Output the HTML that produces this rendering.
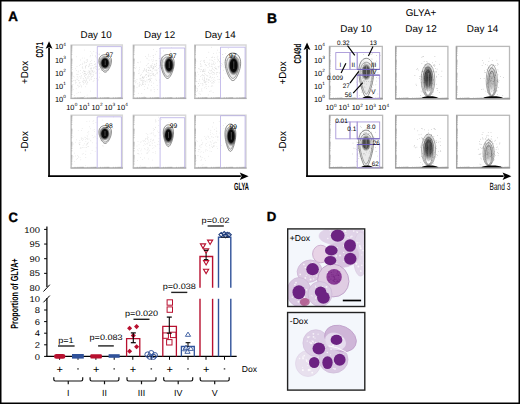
<!DOCTYPE html>
<html><head><meta charset="utf-8"><style>
html,body{margin:0;padding:0;background:#fff;width:520px;height:404px;overflow:hidden}
svg{display:block}
text{font-family:"Liberation Sans", sans-serif;stroke:none}
</style></head><body>
<svg width="520" height="404" viewBox="0 0 520 404" text-rendering="geometricPrecision" font-family='"Liberation Sans", sans-serif'><rect x="0" y="0" width="520" height="404" fill="#fff"/><text x="8.2" y="20.95" font-size="13.4" text-anchor="start" font-weight="bold" fill="#000" style="stroke:#000;stroke-width:0.35px">A</text><text x="96.1" y="37.9" font-size="9.8" text-anchor="middle" fill="#000">Day 10</text><text x="159.6" y="37.9" font-size="9.8" text-anchor="middle" fill="#000">Day 12</text><text x="220.2" y="37.9" font-size="9.8" text-anchor="middle" fill="#000">Day 14</text><line x1="49.05" y1="47.8" x2="49.05" y2="177" stroke="#000" stroke-width="1.7"/><polygon points="49.05,41.3 52.449999999999996,48.8 49.05,47.199999999999996 45.65,48.8" fill="#000"/><line x1="48.2" y1="176.2" x2="240.79999999999998" y2="176.2" stroke="#000" stroke-width="1.7"/><polygon points="248.6,176.2 239.79999999999998,172.5 241.6,176.2 239.79999999999998,179.89999999999998" fill="#000"/><text x="0" y="0" font-size="10.0" text-anchor="middle" font-weight="bold" fill="#000" transform="translate(43.0,49.9) rotate(-90) scale(0.6,1)">CD71</text><text x="0" y="0" font-size="10.2" text-anchor="middle" fill="#000" transform="translate(27.6,72.4) rotate(-90) scale(0.96,1)">+Dox</text><text x="0" y="0" font-size="10.2" text-anchor="middle" fill="#000" transform="translate(27.6,141.4) rotate(-90) scale(0.96,1)">-Dox</text><text x="0" y="0" font-size="10.4" text-anchor="middle" font-weight="bold" fill="#000" transform="translate(241.4,189.5) scale(0.55,1)">GLYA</text><text x="54.9" y="49.4" font-size="7.4" text-anchor="start">10<tspan font-size="4.70" dy="-3.5" dx="0.2">4</tspan></text><text x="54.9" y="62.519999999999996" font-size="7.4" text-anchor="start">10<tspan font-size="4.70" dy="-3.5" dx="0.2">3</tspan></text><text x="54.9" y="75.64" font-size="7.4" text-anchor="start">10<tspan font-size="4.70" dy="-3.5" dx="0.2">2</tspan></text><text x="54.9" y="88.75999999999999" font-size="7.4" text-anchor="start">10<tspan font-size="4.70" dy="-3.5" dx="0.2">1</tspan></text><text x="54.9" y="101.88" font-size="7.4" text-anchor="start">10<tspan font-size="4.70" dy="-3.5" dx="0.2">0</tspan></text><text x="66.2" y="109.5" font-size="7.4" text-anchor="start">10<tspan font-size="4.70" dy="-3.5" dx="0.2">0</tspan></text><text x="78.85000000000001" y="109.5" font-size="7.4" text-anchor="start">10<tspan font-size="4.70" dy="-3.5" dx="0.2">1</tspan></text><text x="91.5" y="109.5" font-size="7.4" text-anchor="start">10<tspan font-size="4.70" dy="-3.5" dx="0.2">2</tspan></text><text x="104.15" y="109.5" font-size="7.4" text-anchor="start">10<tspan font-size="4.70" dy="-3.5" dx="0.2">3</tspan></text><text x="116.80000000000001" y="109.5" font-size="7.4" text-anchor="start">10<tspan font-size="4.70" dy="-3.5" dx="0.2">4</tspan></text><rect x="71.2" y="45.0" width="51.099999999999994" height="53.400000000000006" stroke="#d8d8d8" fill="none" stroke-width="1.5"/><line x1="71.2" y1="45.0" x2="71.2" y2="98.4" stroke="#c2c2c2" stroke-width="1.2"/><line x1="70.60000000000001" y1="98.4" x2="122.89999999999999" y2="98.4" stroke="#b2b2b2" stroke-width="1.4"/><line x1="71.2" y1="94.38124955788585" x2="72.4" y2="94.38124955788585" stroke="#999" stroke-width="0.5"/><line x1="71.2" y1="92.03043124949251" x2="72.4" y2="92.03043124949251" stroke="#999" stroke-width="0.5"/><line x1="71.2" y1="90.36249911577171" x2="72.4" y2="90.36249911577171" stroke="#999" stroke-width="0.5"/><line x1="71.2" y1="89.06875044211415" x2="72.4" y2="89.06875044211415" stroke="#999" stroke-width="0.5"/><line x1="71.2" y1="88.01168080737835" x2="72.4" y2="88.01168080737835" stroke="#999" stroke-width="0.5"/><line x1="71.2" y1="87.11794116580967" x2="72.4" y2="87.11794116580967" stroke="#999" stroke-width="0.5"/><line x1="71.2" y1="86.34374867365756" x2="72.4" y2="86.34374867365756" stroke="#999" stroke-width="0.5"/><line x1="71.2" y1="85.66086249898501" x2="72.4" y2="85.66086249898501" stroke="#999" stroke-width="0.5"/><line x1="71.2" y1="81.03124955788586" x2="72.4" y2="81.03124955788586" stroke="#999" stroke-width="0.5"/><line x1="71.2" y1="78.68043124949251" x2="72.4" y2="78.68043124949251" stroke="#999" stroke-width="0.5"/><line x1="71.2" y1="77.01249911577172" x2="72.4" y2="77.01249911577172" stroke="#999" stroke-width="0.5"/><line x1="71.2" y1="75.71875044211416" x2="72.4" y2="75.71875044211416" stroke="#999" stroke-width="0.5"/><line x1="71.2" y1="74.66168080737836" x2="72.4" y2="74.66168080737836" stroke="#999" stroke-width="0.5"/><line x1="71.2" y1="73.76794116580967" x2="72.4" y2="73.76794116580967" stroke="#999" stroke-width="0.5"/><line x1="71.2" y1="72.99374867365756" x2="72.4" y2="72.99374867365756" stroke="#999" stroke-width="0.5"/><line x1="71.2" y1="72.31086249898502" x2="72.4" y2="72.31086249898502" stroke="#999" stroke-width="0.5"/><line x1="71.2" y1="67.68124955788585" x2="72.4" y2="67.68124955788585" stroke="#999" stroke-width="0.5"/><line x1="71.2" y1="65.3304312494925" x2="72.4" y2="65.3304312494925" stroke="#999" stroke-width="0.5"/><line x1="71.2" y1="63.6624991157717" x2="72.4" y2="63.6624991157717" stroke="#999" stroke-width="0.5"/><line x1="71.2" y1="62.36875044211415" x2="72.4" y2="62.36875044211415" stroke="#999" stroke-width="0.5"/><line x1="71.2" y1="61.31168080737836" x2="72.4" y2="61.31168080737836" stroke="#999" stroke-width="0.5"/><line x1="71.2" y1="60.41794116580967" x2="72.4" y2="60.41794116580967" stroke="#999" stroke-width="0.5"/><line x1="71.2" y1="59.643748673657555" x2="72.4" y2="59.643748673657555" stroke="#999" stroke-width="0.5"/><line x1="71.2" y1="58.960862498985016" x2="72.4" y2="58.960862498985016" stroke="#999" stroke-width="0.5"/><line x1="71.2" y1="54.331249557885855" x2="72.4" y2="54.331249557885855" stroke="#999" stroke-width="0.5"/><line x1="71.2" y1="51.980431249492504" x2="72.4" y2="51.980431249492504" stroke="#999" stroke-width="0.5"/><line x1="71.2" y1="50.3124991157717" x2="72.4" y2="50.3124991157717" stroke="#999" stroke-width="0.5"/><line x1="71.2" y1="49.01875044211415" x2="72.4" y2="49.01875044211415" stroke="#999" stroke-width="0.5"/><line x1="71.2" y1="47.96168080737836" x2="72.4" y2="47.96168080737836" stroke="#999" stroke-width="0.5"/><line x1="71.2" y1="47.06794116580967" x2="72.4" y2="47.06794116580967" stroke="#999" stroke-width="0.5"/><line x1="71.2" y1="46.293748673657554" x2="72.4" y2="46.293748673657554" stroke="#999" stroke-width="0.5"/><line x1="71.2" y1="45.610862498985014" x2="72.4" y2="45.610862498985014" stroke="#999" stroke-width="0.5"/><line x1="75.04565819460736" y1="98.4" x2="75.04565819460736" y2="97.2" stroke="#999" stroke-width="0.5"/><line x1="77.2952240290437" y1="98.4" x2="77.2952240290437" y2="97.2" stroke="#999" stroke-width="0.5"/><line x1="78.89131638921472" y1="98.4" x2="78.89131638921472" y2="97.2" stroke="#999" stroke-width="0.5"/><line x1="80.12934180539264" y1="98.4" x2="80.12934180539264" y2="97.2" stroke="#999" stroke-width="0.5"/><line x1="81.14088222365105" y1="98.4" x2="81.14088222365105" y2="97.2" stroke="#999" stroke-width="0.5"/><line x1="81.99612746118213" y1="98.4" x2="81.99612746118213" y2="97.2" stroke="#999" stroke-width="0.5"/><line x1="82.73697458382208" y1="98.4" x2="82.73697458382208" y2="97.2" stroke="#999" stroke-width="0.5"/><line x1="83.39044805808737" y1="98.4" x2="83.39044805808737" y2="97.2" stroke="#999" stroke-width="0.5"/><line x1="87.82065819460735" y1="98.4" x2="87.82065819460735" y2="97.2" stroke="#999" stroke-width="0.5"/><line x1="90.07022402904369" y1="98.4" x2="90.07022402904369" y2="97.2" stroke="#999" stroke-width="0.5"/><line x1="91.66631638921471" y1="98.4" x2="91.66631638921471" y2="97.2" stroke="#999" stroke-width="0.5"/><line x1="92.90434180539263" y1="98.4" x2="92.90434180539263" y2="97.2" stroke="#999" stroke-width="0.5"/><line x1="93.91588222365104" y1="98.4" x2="93.91588222365104" y2="97.2" stroke="#999" stroke-width="0.5"/><line x1="94.77112746118212" y1="98.4" x2="94.77112746118212" y2="97.2" stroke="#999" stroke-width="0.5"/><line x1="95.51197458382207" y1="98.4" x2="95.51197458382207" y2="97.2" stroke="#999" stroke-width="0.5"/><line x1="96.16544805808736" y1="98.4" x2="96.16544805808736" y2="97.2" stroke="#999" stroke-width="0.5"/><line x1="100.59565819460735" y1="98.4" x2="100.59565819460735" y2="97.2" stroke="#999" stroke-width="0.5"/><line x1="102.84522402904369" y1="98.4" x2="102.84522402904369" y2="97.2" stroke="#999" stroke-width="0.5"/><line x1="104.44131638921472" y1="98.4" x2="104.44131638921472" y2="97.2" stroke="#999" stroke-width="0.5"/><line x1="105.67934180539264" y1="98.4" x2="105.67934180539264" y2="97.2" stroke="#999" stroke-width="0.5"/><line x1="106.69088222365104" y1="98.4" x2="106.69088222365104" y2="97.2" stroke="#999" stroke-width="0.5"/><line x1="107.54612746118212" y1="98.4" x2="107.54612746118212" y2="97.2" stroke="#999" stroke-width="0.5"/><line x1="108.28697458382207" y1="98.4" x2="108.28697458382207" y2="97.2" stroke="#999" stroke-width="0.5"/><line x1="108.94044805808737" y1="98.4" x2="108.94044805808737" y2="97.2" stroke="#999" stroke-width="0.5"/><line x1="113.37065819460736" y1="98.4" x2="113.37065819460736" y2="97.2" stroke="#999" stroke-width="0.5"/><line x1="115.6202240290437" y1="98.4" x2="115.6202240290437" y2="97.2" stroke="#999" stroke-width="0.5"/><line x1="117.21631638921473" y1="98.4" x2="117.21631638921473" y2="97.2" stroke="#999" stroke-width="0.5"/><line x1="118.45434180539264" y1="98.4" x2="118.45434180539264" y2="97.2" stroke="#999" stroke-width="0.5"/><line x1="119.46588222365105" y1="98.4" x2="119.46588222365105" y2="97.2" stroke="#999" stroke-width="0.5"/><line x1="120.32112746118213" y1="98.4" x2="120.32112746118213" y2="97.2" stroke="#999" stroke-width="0.5"/><line x1="121.06197458382208" y1="98.4" x2="121.06197458382208" y2="97.2" stroke="#999" stroke-width="0.5"/><line x1="121.71544805808738" y1="98.4" x2="121.71544805808738" y2="97.2" stroke="#999" stroke-width="0.5"/><g fill="#999" opacity="0.55"><circle cx="83.9" cy="79.0" r="0.36"/><circle cx="84.2" cy="71.5" r="0.36"/><circle cx="77.9" cy="77.0" r="0.36"/><circle cx="96.3" cy="69.2" r="0.36"/><circle cx="95.6" cy="68.1" r="0.36"/><circle cx="89.8" cy="71.8" r="0.36"/><circle cx="90.8" cy="73.8" r="0.36"/><circle cx="78.2" cy="74.5" r="0.36"/><circle cx="89.0" cy="70.3" r="0.36"/><circle cx="90.9" cy="63.7" r="0.36"/><circle cx="89.0" cy="74.2" r="0.36"/><circle cx="80.3" cy="92.2" r="0.36"/><circle cx="91.3" cy="79.6" r="0.36"/><circle cx="80.7" cy="70.4" r="0.36"/><circle cx="83.2" cy="74.1" r="0.36"/><circle cx="91.9" cy="70.8" r="0.36"/><circle cx="82.2" cy="67.3" r="0.36"/><circle cx="81.6" cy="86.9" r="0.36"/><circle cx="79.0" cy="80.3" r="0.36"/><circle cx="90.1" cy="56.8" r="0.36"/><circle cx="86.7" cy="83.9" r="0.36"/><circle cx="85.3" cy="66.3" r="0.36"/><circle cx="90.7" cy="68.9" r="0.36"/><circle cx="73.1" cy="89.7" r="0.36"/><circle cx="92.3" cy="76.7" r="0.36"/><circle cx="99.2" cy="66.4" r="0.36"/><circle cx="87.3" cy="60.5" r="0.36"/><circle cx="91.8" cy="63.3" r="0.36"/><circle cx="82.2" cy="64.6" r="0.36"/><circle cx="77.5" cy="74.5" r="0.36"/><circle cx="97.8" cy="46.4" r="0.36"/><circle cx="73.1" cy="84.5" r="0.36"/><circle cx="99.2" cy="68.3" r="0.36"/><circle cx="89.5" cy="63.9" r="0.36"/><circle cx="76.2" cy="88.8" r="0.36"/><circle cx="96.2" cy="66.9" r="0.36"/><circle cx="88.5" cy="75.0" r="0.36"/><circle cx="100.6" cy="67.7" r="0.36"/><circle cx="90.9" cy="74.2" r="0.36"/><circle cx="94.8" cy="71.1" r="0.36"/><circle cx="93.8" cy="51.3" r="0.36"/><circle cx="84.6" cy="83.0" r="0.36"/><circle cx="74.4" cy="95.6" r="0.36"/><circle cx="91.2" cy="67.8" r="0.36"/><circle cx="89.2" cy="76.3" r="0.36"/><circle cx="87.3" cy="82.1" r="0.36"/><circle cx="80.3" cy="73.5" r="0.36"/><circle cx="95.6" cy="66.1" r="0.36"/><circle cx="78.3" cy="86.9" r="0.36"/><circle cx="99.4" cy="59.2" r="0.36"/><circle cx="73.8" cy="80.7" r="0.36"/><circle cx="84.9" cy="71.1" r="0.36"/><circle cx="98.9" cy="54.5" r="0.36"/><circle cx="97.6" cy="53.3" r="0.36"/><circle cx="79.2" cy="83.5" r="0.36"/><circle cx="96.4" cy="72.9" r="0.36"/><circle cx="89.4" cy="71.7" r="0.36"/><circle cx="87.6" cy="76.8" r="0.36"/><circle cx="84.7" cy="76.4" r="0.36"/><circle cx="91.4" cy="69.0" r="0.36"/><circle cx="93.1" cy="72.7" r="0.36"/><circle cx="104.3" cy="62.4" r="0.36"/><circle cx="82.4" cy="72.3" r="0.36"/><circle cx="86.1" cy="81.0" r="0.36"/><circle cx="83.2" cy="78.4" r="0.36"/><circle cx="76.1" cy="82.3" r="0.36"/><circle cx="89.8" cy="72.2" r="0.36"/><circle cx="82.4" cy="81.4" r="0.36"/><circle cx="88.8" cy="66.3" r="0.36"/><circle cx="108.1" cy="59.9" r="0.36"/><circle cx="81.3" cy="75.6" r="0.36"/><circle cx="84.2" cy="73.7" r="0.36"/><circle cx="95.3" cy="55.8" r="0.36"/><circle cx="85.6" cy="81.6" r="0.36"/><circle cx="94.0" cy="80.2" r="0.36"/><circle cx="83.2" cy="80.5" r="0.36"/><circle cx="96.0" cy="52.8" r="0.36"/><circle cx="92.4" cy="55.1" r="0.36"/><circle cx="87.8" cy="82.1" r="0.36"/><circle cx="84.9" cy="75.4" r="0.36"/><circle cx="93.4" cy="68.8" r="0.36"/><circle cx="85.5" cy="86.8" r="0.36"/><circle cx="95.7" cy="63.3" r="0.36"/><circle cx="94.5" cy="64.4" r="0.36"/><circle cx="87.4" cy="78.1" r="0.36"/><circle cx="88.2" cy="76.9" r="0.36"/><circle cx="72.5" cy="69.6" r="0.36"/><circle cx="91.8" cy="60.2" r="0.36"/><circle cx="77.0" cy="66.6" r="0.36"/><circle cx="97.6" cy="71.0" r="0.36"/><circle cx="99.5" cy="54.8" r="0.36"/><circle cx="86.3" cy="62.7" r="0.36"/><circle cx="93.1" cy="81.7" r="0.36"/><circle cx="78.2" cy="92.4" r="0.36"/><circle cx="95.1" cy="64.7" r="0.36"/><circle cx="85.4" cy="68.1" r="0.36"/><circle cx="89.8" cy="73.7" r="0.36"/><circle cx="99.7" cy="53.9" r="0.36"/><circle cx="96.5" cy="78.4" r="0.36"/><circle cx="99.3" cy="61.6" r="0.36"/><circle cx="79.6" cy="86.6" r="0.36"/><circle cx="87.3" cy="73.1" r="0.36"/><circle cx="99.1" cy="61.0" r="0.36"/><circle cx="89.1" cy="65.3" r="0.36"/><circle cx="86.2" cy="80.2" r="0.36"/><circle cx="87.0" cy="83.9" r="0.36"/><circle cx="85.7" cy="82.3" r="0.36"/><circle cx="99.7" cy="77.1" r="0.36"/><circle cx="80.2" cy="84.9" r="0.36"/><circle cx="75.2" cy="80.8" r="0.36"/><circle cx="84.5" cy="73.8" r="0.36"/><circle cx="80.9" cy="78.7" r="0.36"/><circle cx="102.4" cy="61.3" r="0.36"/><circle cx="91.0" cy="78.1" r="0.36"/><circle cx="84.5" cy="63.0" r="0.36"/><circle cx="81.3" cy="85.9" r="0.36"/><circle cx="95.3" cy="73.1" r="0.36"/><circle cx="86.3" cy="79.8" r="0.36"/><circle cx="87.7" cy="61.3" r="0.36"/><circle cx="94.6" cy="61.7" r="0.36"/><circle cx="78.1" cy="71.9" r="0.36"/><circle cx="72.5" cy="81.8" r="0.36"/><circle cx="75.6" cy="83.8" r="0.36"/><circle cx="80.5" cy="59.9" r="0.36"/><circle cx="92.8" cy="65.6" r="0.36"/><circle cx="88.9" cy="66.8" r="0.36"/><circle cx="93.3" cy="74.2" r="0.36"/><circle cx="92.2" cy="71.2" r="0.36"/><circle cx="98.3" cy="69.8" r="0.36"/><circle cx="90.3" cy="51.5" r="0.36"/><circle cx="94.3" cy="78.4" r="0.36"/><circle cx="83.6" cy="70.6" r="0.36"/><circle cx="90.5" cy="91.0" r="0.36"/><circle cx="77.9" cy="85.0" r="0.36"/><circle cx="103.2" cy="59.3" r="0.36"/><circle cx="91.3" cy="77.0" r="0.36"/><circle cx="78.1" cy="78.0" r="0.36"/><circle cx="88.9" cy="78.1" r="0.36"/><circle cx="85.9" cy="71.3" r="0.36"/><circle cx="77.1" cy="76.3" r="0.36"/><circle cx="94.3" cy="67.8" r="0.36"/><circle cx="78.6" cy="71.0" r="0.36"/><circle cx="110.3" cy="65.2" r="0.36"/><circle cx="91.8" cy="72.9" r="0.36"/><circle cx="101.4" cy="65.4" r="0.36"/><circle cx="85.6" cy="77.8" r="0.36"/><circle cx="89.2" cy="64.4" r="0.36"/><circle cx="98.2" cy="79.9" r="0.36"/><circle cx="73.6" cy="76.2" r="0.36"/><circle cx="88.9" cy="72.5" r="0.36"/><circle cx="82.7" cy="66.8" r="0.36"/><circle cx="105.3" cy="67.9" r="0.36"/><circle cx="75.5" cy="68.8" r="0.36"/><circle cx="101.6" cy="70.2" r="0.36"/><circle cx="102.6" cy="67.9" r="0.36"/><circle cx="78.4" cy="80.8" r="0.36"/><circle cx="85.7" cy="77.8" r="0.36"/><circle cx="79.7" cy="76.5" r="0.36"/><circle cx="90.4" cy="73.1" r="0.36"/><circle cx="92.0" cy="70.4" r="0.36"/><circle cx="83.3" cy="81.9" r="0.36"/><circle cx="86.7" cy="65.2" r="0.36"/><circle cx="80.6" cy="76.9" r="0.36"/><circle cx="85.3" cy="74.9" r="0.36"/><circle cx="86.2" cy="74.3" r="0.36"/><circle cx="85.0" cy="62.6" r="0.36"/><circle cx="90.0" cy="79.3" r="0.36"/><circle cx="90.2" cy="68.2" r="0.36"/><circle cx="90.3" cy="61.3" r="0.36"/><circle cx="77.9" cy="85.4" r="0.36"/><circle cx="76.5" cy="56.8" r="0.36"/><circle cx="76.9" cy="93.5" r="0.36"/><circle cx="82.8" cy="63.2" r="0.36"/><circle cx="79.4" cy="82.4" r="0.36"/><circle cx="90.7" cy="71.0" r="0.36"/><circle cx="99.6" cy="69.2" r="0.36"/><circle cx="86.1" cy="78.2" r="0.36"/><circle cx="101.1" cy="70.4" r="0.36"/><circle cx="95.5" cy="56.5" r="0.36"/><circle cx="84.9" cy="80.2" r="0.36"/><circle cx="83.6" cy="84.1" r="0.36"/><circle cx="91.6" cy="76.8" r="0.36"/><circle cx="84.3" cy="96.6" r="0.36"/><circle cx="97.4" cy="62.7" r="0.36"/><circle cx="87.1" cy="95.0" r="0.36"/><circle cx="83.2" cy="82.7" r="0.36"/><circle cx="95.1" cy="66.4" r="0.36"/><circle cx="75.7" cy="82.1" r="0.36"/><circle cx="89.5" cy="80.3" r="0.36"/><circle cx="93.3" cy="67.8" r="0.36"/><circle cx="93.9" cy="71.9" r="0.36"/><circle cx="88.1" cy="71.9" r="0.36"/><circle cx="84.1" cy="80.4" r="0.36"/><circle cx="76.8" cy="74.2" r="0.36"/><circle cx="86.3" cy="59.9" r="0.36"/><circle cx="82.3" cy="58.0" r="0.36"/><circle cx="80.1" cy="82.3" r="0.36"/><circle cx="91.3" cy="68.6" r="0.36"/><circle cx="84.2" cy="61.8" r="0.36"/><circle cx="102.7" cy="65.2" r="0.36"/><circle cx="96.1" cy="57.8" r="0.36"/><circle cx="84.6" cy="58.0" r="0.36"/><circle cx="93.3" cy="75.8" r="0.36"/><circle cx="91.9" cy="53.1" r="0.36"/><circle cx="80.6" cy="64.6" r="0.36"/><circle cx="86.5" cy="74.8" r="0.36"/><circle cx="92.0" cy="74.8" r="0.36"/><circle cx="99.8" cy="73.1" r="0.36"/><circle cx="74.4" cy="77.0" r="0.36"/><circle cx="76.7" cy="70.3" r="0.36"/><circle cx="85.5" cy="73.4" r="0.36"/><circle cx="90.7" cy="55.6" r="0.36"/><circle cx="75.1" cy="80.7" r="0.36"/><circle cx="84.5" cy="71.3" r="0.36"/><circle cx="85.7" cy="66.5" r="0.36"/><circle cx="92.6" cy="71.3" r="0.36"/><circle cx="85.5" cy="67.4" r="0.36"/><circle cx="84.7" cy="50.0" r="0.36"/><circle cx="77.4" cy="79.6" r="0.36"/><circle cx="72.7" cy="84.5" r="0.36"/><circle cx="87.6" cy="59.7" r="0.36"/><circle cx="84.0" cy="71.7" r="0.36"/><circle cx="90.4" cy="75.1" r="0.36"/><circle cx="85.9" cy="65.5" r="0.36"/><circle cx="85.0" cy="73.1" r="0.36"/><circle cx="92.9" cy="70.5" r="0.36"/><circle cx="79.7" cy="65.6" r="0.36"/><circle cx="82.9" cy="68.7" r="0.36"/><circle cx="76.2" cy="79.1" r="0.36"/><circle cx="81.8" cy="76.9" r="0.36"/><circle cx="91.0" cy="65.7" r="0.36"/><circle cx="107.2" cy="54.6" r="0.36"/><circle cx="96.2" cy="66.6" r="0.36"/></g><polyline points="97.3,98.4 97.3,46.6 121.39999999999999,46.6 121.39999999999999,98.4" fill="none" stroke="#b3a8e4" stroke-width="0.75"/><defs><radialGradient id="g1"><stop offset="0" stop-color="#000" stop-opacity="1.0"/><stop offset="0.6" stop-color="#000" stop-opacity="0.95"/><stop offset="0.8" stop-color="#000" stop-opacity="0.45"/><stop offset="1" stop-color="#000" stop-opacity="0"/></radialGradient></defs><path d="M105.20,54.60 L106.23,54.68 L107.23,54.90 L108.17,55.27 L109.03,55.78 L109.78,56.42 L110.40,57.18 L110.89,58.04 L111.23,59.00 L111.42,60.03 L111.48,61.12 L111.40,62.25 L111.20,63.40 L110.90,64.55 L110.52,65.68 L110.06,66.77 L109.56,67.80 L109.03,68.76 L108.48,69.62 L107.93,70.38 L107.37,71.02 L106.82,71.53 L106.27,71.90 L105.73,72.12 L105.20,72.20 L104.67,72.12 L104.13,71.90 L103.58,71.53 L103.03,71.02 L102.47,70.38 L101.92,69.62 L101.37,68.76 L100.84,67.80 L100.34,66.77 L99.88,65.68 L99.50,64.55 L99.20,63.40 L99.00,62.25 L98.92,61.12 L98.98,60.03 L99.17,59.00 L99.51,58.04 L100.00,57.18 L100.62,56.42 L101.37,55.78 L102.23,55.27 L103.17,54.90 L104.17,54.68Z" fill="#000" fill-opacity="0.03" stroke="#333" stroke-width="0.55"/><path d="M105.20,56.36 L106.05,56.42 L106.87,56.61 L107.64,56.91 L108.34,57.33 L108.96,57.85 L109.47,58.47 L109.86,59.18 L110.14,59.97 L110.30,60.81 L110.35,61.71 L110.28,62.63 L110.12,63.58 L109.87,64.52 L109.56,65.44 L109.19,66.34 L108.78,67.18 L108.34,67.97 L107.89,68.68 L107.43,69.30 L106.98,69.83 L106.53,70.24 L106.08,70.55 L105.64,70.73 L105.20,70.79 L104.76,70.73 L104.32,70.55 L103.87,70.24 L103.42,69.83 L102.97,69.30 L102.51,68.68 L102.06,67.97 L101.62,67.18 L101.21,66.34 L100.84,65.44 L100.53,64.52 L100.28,63.58 L100.12,62.63 L100.05,61.71 L100.10,60.81 L100.26,59.97 L100.54,59.18 L100.93,58.47 L101.44,57.85 L102.06,57.33 L102.76,56.91 L103.53,56.61 L104.35,56.42Z" fill="#000" fill-opacity="0.05" stroke="#444" stroke-width="0.45"/><ellipse cx="105.0" cy="63.00" rx="5.22" ry="6.67" fill="url(#g1)"/><line x1="105.20" y1="60.36" x2="105.20" y2="65.20" stroke="#fff" stroke-width="0.7" opacity="0.4"/><text x="109.4" y="57.4" font-size="6.7" text-anchor="middle" fill="#000">97</text><rect x="133.4" y="45.0" width="52.19999999999999" height="53.400000000000006" stroke="#d8d8d8" fill="none" stroke-width="1.5"/><line x1="133.4" y1="45.0" x2="133.4" y2="98.4" stroke="#c2c2c2" stroke-width="1.2"/><line x1="132.8" y1="98.4" x2="186.2" y2="98.4" stroke="#b2b2b2" stroke-width="1.4"/><line x1="133.4" y1="94.38124955788585" x2="134.6" y2="94.38124955788585" stroke="#999" stroke-width="0.5"/><line x1="133.4" y1="92.03043124949251" x2="134.6" y2="92.03043124949251" stroke="#999" stroke-width="0.5"/><line x1="133.4" y1="90.36249911577171" x2="134.6" y2="90.36249911577171" stroke="#999" stroke-width="0.5"/><line x1="133.4" y1="89.06875044211415" x2="134.6" y2="89.06875044211415" stroke="#999" stroke-width="0.5"/><line x1="133.4" y1="88.01168080737835" x2="134.6" y2="88.01168080737835" stroke="#999" stroke-width="0.5"/><line x1="133.4" y1="87.11794116580967" x2="134.6" y2="87.11794116580967" stroke="#999" stroke-width="0.5"/><line x1="133.4" y1="86.34374867365756" x2="134.6" y2="86.34374867365756" stroke="#999" stroke-width="0.5"/><line x1="133.4" y1="85.66086249898501" x2="134.6" y2="85.66086249898501" stroke="#999" stroke-width="0.5"/><line x1="133.4" y1="81.03124955788586" x2="134.6" y2="81.03124955788586" stroke="#999" stroke-width="0.5"/><line x1="133.4" y1="78.68043124949251" x2="134.6" y2="78.68043124949251" stroke="#999" stroke-width="0.5"/><line x1="133.4" y1="77.01249911577172" x2="134.6" y2="77.01249911577172" stroke="#999" stroke-width="0.5"/><line x1="133.4" y1="75.71875044211416" x2="134.6" y2="75.71875044211416" stroke="#999" stroke-width="0.5"/><line x1="133.4" y1="74.66168080737836" x2="134.6" y2="74.66168080737836" stroke="#999" stroke-width="0.5"/><line x1="133.4" y1="73.76794116580967" x2="134.6" y2="73.76794116580967" stroke="#999" stroke-width="0.5"/><line x1="133.4" y1="72.99374867365756" x2="134.6" y2="72.99374867365756" stroke="#999" stroke-width="0.5"/><line x1="133.4" y1="72.31086249898502" x2="134.6" y2="72.31086249898502" stroke="#999" stroke-width="0.5"/><line x1="133.4" y1="67.68124955788585" x2="134.6" y2="67.68124955788585" stroke="#999" stroke-width="0.5"/><line x1="133.4" y1="65.3304312494925" x2="134.6" y2="65.3304312494925" stroke="#999" stroke-width="0.5"/><line x1="133.4" y1="63.6624991157717" x2="134.6" y2="63.6624991157717" stroke="#999" stroke-width="0.5"/><line x1="133.4" y1="62.36875044211415" x2="134.6" y2="62.36875044211415" stroke="#999" stroke-width="0.5"/><line x1="133.4" y1="61.31168080737836" x2="134.6" y2="61.31168080737836" stroke="#999" stroke-width="0.5"/><line x1="133.4" y1="60.41794116580967" x2="134.6" y2="60.41794116580967" stroke="#999" stroke-width="0.5"/><line x1="133.4" y1="59.643748673657555" x2="134.6" y2="59.643748673657555" stroke="#999" stroke-width="0.5"/><line x1="133.4" y1="58.960862498985016" x2="134.6" y2="58.960862498985016" stroke="#999" stroke-width="0.5"/><line x1="133.4" y1="54.331249557885855" x2="134.6" y2="54.331249557885855" stroke="#999" stroke-width="0.5"/><line x1="133.4" y1="51.980431249492504" x2="134.6" y2="51.980431249492504" stroke="#999" stroke-width="0.5"/><line x1="133.4" y1="50.3124991157717" x2="134.6" y2="50.3124991157717" stroke="#999" stroke-width="0.5"/><line x1="133.4" y1="49.01875044211415" x2="134.6" y2="49.01875044211415" stroke="#999" stroke-width="0.5"/><line x1="133.4" y1="47.96168080737836" x2="134.6" y2="47.96168080737836" stroke="#999" stroke-width="0.5"/><line x1="133.4" y1="47.06794116580967" x2="134.6" y2="47.06794116580967" stroke="#999" stroke-width="0.5"/><line x1="133.4" y1="46.293748673657554" x2="134.6" y2="46.293748673657554" stroke="#999" stroke-width="0.5"/><line x1="133.4" y1="45.610862498985014" x2="134.6" y2="45.610862498985014" stroke="#999" stroke-width="0.5"/><line x1="137.32844144341496" y1="98.4" x2="137.32844144341496" y2="97.2" stroke="#999" stroke-width="0.5"/><line x1="139.6264323740916" y1="98.4" x2="139.6264323740916" y2="97.2" stroke="#999" stroke-width="0.5"/><line x1="141.2568828868299" y1="98.4" x2="141.2568828868299" y2="97.2" stroke="#999" stroke-width="0.5"/><line x1="142.52155855658503" y1="98.4" x2="142.52155855658503" y2="97.2" stroke="#999" stroke-width="0.5"/><line x1="143.55487381750655" y1="98.4" x2="143.55487381750655" y2="97.2" stroke="#999" stroke-width="0.5"/><line x1="144.42852942218605" y1="98.4" x2="144.42852942218605" y2="97.2" stroke="#999" stroke-width="0.5"/><line x1="145.18532433024487" y1="98.4" x2="145.18532433024487" y2="97.2" stroke="#999" stroke-width="0.5"/><line x1="145.85286474818318" y1="98.4" x2="145.85286474818318" y2="97.2" stroke="#999" stroke-width="0.5"/><line x1="150.37844144341494" y1="98.4" x2="150.37844144341494" y2="97.2" stroke="#999" stroke-width="0.5"/><line x1="152.67643237409158" y1="98.4" x2="152.67643237409158" y2="97.2" stroke="#999" stroke-width="0.5"/><line x1="154.3068828868299" y1="98.4" x2="154.3068828868299" y2="97.2" stroke="#999" stroke-width="0.5"/><line x1="155.57155855658505" y1="98.4" x2="155.57155855658505" y2="97.2" stroke="#999" stroke-width="0.5"/><line x1="156.60487381750653" y1="98.4" x2="156.60487381750653" y2="97.2" stroke="#999" stroke-width="0.5"/><line x1="157.47852942218603" y1="98.4" x2="157.47852942218603" y2="97.2" stroke="#999" stroke-width="0.5"/><line x1="158.23532433024485" y1="98.4" x2="158.23532433024485" y2="97.2" stroke="#999" stroke-width="0.5"/><line x1="158.90286474818316" y1="98.4" x2="158.90286474818316" y2="97.2" stroke="#999" stroke-width="0.5"/><line x1="163.42844144341495" y1="98.4" x2="163.42844144341495" y2="97.2" stroke="#999" stroke-width="0.5"/><line x1="165.7264323740916" y1="98.4" x2="165.7264323740916" y2="97.2" stroke="#999" stroke-width="0.5"/><line x1="167.3568828868299" y1="98.4" x2="167.3568828868299" y2="97.2" stroke="#999" stroke-width="0.5"/><line x1="168.62155855658506" y1="98.4" x2="168.62155855658506" y2="97.2" stroke="#999" stroke-width="0.5"/><line x1="169.65487381750654" y1="98.4" x2="169.65487381750654" y2="97.2" stroke="#999" stroke-width="0.5"/><line x1="170.52852942218604" y1="98.4" x2="170.52852942218604" y2="97.2" stroke="#999" stroke-width="0.5"/><line x1="171.28532433024486" y1="98.4" x2="171.28532433024486" y2="97.2" stroke="#999" stroke-width="0.5"/><line x1="171.95286474818317" y1="98.4" x2="171.95286474818317" y2="97.2" stroke="#999" stroke-width="0.5"/><line x1="176.47844144341497" y1="98.4" x2="176.47844144341497" y2="97.2" stroke="#999" stroke-width="0.5"/><line x1="178.7764323740916" y1="98.4" x2="178.7764323740916" y2="97.2" stroke="#999" stroke-width="0.5"/><line x1="180.40688288682992" y1="98.4" x2="180.40688288682992" y2="97.2" stroke="#999" stroke-width="0.5"/><line x1="181.67155855658507" y1="98.4" x2="181.67155855658507" y2="97.2" stroke="#999" stroke-width="0.5"/><line x1="182.70487381750655" y1="98.4" x2="182.70487381750655" y2="97.2" stroke="#999" stroke-width="0.5"/><line x1="183.57852942218605" y1="98.4" x2="183.57852942218605" y2="97.2" stroke="#999" stroke-width="0.5"/><line x1="184.33532433024487" y1="98.4" x2="184.33532433024487" y2="97.2" stroke="#999" stroke-width="0.5"/><line x1="185.00286474818319" y1="98.4" x2="185.00286474818319" y2="97.2" stroke="#999" stroke-width="0.5"/><g fill="#999" opacity="0.55"><circle cx="142.0" cy="79.9" r="0.36"/><circle cx="154.2" cy="89.4" r="0.36"/><circle cx="151.7" cy="81.9" r="0.36"/><circle cx="155.6" cy="76.0" r="0.36"/><circle cx="153.3" cy="68.0" r="0.36"/><circle cx="153.3" cy="59.9" r="0.36"/><circle cx="159.4" cy="56.0" r="0.36"/><circle cx="151.0" cy="89.8" r="0.36"/><circle cx="146.7" cy="74.4" r="0.36"/><circle cx="159.2" cy="65.3" r="0.36"/><circle cx="141.5" cy="80.4" r="0.36"/><circle cx="154.0" cy="75.2" r="0.36"/><circle cx="141.8" cy="93.3" r="0.36"/><circle cx="163.8" cy="61.9" r="0.36"/><circle cx="151.2" cy="67.2" r="0.36"/><circle cx="161.5" cy="57.2" r="0.36"/><circle cx="154.8" cy="64.1" r="0.36"/><circle cx="142.5" cy="83.7" r="0.36"/><circle cx="160.8" cy="63.9" r="0.36"/><circle cx="142.7" cy="84.4" r="0.36"/><circle cx="148.3" cy="75.8" r="0.36"/><circle cx="162.5" cy="72.7" r="0.36"/><circle cx="144.1" cy="96.3" r="0.36"/><circle cx="148.8" cy="79.7" r="0.36"/><circle cx="142.9" cy="76.6" r="0.36"/><circle cx="161.0" cy="53.1" r="0.36"/><circle cx="135.2" cy="68.4" r="0.36"/><circle cx="159.3" cy="61.0" r="0.36"/><circle cx="148.2" cy="70.4" r="0.36"/><circle cx="147.7" cy="64.0" r="0.36"/><circle cx="149.0" cy="60.0" r="0.36"/><circle cx="148.1" cy="76.0" r="0.36"/><circle cx="153.0" cy="67.6" r="0.36"/><circle cx="140.6" cy="80.1" r="0.36"/><circle cx="144.4" cy="89.7" r="0.36"/><circle cx="155.7" cy="66.7" r="0.36"/><circle cx="144.5" cy="69.7" r="0.36"/><circle cx="140.3" cy="75.8" r="0.36"/><circle cx="151.4" cy="75.4" r="0.36"/><circle cx="153.9" cy="87.5" r="0.36"/><circle cx="142.4" cy="77.5" r="0.36"/><circle cx="144.1" cy="77.7" r="0.36"/><circle cx="150.1" cy="75.3" r="0.36"/><circle cx="146.6" cy="77.6" r="0.36"/><circle cx="149.2" cy="79.2" r="0.36"/><circle cx="148.7" cy="63.7" r="0.36"/><circle cx="139.3" cy="85.2" r="0.36"/><circle cx="142.9" cy="82.6" r="0.36"/><circle cx="155.5" cy="70.5" r="0.36"/><circle cx="153.3" cy="68.5" r="0.36"/><circle cx="136.1" cy="81.8" r="0.36"/><circle cx="152.8" cy="65.1" r="0.36"/><circle cx="147.9" cy="80.0" r="0.36"/><circle cx="140.8" cy="84.2" r="0.36"/><circle cx="165.5" cy="55.6" r="0.36"/><circle cx="150.1" cy="70.5" r="0.36"/><circle cx="162.6" cy="65.4" r="0.36"/><circle cx="156.8" cy="60.8" r="0.36"/><circle cx="148.6" cy="72.8" r="0.36"/><circle cx="156.8" cy="51.4" r="0.36"/><circle cx="155.4" cy="66.7" r="0.36"/><circle cx="152.8" cy="73.0" r="0.36"/><circle cx="135.3" cy="80.8" r="0.36"/><circle cx="162.2" cy="57.9" r="0.36"/><circle cx="139.5" cy="67.6" r="0.36"/><circle cx="137.8" cy="83.8" r="0.36"/><circle cx="164.0" cy="65.4" r="0.36"/><circle cx="151.0" cy="90.8" r="0.36"/><circle cx="144.1" cy="70.3" r="0.36"/><circle cx="153.5" cy="74.1" r="0.36"/><circle cx="139.6" cy="69.2" r="0.36"/><circle cx="151.4" cy="73.0" r="0.36"/><circle cx="137.0" cy="79.6" r="0.36"/><circle cx="143.9" cy="80.4" r="0.36"/><circle cx="147.7" cy="72.8" r="0.36"/><circle cx="145.6" cy="84.4" r="0.36"/><circle cx="161.3" cy="60.4" r="0.36"/><circle cx="156.4" cy="60.5" r="0.36"/><circle cx="149.4" cy="78.9" r="0.36"/><circle cx="162.4" cy="59.4" r="0.36"/><circle cx="148.1" cy="75.0" r="0.36"/><circle cx="135.3" cy="82.8" r="0.36"/><circle cx="142.7" cy="80.5" r="0.36"/><circle cx="138.6" cy="62.8" r="0.36"/><circle cx="149.1" cy="74.8" r="0.36"/><circle cx="143.8" cy="84.2" r="0.36"/><circle cx="146.3" cy="69.2" r="0.36"/><circle cx="153.0" cy="55.8" r="0.36"/><circle cx="142.7" cy="77.1" r="0.36"/><circle cx="156.4" cy="65.7" r="0.36"/><circle cx="151.5" cy="65.0" r="0.36"/><circle cx="151.5" cy="85.4" r="0.36"/><circle cx="143.0" cy="77.2" r="0.36"/><circle cx="150.3" cy="80.6" r="0.36"/><circle cx="137.6" cy="62.4" r="0.36"/><circle cx="154.2" cy="75.8" r="0.36"/><circle cx="154.4" cy="91.8" r="0.36"/><circle cx="150.6" cy="73.6" r="0.36"/><circle cx="157.1" cy="69.9" r="0.36"/><circle cx="163.7" cy="50.9" r="0.36"/><circle cx="156.1" cy="64.1" r="0.36"/><circle cx="157.1" cy="85.6" r="0.36"/><circle cx="148.7" cy="70.6" r="0.36"/><circle cx="144.3" cy="68.7" r="0.36"/><circle cx="143.1" cy="82.6" r="0.36"/><circle cx="149.1" cy="73.1" r="0.36"/><circle cx="147.2" cy="82.0" r="0.36"/><circle cx="153.2" cy="68.3" r="0.36"/><circle cx="154.7" cy="67.0" r="0.36"/><circle cx="138.4" cy="93.2" r="0.36"/><circle cx="152.9" cy="61.3" r="0.36"/><circle cx="158.5" cy="68.7" r="0.36"/><circle cx="134.7" cy="97.3" r="0.36"/><circle cx="151.8" cy="78.4" r="0.36"/><circle cx="150.5" cy="70.1" r="0.36"/><circle cx="134.8" cy="91.5" r="0.36"/><circle cx="149.0" cy="70.0" r="0.36"/><circle cx="151.9" cy="71.1" r="0.36"/><circle cx="154.8" cy="65.0" r="0.36"/><circle cx="148.4" cy="54.2" r="0.36"/><circle cx="144.9" cy="81.5" r="0.36"/><circle cx="160.8" cy="60.7" r="0.36"/><circle cx="147.7" cy="87.5" r="0.36"/><circle cx="145.8" cy="81.4" r="0.36"/><circle cx="163.9" cy="62.0" r="0.36"/><circle cx="159.8" cy="58.4" r="0.36"/><circle cx="150.6" cy="70.7" r="0.36"/><circle cx="149.8" cy="82.0" r="0.36"/><circle cx="170.3" cy="51.1" r="0.36"/><circle cx="143.6" cy="80.9" r="0.36"/><circle cx="139.3" cy="84.1" r="0.36"/><circle cx="153.9" cy="66.6" r="0.36"/><circle cx="153.5" cy="55.6" r="0.36"/><circle cx="155.6" cy="54.2" r="0.36"/><circle cx="142.5" cy="72.5" r="0.36"/><circle cx="145.1" cy="83.0" r="0.36"/><circle cx="149.5" cy="68.7" r="0.36"/><circle cx="153.6" cy="83.1" r="0.36"/><circle cx="148.8" cy="75.9" r="0.36"/><circle cx="159.9" cy="66.9" r="0.36"/><circle cx="148.4" cy="76.7" r="0.36"/><circle cx="157.4" cy="72.3" r="0.36"/><circle cx="146.3" cy="65.3" r="0.36"/><circle cx="149.7" cy="81.2" r="0.36"/><circle cx="138.9" cy="70.9" r="0.36"/><circle cx="148.5" cy="55.9" r="0.36"/><circle cx="146.4" cy="70.6" r="0.36"/><circle cx="152.8" cy="63.6" r="0.36"/><circle cx="140.8" cy="75.1" r="0.36"/><circle cx="148.3" cy="67.2" r="0.36"/><circle cx="148.9" cy="79.3" r="0.36"/><circle cx="159.4" cy="79.9" r="0.36"/><circle cx="141.7" cy="74.2" r="0.36"/><circle cx="142.2" cy="77.3" r="0.36"/><circle cx="153.5" cy="57.4" r="0.36"/><circle cx="152.9" cy="69.5" r="0.36"/><circle cx="159.5" cy="48.4" r="0.36"/><circle cx="156.0" cy="69.3" r="0.36"/><circle cx="153.0" cy="73.5" r="0.36"/><circle cx="160.5" cy="62.2" r="0.36"/><circle cx="156.6" cy="63.4" r="0.36"/><circle cx="155.3" cy="60.8" r="0.36"/><circle cx="147.8" cy="88.7" r="0.36"/><circle cx="152.8" cy="68.4" r="0.36"/><circle cx="138.4" cy="73.4" r="0.36"/><circle cx="150.5" cy="79.8" r="0.36"/><circle cx="152.6" cy="74.6" r="0.36"/><circle cx="148.4" cy="84.9" r="0.36"/><circle cx="145.2" cy="70.5" r="0.36"/><circle cx="156.7" cy="67.5" r="0.36"/><circle cx="146.2" cy="69.5" r="0.36"/><circle cx="146.4" cy="80.0" r="0.36"/><circle cx="151.9" cy="59.8" r="0.36"/><circle cx="152.6" cy="71.5" r="0.36"/><circle cx="139.7" cy="86.2" r="0.36"/><circle cx="146.2" cy="71.7" r="0.36"/><circle cx="155.9" cy="79.1" r="0.36"/><circle cx="142.6" cy="81.2" r="0.36"/><circle cx="144.3" cy="86.5" r="0.36"/><circle cx="142.9" cy="84.2" r="0.36"/><circle cx="144.8" cy="80.0" r="0.36"/><circle cx="147.9" cy="67.5" r="0.36"/><circle cx="168.1" cy="59.3" r="0.36"/><circle cx="143.6" cy="77.9" r="0.36"/><circle cx="160.1" cy="65.5" r="0.36"/><circle cx="136.2" cy="67.0" r="0.36"/><circle cx="159.4" cy="71.5" r="0.36"/><circle cx="141.4" cy="85.7" r="0.36"/><circle cx="153.2" cy="75.2" r="0.36"/><circle cx="156.9" cy="73.3" r="0.36"/><circle cx="150.3" cy="76.0" r="0.36"/><circle cx="171.7" cy="47.5" r="0.36"/><circle cx="145.8" cy="75.3" r="0.36"/><circle cx="156.7" cy="63.0" r="0.36"/><circle cx="159.1" cy="58.3" r="0.36"/><circle cx="151.2" cy="66.4" r="0.36"/><circle cx="150.2" cy="65.6" r="0.36"/><circle cx="151.5" cy="65.8" r="0.36"/><circle cx="150.6" cy="80.2" r="0.36"/><circle cx="140.0" cy="78.2" r="0.36"/><circle cx="153.6" cy="73.8" r="0.36"/><circle cx="145.7" cy="56.4" r="0.36"/><circle cx="159.9" cy="67.5" r="0.36"/><circle cx="148.9" cy="70.2" r="0.36"/><circle cx="151.1" cy="67.3" r="0.36"/><circle cx="139.5" cy="73.0" r="0.36"/><circle cx="143.4" cy="71.3" r="0.36"/><circle cx="138.3" cy="86.0" r="0.36"/><circle cx="137.0" cy="87.2" r="0.36"/><circle cx="139.6" cy="82.6" r="0.36"/><circle cx="161.1" cy="65.5" r="0.36"/><circle cx="142.2" cy="78.0" r="0.36"/><circle cx="150.1" cy="56.5" r="0.36"/><circle cx="143.3" cy="78.2" r="0.36"/><circle cx="144.5" cy="76.6" r="0.36"/><circle cx="155.4" cy="74.7" r="0.36"/><circle cx="156.9" cy="72.0" r="0.36"/><circle cx="146.2" cy="74.5" r="0.36"/><circle cx="146.3" cy="71.8" r="0.36"/><circle cx="147.1" cy="58.8" r="0.36"/><circle cx="145.8" cy="74.8" r="0.36"/><circle cx="140.0" cy="79.0" r="0.36"/><circle cx="153.4" cy="67.9" r="0.36"/><circle cx="146.9" cy="58.1" r="0.36"/><circle cx="157.6" cy="89.7" r="0.36"/><circle cx="153.4" cy="66.7" r="0.36"/><circle cx="153.7" cy="49.4" r="0.36"/><circle cx="156.4" cy="70.4" r="0.36"/><circle cx="149.0" cy="67.4" r="0.36"/><circle cx="154.5" cy="64.3" r="0.36"/><circle cx="150.8" cy="66.8" r="0.36"/><circle cx="150.6" cy="78.1" r="0.36"/><circle cx="140.9" cy="78.3" r="0.36"/><circle cx="154.3" cy="70.0" r="0.36"/><circle cx="159.9" cy="82.1" r="0.36"/><circle cx="140.6" cy="61.9" r="0.36"/><circle cx="156.5" cy="80.6" r="0.36"/><circle cx="157.1" cy="73.8" r="0.36"/><circle cx="143.2" cy="70.6" r="0.36"/></g><polyline points="160.1,98.4 160.1,48.0 184.7,48.0 184.7,98.4" fill="none" stroke="#b3a8e4" stroke-width="0.75"/><defs><radialGradient id="g2"><stop offset="0" stop-color="#000" stop-opacity="1.0"/><stop offset="0.6" stop-color="#000" stop-opacity="0.95"/><stop offset="0.8" stop-color="#000" stop-opacity="0.45"/><stop offset="1" stop-color="#000" stop-opacity="0"/></radialGradient></defs><path d="M167.50,54.50 L168.60,54.60 L169.67,54.91 L170.67,55.41 L171.59,56.11 L172.39,56.98 L173.05,58.01 L173.57,59.19 L173.93,60.50 L174.14,61.91 L174.19,63.39 L174.11,64.93 L173.90,66.50 L173.58,68.07 L173.17,69.61 L172.69,71.09 L172.16,72.50 L171.59,73.81 L171.00,74.99 L170.41,76.02 L169.81,76.89 L169.23,77.59 L168.64,78.09 L168.07,78.40 L167.50,78.50 L166.93,78.40 L166.36,78.09 L165.77,77.59 L165.19,76.89 L164.59,76.02 L164.00,74.99 L163.41,73.81 L162.84,72.50 L162.31,71.09 L161.83,69.61 L161.42,68.07 L161.10,66.50 L160.89,64.93 L160.81,63.39 L160.86,61.91 L161.07,60.50 L161.43,59.19 L161.95,58.01 L162.61,56.98 L163.41,56.11 L164.33,55.41 L165.33,54.91 L166.40,54.60Z" fill="#000" fill-opacity="0.03" stroke="#333" stroke-width="0.55"/><path d="M167.50,56.90 L168.40,56.98 L169.28,57.24 L170.10,57.65 L170.85,58.22 L171.51,58.93 L172.05,59.78 L172.47,60.75 L172.77,61.82 L172.94,62.97 L172.99,64.19 L172.92,65.46 L172.75,66.74 L172.49,68.02 L172.15,69.29 L171.75,70.51 L171.32,71.66 L170.85,72.73 L170.37,73.70 L169.88,74.55 L169.40,75.26 L168.91,75.83 L168.44,76.24 L167.97,76.50 L167.50,76.58 L167.03,76.50 L166.56,76.24 L166.09,75.83 L165.60,75.26 L165.12,74.55 L164.63,73.70 L164.15,72.73 L163.68,71.66 L163.25,70.51 L162.85,69.29 L162.51,68.02 L162.25,66.74 L162.08,65.46 L162.01,64.19 L162.06,62.97 L162.23,61.82 L162.53,60.75 L162.95,59.78 L163.49,58.93 L164.15,58.22 L164.90,57.65 L165.72,57.24 L166.60,56.98Z" fill="#000" fill-opacity="0.05" stroke="#444" stroke-width="0.45"/><ellipse cx="169.0" cy="65.00" rx="5.22" ry="8.99" fill="url(#g2)"/><line x1="169.20" y1="61.40" x2="169.20" y2="68.00" stroke="#fff" stroke-width="0.7" opacity="0.4"/><text x="172.7" y="58.0" font-size="6.7" text-anchor="middle" fill="#000">97</text><rect x="194.8" y="45.0" width="51.19999999999999" height="53.400000000000006" stroke="#d8d8d8" fill="none" stroke-width="1.5"/><line x1="194.8" y1="45.0" x2="194.8" y2="98.4" stroke="#c2c2c2" stroke-width="1.2"/><line x1="194.20000000000002" y1="98.4" x2="246.6" y2="98.4" stroke="#b2b2b2" stroke-width="1.4"/><line x1="194.8" y1="94.38124955788585" x2="196.0" y2="94.38124955788585" stroke="#999" stroke-width="0.5"/><line x1="194.8" y1="92.03043124949251" x2="196.0" y2="92.03043124949251" stroke="#999" stroke-width="0.5"/><line x1="194.8" y1="90.36249911577171" x2="196.0" y2="90.36249911577171" stroke="#999" stroke-width="0.5"/><line x1="194.8" y1="89.06875044211415" x2="196.0" y2="89.06875044211415" stroke="#999" stroke-width="0.5"/><line x1="194.8" y1="88.01168080737835" x2="196.0" y2="88.01168080737835" stroke="#999" stroke-width="0.5"/><line x1="194.8" y1="87.11794116580967" x2="196.0" y2="87.11794116580967" stroke="#999" stroke-width="0.5"/><line x1="194.8" y1="86.34374867365756" x2="196.0" y2="86.34374867365756" stroke="#999" stroke-width="0.5"/><line x1="194.8" y1="85.66086249898501" x2="196.0" y2="85.66086249898501" stroke="#999" stroke-width="0.5"/><line x1="194.8" y1="81.03124955788586" x2="196.0" y2="81.03124955788586" stroke="#999" stroke-width="0.5"/><line x1="194.8" y1="78.68043124949251" x2="196.0" y2="78.68043124949251" stroke="#999" stroke-width="0.5"/><line x1="194.8" y1="77.01249911577172" x2="196.0" y2="77.01249911577172" stroke="#999" stroke-width="0.5"/><line x1="194.8" y1="75.71875044211416" x2="196.0" y2="75.71875044211416" stroke="#999" stroke-width="0.5"/><line x1="194.8" y1="74.66168080737836" x2="196.0" y2="74.66168080737836" stroke="#999" stroke-width="0.5"/><line x1="194.8" y1="73.76794116580967" x2="196.0" y2="73.76794116580967" stroke="#999" stroke-width="0.5"/><line x1="194.8" y1="72.99374867365756" x2="196.0" y2="72.99374867365756" stroke="#999" stroke-width="0.5"/><line x1="194.8" y1="72.31086249898502" x2="196.0" y2="72.31086249898502" stroke="#999" stroke-width="0.5"/><line x1="194.8" y1="67.68124955788585" x2="196.0" y2="67.68124955788585" stroke="#999" stroke-width="0.5"/><line x1="194.8" y1="65.3304312494925" x2="196.0" y2="65.3304312494925" stroke="#999" stroke-width="0.5"/><line x1="194.8" y1="63.6624991157717" x2="196.0" y2="63.6624991157717" stroke="#999" stroke-width="0.5"/><line x1="194.8" y1="62.36875044211415" x2="196.0" y2="62.36875044211415" stroke="#999" stroke-width="0.5"/><line x1="194.8" y1="61.31168080737836" x2="196.0" y2="61.31168080737836" stroke="#999" stroke-width="0.5"/><line x1="194.8" y1="60.41794116580967" x2="196.0" y2="60.41794116580967" stroke="#999" stroke-width="0.5"/><line x1="194.8" y1="59.643748673657555" x2="196.0" y2="59.643748673657555" stroke="#999" stroke-width="0.5"/><line x1="194.8" y1="58.960862498985016" x2="196.0" y2="58.960862498985016" stroke="#999" stroke-width="0.5"/><line x1="194.8" y1="54.331249557885855" x2="196.0" y2="54.331249557885855" stroke="#999" stroke-width="0.5"/><line x1="194.8" y1="51.980431249492504" x2="196.0" y2="51.980431249492504" stroke="#999" stroke-width="0.5"/><line x1="194.8" y1="50.3124991157717" x2="196.0" y2="50.3124991157717" stroke="#999" stroke-width="0.5"/><line x1="194.8" y1="49.01875044211415" x2="196.0" y2="49.01875044211415" stroke="#999" stroke-width="0.5"/><line x1="194.8" y1="47.96168080737836" x2="196.0" y2="47.96168080737836" stroke="#999" stroke-width="0.5"/><line x1="194.8" y1="47.06794116580967" x2="196.0" y2="47.06794116580967" stroke="#999" stroke-width="0.5"/><line x1="194.8" y1="46.293748673657554" x2="196.0" y2="46.293748673657554" stroke="#999" stroke-width="0.5"/><line x1="194.8" y1="45.610862498985014" x2="196.0" y2="45.610862498985014" stroke="#999" stroke-width="0.5"/><line x1="198.65318394449898" y1="98.4" x2="198.65318394449898" y2="97.2" stroke="#999" stroke-width="0.5"/><line x1="200.90715206041168" y1="98.4" x2="200.90715206041168" y2="97.2" stroke="#999" stroke-width="0.5"/><line x1="202.50636788899794" y1="98.4" x2="202.50636788899794" y2="97.2" stroke="#999" stroke-width="0.5"/><line x1="203.74681605550106" y1="98.4" x2="203.74681605550106" y2="97.2" stroke="#999" stroke-width="0.5"/><line x1="204.76033600491064" y1="98.4" x2="204.76033600491064" y2="97.2" stroke="#999" stroke-width="0.5"/><line x1="205.6172549121825" y1="98.4" x2="205.6172549121825" y2="97.2" stroke="#999" stroke-width="0.5"/><line x1="206.35955183349688" y1="98.4" x2="206.35955183349688" y2="97.2" stroke="#999" stroke-width="0.5"/><line x1="207.01430412082337" y1="98.4" x2="207.01430412082337" y2="97.2" stroke="#999" stroke-width="0.5"/><line x1="211.453183944499" y1="98.4" x2="211.453183944499" y2="97.2" stroke="#999" stroke-width="0.5"/><line x1="213.7071520604117" y1="98.4" x2="213.7071520604117" y2="97.2" stroke="#999" stroke-width="0.5"/><line x1="215.30636788899795" y1="98.4" x2="215.30636788899795" y2="97.2" stroke="#999" stroke-width="0.5"/><line x1="216.54681605550107" y1="98.4" x2="216.54681605550107" y2="97.2" stroke="#999" stroke-width="0.5"/><line x1="217.56033600491065" y1="98.4" x2="217.56033600491065" y2="97.2" stroke="#999" stroke-width="0.5"/><line x1="218.4172549121825" y1="98.4" x2="218.4172549121825" y2="97.2" stroke="#999" stroke-width="0.5"/><line x1="219.1595518334969" y1="98.4" x2="219.1595518334969" y2="97.2" stroke="#999" stroke-width="0.5"/><line x1="219.81430412082338" y1="98.4" x2="219.81430412082338" y2="97.2" stroke="#999" stroke-width="0.5"/><line x1="224.25318394449897" y1="98.4" x2="224.25318394449897" y2="97.2" stroke="#999" stroke-width="0.5"/><line x1="226.50715206041167" y1="98.4" x2="226.50715206041167" y2="97.2" stroke="#999" stroke-width="0.5"/><line x1="228.1063678889979" y1="98.4" x2="228.1063678889979" y2="97.2" stroke="#999" stroke-width="0.5"/><line x1="229.34681605550105" y1="98.4" x2="229.34681605550105" y2="97.2" stroke="#999" stroke-width="0.5"/><line x1="230.36033600491064" y1="98.4" x2="230.36033600491064" y2="97.2" stroke="#999" stroke-width="0.5"/><line x1="231.21725491218248" y1="98.4" x2="231.21725491218248" y2="97.2" stroke="#999" stroke-width="0.5"/><line x1="231.95955183349687" y1="98.4" x2="231.95955183349687" y2="97.2" stroke="#999" stroke-width="0.5"/><line x1="232.61430412082336" y1="98.4" x2="232.61430412082336" y2="97.2" stroke="#999" stroke-width="0.5"/><line x1="237.05318394449895" y1="98.4" x2="237.05318394449895" y2="97.2" stroke="#999" stroke-width="0.5"/><line x1="239.30715206041165" y1="98.4" x2="239.30715206041165" y2="97.2" stroke="#999" stroke-width="0.5"/><line x1="240.90636788899792" y1="98.4" x2="240.90636788899792" y2="97.2" stroke="#999" stroke-width="0.5"/><line x1="242.14681605550103" y1="98.4" x2="242.14681605550103" y2="97.2" stroke="#999" stroke-width="0.5"/><line x1="243.16033600491062" y1="98.4" x2="243.16033600491062" y2="97.2" stroke="#999" stroke-width="0.5"/><line x1="244.01725491218247" y1="98.4" x2="244.01725491218247" y2="97.2" stroke="#999" stroke-width="0.5"/><line x1="244.75955183349686" y1="98.4" x2="244.75955183349686" y2="97.2" stroke="#999" stroke-width="0.5"/><line x1="245.41430412082335" y1="98.4" x2="245.41430412082335" y2="97.2" stroke="#999" stroke-width="0.5"/><g fill="#999" opacity="0.55"><circle cx="217.6" cy="58.9" r="0.36"/><circle cx="232.1" cy="73.2" r="0.36"/><circle cx="203.5" cy="70.9" r="0.36"/><circle cx="211.7" cy="64.6" r="0.36"/><circle cx="221.4" cy="63.4" r="0.36"/><circle cx="199.9" cy="91.5" r="0.36"/><circle cx="204.4" cy="78.6" r="0.36"/><circle cx="209.5" cy="70.1" r="0.36"/><circle cx="212.6" cy="64.5" r="0.36"/><circle cx="198.3" cy="74.5" r="0.36"/><circle cx="209.4" cy="73.4" r="0.36"/><circle cx="214.7" cy="70.2" r="0.36"/><circle cx="202.5" cy="71.8" r="0.36"/><circle cx="214.0" cy="74.2" r="0.36"/><circle cx="208.6" cy="72.0" r="0.36"/><circle cx="218.1" cy="66.7" r="0.36"/><circle cx="216.3" cy="73.0" r="0.36"/><circle cx="211.6" cy="82.9" r="0.36"/><circle cx="204.5" cy="73.4" r="0.36"/><circle cx="202.4" cy="71.1" r="0.36"/><circle cx="223.7" cy="78.0" r="0.36"/><circle cx="209.9" cy="77.6" r="0.36"/><circle cx="220.2" cy="72.1" r="0.36"/><circle cx="220.5" cy="53.7" r="0.36"/><circle cx="203.9" cy="81.0" r="0.36"/><circle cx="222.6" cy="64.2" r="0.36"/><circle cx="201.9" cy="75.3" r="0.36"/><circle cx="203.7" cy="69.6" r="0.36"/><circle cx="223.2" cy="57.4" r="0.36"/><circle cx="209.8" cy="91.7" r="0.36"/><circle cx="220.3" cy="67.9" r="0.36"/><circle cx="204.1" cy="80.4" r="0.36"/><circle cx="224.2" cy="67.5" r="0.36"/><circle cx="221.0" cy="65.3" r="0.36"/><circle cx="214.3" cy="67.6" r="0.36"/><circle cx="213.5" cy="81.4" r="0.36"/><circle cx="196.8" cy="81.7" r="0.36"/><circle cx="211.8" cy="66.2" r="0.36"/><circle cx="206.9" cy="81.7" r="0.36"/><circle cx="227.7" cy="65.1" r="0.36"/><circle cx="212.6" cy="57.0" r="0.36"/><circle cx="227.0" cy="60.7" r="0.36"/><circle cx="209.3" cy="63.1" r="0.36"/><circle cx="209.1" cy="63.5" r="0.36"/><circle cx="210.3" cy="76.4" r="0.36"/><circle cx="209.9" cy="75.0" r="0.36"/><circle cx="202.0" cy="91.0" r="0.36"/><circle cx="203.8" cy="61.1" r="0.36"/><circle cx="208.0" cy="67.3" r="0.36"/><circle cx="200.6" cy="76.3" r="0.36"/><circle cx="212.3" cy="60.4" r="0.36"/><circle cx="208.4" cy="86.2" r="0.36"/><circle cx="215.8" cy="66.9" r="0.36"/><circle cx="210.8" cy="70.9" r="0.36"/><circle cx="209.2" cy="79.5" r="0.36"/><circle cx="208.8" cy="52.2" r="0.36"/><circle cx="209.5" cy="65.1" r="0.36"/><circle cx="215.5" cy="63.1" r="0.36"/><circle cx="211.0" cy="90.9" r="0.36"/><circle cx="200.2" cy="69.8" r="0.36"/><circle cx="196.9" cy="61.0" r="0.36"/><circle cx="203.9" cy="60.5" r="0.36"/><circle cx="196.3" cy="88.0" r="0.36"/><circle cx="202.7" cy="74.7" r="0.36"/><circle cx="212.6" cy="82.5" r="0.36"/><circle cx="227.1" cy="69.0" r="0.36"/><circle cx="210.9" cy="73.4" r="0.36"/><circle cx="225.9" cy="73.4" r="0.36"/><circle cx="206.9" cy="78.8" r="0.36"/><circle cx="212.2" cy="71.3" r="0.36"/><circle cx="205.1" cy="64.4" r="0.36"/><circle cx="204.8" cy="62.7" r="0.36"/><circle cx="220.7" cy="69.4" r="0.36"/><circle cx="198.8" cy="93.0" r="0.36"/><circle cx="217.7" cy="50.1" r="0.36"/><circle cx="226.2" cy="67.7" r="0.36"/><circle cx="228.2" cy="48.3" r="0.36"/><circle cx="214.4" cy="73.0" r="0.36"/><circle cx="211.5" cy="72.9" r="0.36"/><circle cx="219.1" cy="52.7" r="0.36"/><circle cx="198.5" cy="68.7" r="0.36"/><circle cx="204.6" cy="71.1" r="0.36"/><circle cx="213.0" cy="72.7" r="0.36"/><circle cx="209.9" cy="66.6" r="0.36"/><circle cx="205.7" cy="84.1" r="0.36"/><circle cx="216.5" cy="68.6" r="0.36"/><circle cx="206.7" cy="88.6" r="0.36"/><circle cx="204.3" cy="82.4" r="0.36"/><circle cx="220.0" cy="62.8" r="0.36"/><circle cx="217.1" cy="57.5" r="0.36"/><circle cx="218.8" cy="67.8" r="0.36"/><circle cx="201.6" cy="89.9" r="0.36"/><circle cx="203.5" cy="75.8" r="0.36"/><circle cx="212.2" cy="68.0" r="0.36"/><circle cx="212.0" cy="66.2" r="0.36"/><circle cx="215.7" cy="68.4" r="0.36"/><circle cx="211.5" cy="47.2" r="0.36"/><circle cx="220.1" cy="65.4" r="0.36"/><circle cx="213.9" cy="79.1" r="0.36"/><circle cx="199.9" cy="93.5" r="0.36"/><circle cx="208.2" cy="94.9" r="0.36"/><circle cx="208.3" cy="79.7" r="0.36"/><circle cx="206.4" cy="65.4" r="0.36"/><circle cx="219.5" cy="73.5" r="0.36"/><circle cx="223.5" cy="70.2" r="0.36"/><circle cx="204.5" cy="61.9" r="0.36"/><circle cx="203.8" cy="71.1" r="0.36"/><circle cx="202.3" cy="83.3" r="0.36"/><circle cx="212.6" cy="68.2" r="0.36"/><circle cx="211.2" cy="70.3" r="0.36"/><circle cx="211.6" cy="78.0" r="0.36"/><circle cx="218.3" cy="60.4" r="0.36"/><circle cx="196.1" cy="95.3" r="0.36"/><circle cx="210.7" cy="81.7" r="0.36"/><circle cx="209.9" cy="59.9" r="0.36"/><circle cx="205.0" cy="82.5" r="0.36"/><circle cx="219.4" cy="79.7" r="0.36"/><circle cx="201.9" cy="66.1" r="0.36"/><circle cx="214.3" cy="77.6" r="0.36"/><circle cx="211.4" cy="60.0" r="0.36"/><circle cx="216.7" cy="74.6" r="0.36"/><circle cx="214.6" cy="64.8" r="0.36"/><circle cx="212.4" cy="77.7" r="0.36"/><circle cx="204.6" cy="60.2" r="0.36"/><circle cx="212.6" cy="74.8" r="0.36"/><circle cx="209.8" cy="80.5" r="0.36"/><circle cx="204.4" cy="75.9" r="0.36"/><circle cx="206.9" cy="79.8" r="0.36"/><circle cx="224.0" cy="60.0" r="0.36"/><circle cx="228.1" cy="72.7" r="0.36"/><circle cx="216.8" cy="72.7" r="0.36"/><circle cx="225.6" cy="59.5" r="0.36"/><circle cx="208.6" cy="64.2" r="0.36"/><circle cx="213.9" cy="81.5" r="0.36"/><circle cx="214.4" cy="73.0" r="0.36"/><circle cx="207.8" cy="75.6" r="0.36"/><circle cx="196.8" cy="91.4" r="0.36"/><circle cx="206.0" cy="65.8" r="0.36"/><circle cx="202.9" cy="70.5" r="0.36"/><circle cx="217.3" cy="76.4" r="0.36"/><circle cx="197.4" cy="89.9" r="0.36"/><circle cx="217.6" cy="61.8" r="0.36"/><circle cx="196.3" cy="76.0" r="0.36"/><circle cx="203.9" cy="80.0" r="0.36"/><circle cx="206.4" cy="57.3" r="0.36"/><circle cx="211.8" cy="57.7" r="0.36"/><circle cx="217.8" cy="56.2" r="0.36"/><circle cx="203.4" cy="69.8" r="0.36"/><circle cx="204.8" cy="87.8" r="0.36"/><circle cx="217.3" cy="72.4" r="0.36"/><circle cx="212.5" cy="57.0" r="0.36"/><circle cx="205.0" cy="71.3" r="0.36"/><circle cx="200.9" cy="83.7" r="0.36"/><circle cx="203.0" cy="71.4" r="0.36"/><circle cx="200.3" cy="61.6" r="0.36"/><circle cx="215.0" cy="80.6" r="0.36"/><circle cx="211.2" cy="63.0" r="0.36"/><circle cx="220.6" cy="67.4" r="0.36"/><circle cx="218.0" cy="79.7" r="0.36"/><circle cx="219.8" cy="61.4" r="0.36"/><circle cx="219.1" cy="72.6" r="0.36"/><circle cx="195.8" cy="79.3" r="0.36"/><circle cx="196.8" cy="81.2" r="0.36"/><circle cx="214.9" cy="59.6" r="0.36"/><circle cx="213.0" cy="83.2" r="0.36"/><circle cx="197.7" cy="90.8" r="0.36"/><circle cx="228.3" cy="76.7" r="0.36"/><circle cx="207.8" cy="76.5" r="0.36"/><circle cx="208.3" cy="82.6" r="0.36"/><circle cx="219.0" cy="66.7" r="0.36"/><circle cx="197.4" cy="88.3" r="0.36"/><circle cx="205.4" cy="81.4" r="0.36"/><circle cx="212.0" cy="85.3" r="0.36"/><circle cx="219.9" cy="61.3" r="0.36"/><circle cx="212.8" cy="86.0" r="0.36"/><circle cx="204.8" cy="80.1" r="0.36"/><circle cx="220.4" cy="76.0" r="0.36"/><circle cx="214.3" cy="57.7" r="0.36"/><circle cx="198.3" cy="83.3" r="0.36"/><circle cx="213.1" cy="92.6" r="0.36"/><circle cx="201.9" cy="88.5" r="0.36"/><circle cx="216.6" cy="53.0" r="0.36"/><circle cx="202.3" cy="79.6" r="0.36"/><circle cx="205.2" cy="74.7" r="0.36"/><circle cx="213.9" cy="62.5" r="0.36"/><circle cx="213.8" cy="64.1" r="0.36"/><circle cx="204.7" cy="81.1" r="0.36"/><circle cx="204.5" cy="79.1" r="0.36"/><circle cx="224.0" cy="62.5" r="0.36"/><circle cx="208.3" cy="80.2" r="0.36"/><circle cx="206.4" cy="84.7" r="0.36"/><circle cx="198.1" cy="86.7" r="0.36"/><circle cx="205.0" cy="69.1" r="0.36"/><circle cx="225.6" cy="53.6" r="0.36"/><circle cx="225.5" cy="67.0" r="0.36"/><circle cx="222.7" cy="54.6" r="0.36"/><circle cx="220.4" cy="77.7" r="0.36"/><circle cx="208.6" cy="72.4" r="0.36"/><circle cx="231.8" cy="58.1" r="0.36"/><circle cx="205.8" cy="70.0" r="0.36"/><circle cx="213.7" cy="72.7" r="0.36"/><circle cx="211.2" cy="86.7" r="0.36"/><circle cx="206.7" cy="79.1" r="0.36"/><circle cx="222.8" cy="54.3" r="0.36"/><circle cx="219.0" cy="82.0" r="0.36"/><circle cx="197.5" cy="72.1" r="0.36"/><circle cx="200.3" cy="63.4" r="0.36"/><circle cx="213.7" cy="53.4" r="0.36"/><circle cx="214.1" cy="82.3" r="0.36"/><circle cx="203.0" cy="75.3" r="0.36"/><circle cx="210.1" cy="77.2" r="0.36"/><circle cx="206.5" cy="75.2" r="0.36"/><circle cx="204.7" cy="77.4" r="0.36"/><circle cx="199.1" cy="81.1" r="0.36"/><circle cx="226.9" cy="60.8" r="0.36"/><circle cx="198.3" cy="83.3" r="0.36"/><circle cx="200.9" cy="64.7" r="0.36"/><circle cx="203.0" cy="84.1" r="0.36"/><circle cx="213.1" cy="69.4" r="0.36"/><circle cx="201.3" cy="69.4" r="0.36"/><circle cx="221.8" cy="66.0" r="0.36"/><circle cx="201.1" cy="60.5" r="0.36"/><circle cx="199.3" cy="79.7" r="0.36"/><circle cx="211.5" cy="70.0" r="0.36"/><circle cx="207.1" cy="62.5" r="0.36"/><circle cx="200.2" cy="94.6" r="0.36"/><circle cx="202.8" cy="85.2" r="0.36"/><circle cx="212.0" cy="80.2" r="0.36"/><circle cx="199.5" cy="85.4" r="0.36"/><circle cx="213.1" cy="63.7" r="0.36"/><circle cx="213.9" cy="61.7" r="0.36"/><circle cx="202.5" cy="77.9" r="0.36"/><circle cx="200.6" cy="66.5" r="0.36"/><circle cx="205.8" cy="82.3" r="0.36"/><circle cx="206.0" cy="86.6" r="0.36"/><circle cx="199.2" cy="68.9" r="0.36"/><circle cx="223.6" cy="66.0" r="0.36"/><circle cx="218.2" cy="59.3" r="0.36"/><circle cx="216.9" cy="69.7" r="0.36"/><circle cx="215.5" cy="68.7" r="0.36"/><circle cx="220.5" cy="59.1" r="0.36"/><circle cx="201.0" cy="66.1" r="0.36"/><circle cx="220.1" cy="58.6" r="0.36"/><circle cx="200.3" cy="71.4" r="0.36"/><circle cx="205.6" cy="64.5" r="0.36"/></g><polyline points="220.5,98.4 220.5,47.2 245.1,47.2 245.1,98.4" fill="none" stroke="#b3a8e4" stroke-width="0.75"/><defs><radialGradient id="g3"><stop offset="0" stop-color="#000" stop-opacity="1.0"/><stop offset="0.6" stop-color="#000" stop-opacity="0.95"/><stop offset="0.8" stop-color="#000" stop-opacity="0.45"/><stop offset="1" stop-color="#000" stop-opacity="0"/></radialGradient></defs><path d="M232.90,53.00 L234.17,53.12 L235.41,53.47 L236.57,54.05 L237.63,54.85 L238.55,55.85 L239.32,57.04 L239.91,58.40 L240.33,59.90 L240.57,61.52 L240.64,63.23 L240.54,65.00 L240.30,66.80 L239.93,68.60 L239.46,70.37 L238.90,72.08 L238.28,73.70 L237.63,75.20 L236.95,76.56 L236.26,77.75 L235.57,78.75 L234.89,79.55 L234.22,80.13 L233.56,80.48 L232.90,80.60 L232.24,80.48 L231.58,80.13 L230.91,79.55 L230.23,78.75 L229.54,77.75 L228.85,76.56 L228.17,75.20 L227.52,73.70 L226.90,72.08 L226.34,70.37 L225.87,68.60 L225.50,66.80 L225.26,65.00 L225.16,63.23 L225.23,61.52 L225.47,59.90 L225.89,58.40 L226.48,57.04 L227.25,55.85 L228.17,54.85 L229.23,54.05 L230.39,53.47 L231.63,53.12Z" fill="#000" fill-opacity="0.03" stroke="#333" stroke-width="0.55"/><path d="M232.90,55.76 L233.94,55.86 L234.96,56.15 L235.91,56.62 L236.77,57.28 L237.53,58.10 L238.16,59.07 L238.65,60.19 L239.00,61.42 L239.19,62.75 L239.25,64.15 L239.17,65.60 L238.97,67.08 L238.66,68.55 L238.28,70.00 L237.82,71.41 L237.31,72.73 L236.78,73.96 L236.22,75.08 L235.66,76.05 L235.09,76.88 L234.54,77.53 L233.99,78.01 L233.44,78.30 L232.90,78.39 L232.36,78.30 L231.81,78.01 L231.26,77.53 L230.71,76.88 L230.14,76.05 L229.58,75.08 L229.02,73.96 L228.49,72.73 L227.98,71.41 L227.52,70.00 L227.14,68.55 L226.83,67.08 L226.63,65.60 L226.55,64.15 L226.61,62.75 L226.80,61.42 L227.15,60.19 L227.64,59.07 L228.27,58.10 L229.03,57.28 L229.89,56.62 L230.84,56.15 L231.86,55.86Z" fill="#000" fill-opacity="0.05" stroke="#444" stroke-width="0.45"/><ellipse cx="233.6" cy="65.50" rx="5.80" ry="10.15" fill="url(#g3)"/><line x1="233.80" y1="61.36" x2="233.80" y2="68.95" stroke="#fff" stroke-width="0.7" opacity="0.4"/><text x="232.7" y="58.300000000000004" font-size="6.7" text-anchor="middle" fill="#000">97</text><rect x="71.2" y="115.2" width="51.099999999999994" height="52.8" stroke="#d8d8d8" fill="none" stroke-width="1.5"/><line x1="71.2" y1="115.2" x2="71.2" y2="168.0" stroke="#c2c2c2" stroke-width="1.2"/><line x1="70.60000000000001" y1="168.0" x2="122.89999999999999" y2="168.0" stroke="#b2b2b2" stroke-width="1.4"/><line x1="71.2" y1="164.02640405723545" x2="72.4" y2="164.02640405723545" stroke="#999" stroke-width="0.5"/><line x1="71.2" y1="161.70199943770047" x2="72.4" y2="161.70199943770047" stroke="#999" stroke-width="0.5"/><line x1="71.2" y1="160.0528081144709" x2="72.4" y2="160.0528081144709" stroke="#999" stroke-width="0.5"/><line x1="71.2" y1="158.77359594276456" x2="72.4" y2="158.77359594276456" stroke="#999" stroke-width="0.5"/><line x1="71.2" y1="157.7284034949359" x2="72.4" y2="157.7284034949359" stroke="#999" stroke-width="0.5"/><line x1="71.2" y1="156.8447058718118" x2="72.4" y2="156.8447058718118" stroke="#999" stroke-width="0.5"/><line x1="71.2" y1="156.07921217170633" x2="72.4" y2="156.07921217170633" stroke="#999" stroke-width="0.5"/><line x1="71.2" y1="155.4039988754009" x2="72.4" y2="155.4039988754009" stroke="#999" stroke-width="0.5"/><line x1="71.2" y1="150.82640405723546" x2="72.4" y2="150.82640405723546" stroke="#999" stroke-width="0.5"/><line x1="71.2" y1="148.50199943770048" x2="72.4" y2="148.50199943770048" stroke="#999" stroke-width="0.5"/><line x1="71.2" y1="146.85280811447092" x2="72.4" y2="146.85280811447092" stroke="#999" stroke-width="0.5"/><line x1="71.2" y1="145.57359594276457" x2="72.4" y2="145.57359594276457" stroke="#999" stroke-width="0.5"/><line x1="71.2" y1="144.5284034949359" x2="72.4" y2="144.5284034949359" stroke="#999" stroke-width="0.5"/><line x1="71.2" y1="143.64470587181182" x2="72.4" y2="143.64470587181182" stroke="#999" stroke-width="0.5"/><line x1="71.2" y1="142.87921217170634" x2="72.4" y2="142.87921217170634" stroke="#999" stroke-width="0.5"/><line x1="71.2" y1="142.2039988754009" x2="72.4" y2="142.2039988754009" stroke="#999" stroke-width="0.5"/><line x1="71.2" y1="137.62640405723545" x2="72.4" y2="137.62640405723545" stroke="#999" stroke-width="0.5"/><line x1="71.2" y1="135.30199943770046" x2="72.4" y2="135.30199943770046" stroke="#999" stroke-width="0.5"/><line x1="71.2" y1="133.6528081144709" x2="72.4" y2="133.6528081144709" stroke="#999" stroke-width="0.5"/><line x1="71.2" y1="132.37359594276455" x2="72.4" y2="132.37359594276455" stroke="#999" stroke-width="0.5"/><line x1="71.2" y1="131.3284034949359" x2="72.4" y2="131.3284034949359" stroke="#999" stroke-width="0.5"/><line x1="71.2" y1="130.4447058718118" x2="72.4" y2="130.4447058718118" stroke="#999" stroke-width="0.5"/><line x1="71.2" y1="129.67921217170635" x2="72.4" y2="129.67921217170635" stroke="#999" stroke-width="0.5"/><line x1="71.2" y1="129.0039988754009" x2="72.4" y2="129.0039988754009" stroke="#999" stroke-width="0.5"/><line x1="71.2" y1="124.42640405723546" x2="72.4" y2="124.42640405723546" stroke="#999" stroke-width="0.5"/><line x1="71.2" y1="122.10199943770046" x2="72.4" y2="122.10199943770046" stroke="#999" stroke-width="0.5"/><line x1="71.2" y1="120.4528081144709" x2="72.4" y2="120.4528081144709" stroke="#999" stroke-width="0.5"/><line x1="71.2" y1="119.17359594276456" x2="72.4" y2="119.17359594276456" stroke="#999" stroke-width="0.5"/><line x1="71.2" y1="118.12840349493591" x2="72.4" y2="118.12840349493591" stroke="#999" stroke-width="0.5"/><line x1="71.2" y1="117.24470587181182" x2="72.4" y2="117.24470587181182" stroke="#999" stroke-width="0.5"/><line x1="71.2" y1="116.47921217170635" x2="72.4" y2="116.47921217170635" stroke="#999" stroke-width="0.5"/><line x1="71.2" y1="115.80399887540092" x2="72.4" y2="115.80399887540092" stroke="#999" stroke-width="0.5"/><line x1="75.04565819460736" y1="168.0" x2="75.04565819460736" y2="166.8" stroke="#999" stroke-width="0.5"/><line x1="77.2952240290437" y1="168.0" x2="77.2952240290437" y2="166.8" stroke="#999" stroke-width="0.5"/><line x1="78.89131638921472" y1="168.0" x2="78.89131638921472" y2="166.8" stroke="#999" stroke-width="0.5"/><line x1="80.12934180539264" y1="168.0" x2="80.12934180539264" y2="166.8" stroke="#999" stroke-width="0.5"/><line x1="81.14088222365105" y1="168.0" x2="81.14088222365105" y2="166.8" stroke="#999" stroke-width="0.5"/><line x1="81.99612746118213" y1="168.0" x2="81.99612746118213" y2="166.8" stroke="#999" stroke-width="0.5"/><line x1="82.73697458382208" y1="168.0" x2="82.73697458382208" y2="166.8" stroke="#999" stroke-width="0.5"/><line x1="83.39044805808737" y1="168.0" x2="83.39044805808737" y2="166.8" stroke="#999" stroke-width="0.5"/><line x1="87.82065819460735" y1="168.0" x2="87.82065819460735" y2="166.8" stroke="#999" stroke-width="0.5"/><line x1="90.07022402904369" y1="168.0" x2="90.07022402904369" y2="166.8" stroke="#999" stroke-width="0.5"/><line x1="91.66631638921471" y1="168.0" x2="91.66631638921471" y2="166.8" stroke="#999" stroke-width="0.5"/><line x1="92.90434180539263" y1="168.0" x2="92.90434180539263" y2="166.8" stroke="#999" stroke-width="0.5"/><line x1="93.91588222365104" y1="168.0" x2="93.91588222365104" y2="166.8" stroke="#999" stroke-width="0.5"/><line x1="94.77112746118212" y1="168.0" x2="94.77112746118212" y2="166.8" stroke="#999" stroke-width="0.5"/><line x1="95.51197458382207" y1="168.0" x2="95.51197458382207" y2="166.8" stroke="#999" stroke-width="0.5"/><line x1="96.16544805808736" y1="168.0" x2="96.16544805808736" y2="166.8" stroke="#999" stroke-width="0.5"/><line x1="100.59565819460735" y1="168.0" x2="100.59565819460735" y2="166.8" stroke="#999" stroke-width="0.5"/><line x1="102.84522402904369" y1="168.0" x2="102.84522402904369" y2="166.8" stroke="#999" stroke-width="0.5"/><line x1="104.44131638921472" y1="168.0" x2="104.44131638921472" y2="166.8" stroke="#999" stroke-width="0.5"/><line x1="105.67934180539264" y1="168.0" x2="105.67934180539264" y2="166.8" stroke="#999" stroke-width="0.5"/><line x1="106.69088222365104" y1="168.0" x2="106.69088222365104" y2="166.8" stroke="#999" stroke-width="0.5"/><line x1="107.54612746118212" y1="168.0" x2="107.54612746118212" y2="166.8" stroke="#999" stroke-width="0.5"/><line x1="108.28697458382207" y1="168.0" x2="108.28697458382207" y2="166.8" stroke="#999" stroke-width="0.5"/><line x1="108.94044805808737" y1="168.0" x2="108.94044805808737" y2="166.8" stroke="#999" stroke-width="0.5"/><line x1="113.37065819460736" y1="168.0" x2="113.37065819460736" y2="166.8" stroke="#999" stroke-width="0.5"/><line x1="115.6202240290437" y1="168.0" x2="115.6202240290437" y2="166.8" stroke="#999" stroke-width="0.5"/><line x1="117.21631638921473" y1="168.0" x2="117.21631638921473" y2="166.8" stroke="#999" stroke-width="0.5"/><line x1="118.45434180539264" y1="168.0" x2="118.45434180539264" y2="166.8" stroke="#999" stroke-width="0.5"/><line x1="119.46588222365105" y1="168.0" x2="119.46588222365105" y2="166.8" stroke="#999" stroke-width="0.5"/><line x1="120.32112746118213" y1="168.0" x2="120.32112746118213" y2="166.8" stroke="#999" stroke-width="0.5"/><line x1="121.06197458382208" y1="168.0" x2="121.06197458382208" y2="166.8" stroke="#999" stroke-width="0.5"/><line x1="121.71544805808738" y1="168.0" x2="121.71544805808738" y2="166.8" stroke="#999" stroke-width="0.5"/><g fill="#999" opacity="0.45"><circle cx="83.6" cy="139.1" r="0.36"/><circle cx="81.2" cy="137.9" r="0.36"/><circle cx="86.5" cy="138.4" r="0.36"/><circle cx="87.2" cy="144.1" r="0.36"/><circle cx="89.3" cy="121.1" r="0.36"/><circle cx="81.4" cy="139.2" r="0.36"/><circle cx="93.2" cy="123.7" r="0.36"/><circle cx="79.8" cy="144.8" r="0.36"/><circle cx="83.2" cy="153.6" r="0.36"/><circle cx="82.2" cy="154.1" r="0.36"/><circle cx="73.0" cy="136.4" r="0.36"/><circle cx="97.2" cy="138.4" r="0.36"/><circle cx="90.6" cy="140.5" r="0.36"/><circle cx="90.6" cy="128.8" r="0.36"/><circle cx="94.7" cy="131.7" r="0.36"/><circle cx="95.1" cy="136.9" r="0.36"/><circle cx="96.3" cy="134.0" r="0.36"/><circle cx="82.6" cy="147.4" r="0.36"/><circle cx="82.4" cy="140.7" r="0.36"/><circle cx="87.1" cy="143.2" r="0.36"/><circle cx="99.9" cy="133.0" r="0.36"/><circle cx="103.1" cy="146.1" r="0.36"/><circle cx="101.6" cy="140.7" r="0.36"/><circle cx="87.4" cy="143.0" r="0.36"/><circle cx="84.9" cy="137.2" r="0.36"/><circle cx="85.6" cy="137.5" r="0.36"/><circle cx="101.0" cy="136.5" r="0.36"/><circle cx="82.2" cy="128.7" r="0.36"/><circle cx="85.7" cy="139.3" r="0.36"/><circle cx="76.4" cy="139.8" r="0.36"/><circle cx="85.6" cy="165.8" r="0.36"/><circle cx="85.9" cy="141.6" r="0.36"/><circle cx="99.2" cy="134.3" r="0.36"/><circle cx="87.7" cy="138.3" r="0.36"/><circle cx="80.8" cy="159.8" r="0.36"/><circle cx="95.2" cy="151.2" r="0.36"/><circle cx="83.1" cy="145.2" r="0.36"/><circle cx="78.3" cy="157.0" r="0.36"/><circle cx="73.7" cy="156.8" r="0.36"/><circle cx="96.1" cy="147.8" r="0.36"/><circle cx="77.7" cy="158.4" r="0.36"/><circle cx="79.8" cy="140.7" r="0.36"/><circle cx="74.3" cy="161.6" r="0.36"/><circle cx="101.0" cy="126.5" r="0.36"/><circle cx="79.4" cy="144.7" r="0.36"/><circle cx="108.8" cy="134.9" r="0.36"/><circle cx="81.3" cy="130.4" r="0.36"/><circle cx="80.1" cy="157.5" r="0.36"/><circle cx="103.0" cy="128.0" r="0.36"/><circle cx="80.0" cy="142.7" r="0.36"/><circle cx="76.4" cy="159.2" r="0.36"/><circle cx="88.8" cy="134.0" r="0.36"/><circle cx="93.2" cy="137.6" r="0.36"/><circle cx="75.6" cy="155.9" r="0.36"/><circle cx="93.8" cy="120.3" r="0.36"/><circle cx="102.6" cy="135.0" r="0.36"/><circle cx="93.0" cy="121.3" r="0.36"/><circle cx="79.7" cy="144.3" r="0.36"/><circle cx="95.9" cy="122.7" r="0.36"/><circle cx="78.2" cy="130.6" r="0.36"/><circle cx="84.0" cy="147.3" r="0.36"/><circle cx="90.8" cy="153.2" r="0.36"/><circle cx="92.2" cy="135.6" r="0.36"/><circle cx="75.6" cy="142.2" r="0.36"/><circle cx="80.2" cy="148.3" r="0.36"/><circle cx="85.8" cy="157.7" r="0.36"/><circle cx="88.8" cy="131.3" r="0.36"/><circle cx="100.1" cy="140.8" r="0.36"/><circle cx="87.1" cy="135.6" r="0.36"/><circle cx="94.4" cy="129.6" r="0.36"/><circle cx="74.3" cy="153.1" r="0.36"/><circle cx="88.4" cy="146.4" r="0.36"/><circle cx="92.1" cy="150.7" r="0.36"/><circle cx="78.6" cy="156.8" r="0.36"/><circle cx="77.3" cy="155.3" r="0.36"/><circle cx="87.8" cy="143.6" r="0.36"/><circle cx="94.9" cy="136.1" r="0.36"/><circle cx="96.2" cy="143.0" r="0.36"/><circle cx="87.4" cy="136.8" r="0.36"/><circle cx="79.4" cy="143.0" r="0.36"/><circle cx="84.4" cy="143.8" r="0.36"/><circle cx="113.0" cy="128.6" r="0.36"/><circle cx="93.1" cy="130.0" r="0.36"/><circle cx="79.8" cy="144.5" r="0.36"/><circle cx="87.9" cy="132.3" r="0.36"/><circle cx="100.7" cy="127.1" r="0.36"/><circle cx="86.1" cy="145.1" r="0.36"/><circle cx="87.9" cy="146.7" r="0.36"/><circle cx="88.7" cy="142.2" r="0.36"/><circle cx="89.0" cy="138.9" r="0.36"/><circle cx="78.8" cy="143.0" r="0.36"/><circle cx="102.8" cy="145.7" r="0.36"/><circle cx="85.7" cy="154.4" r="0.36"/><circle cx="81.9" cy="138.1" r="0.36"/><circle cx="81.2" cy="148.0" r="0.36"/><circle cx="113.4" cy="116.9" r="0.36"/><circle cx="86.6" cy="144.8" r="0.36"/><circle cx="85.9" cy="151.1" r="0.36"/><circle cx="102.2" cy="120.0" r="0.36"/><circle cx="87.7" cy="139.3" r="0.36"/><circle cx="89.4" cy="126.8" r="0.36"/><circle cx="90.9" cy="140.9" r="0.36"/><circle cx="86.9" cy="121.3" r="0.36"/><circle cx="82.8" cy="138.5" r="0.36"/><circle cx="73.5" cy="143.9" r="0.36"/><circle cx="92.5" cy="142.8" r="0.36"/><circle cx="86.0" cy="147.3" r="0.36"/><circle cx="80.8" cy="147.3" r="0.36"/><circle cx="86.6" cy="147.3" r="0.36"/></g><polyline points="97.2,168.0 97.2,116.8 121.39999999999999,116.8 121.39999999999999,168.0" fill="none" stroke="#b3a8e4" stroke-width="0.75"/><defs><radialGradient id="g4"><stop offset="0" stop-color="#000" stop-opacity="1.0"/><stop offset="0.6" stop-color="#000" stop-opacity="0.95"/><stop offset="0.8" stop-color="#000" stop-opacity="0.45"/><stop offset="1" stop-color="#000" stop-opacity="0"/></radialGradient></defs><path d="M105.20,125.50 L106.23,125.58 L107.23,125.81 L108.17,126.19 L109.03,126.71 L109.78,127.36 L110.40,128.14 L110.89,129.02 L111.23,130.00 L111.42,131.06 L111.48,132.17 L111.40,133.33 L111.20,134.50 L110.90,135.67 L110.52,136.83 L110.06,137.94 L109.56,139.00 L109.03,139.98 L108.48,140.86 L107.93,141.64 L107.37,142.29 L106.82,142.81 L106.27,143.19 L105.73,143.42 L105.20,143.50 L104.67,143.42 L104.13,143.19 L103.58,142.81 L103.03,142.29 L102.47,141.64 L101.92,140.86 L101.37,139.98 L100.84,139.00 L100.34,137.94 L99.88,136.83 L99.50,135.67 L99.20,134.50 L99.00,133.33 L98.92,132.17 L98.98,131.06 L99.17,130.00 L99.51,129.02 L100.00,128.14 L100.62,127.36 L101.37,126.71 L102.23,126.19 L103.17,125.81 L104.17,125.58Z" fill="#000" fill-opacity="0.03" stroke="#333" stroke-width="0.55"/><path d="M105.20,127.30 L106.05,127.36 L106.87,127.55 L107.64,127.86 L108.34,128.29 L108.96,128.83 L109.47,129.46 L109.86,130.19 L110.14,130.99 L110.30,131.86 L110.35,132.77 L110.28,133.72 L110.12,134.68 L109.87,135.64 L109.56,136.59 L109.19,137.50 L108.78,138.37 L108.34,139.17 L107.89,139.90 L107.43,140.53 L106.98,141.07 L106.53,141.50 L106.08,141.81 L105.64,142.00 L105.20,142.06 L104.76,142.00 L104.32,141.81 L103.87,141.50 L103.42,141.07 L102.97,140.53 L102.51,139.90 L102.06,139.17 L101.62,138.37 L101.21,137.50 L100.84,136.59 L100.53,135.64 L100.28,134.68 L100.12,133.72 L100.05,132.77 L100.10,131.86 L100.26,130.99 L100.54,130.19 L100.93,129.46 L101.44,128.83 L102.06,128.29 L102.76,127.86 L103.53,127.55 L104.35,127.36Z" fill="#000" fill-opacity="0.05" stroke="#444" stroke-width="0.45"/><ellipse cx="104.8" cy="133.70" rx="5.22" ry="6.96" fill="url(#g4)"/><line x1="105.00" y1="131.00" x2="105.00" y2="135.95" stroke="#fff" stroke-width="0.7" opacity="0.4"/><text x="109.1" y="128.2" font-size="6.7" text-anchor="middle" fill="#000">98</text><rect x="133.4" y="115.2" width="52.19999999999999" height="52.8" stroke="#d8d8d8" fill="none" stroke-width="1.5"/><line x1="133.4" y1="115.2" x2="133.4" y2="168.0" stroke="#c2c2c2" stroke-width="1.2"/><line x1="132.8" y1="168.0" x2="186.2" y2="168.0" stroke="#b2b2b2" stroke-width="1.4"/><line x1="133.4" y1="164.02640405723545" x2="134.6" y2="164.02640405723545" stroke="#999" stroke-width="0.5"/><line x1="133.4" y1="161.70199943770047" x2="134.6" y2="161.70199943770047" stroke="#999" stroke-width="0.5"/><line x1="133.4" y1="160.0528081144709" x2="134.6" y2="160.0528081144709" stroke="#999" stroke-width="0.5"/><line x1="133.4" y1="158.77359594276456" x2="134.6" y2="158.77359594276456" stroke="#999" stroke-width="0.5"/><line x1="133.4" y1="157.7284034949359" x2="134.6" y2="157.7284034949359" stroke="#999" stroke-width="0.5"/><line x1="133.4" y1="156.8447058718118" x2="134.6" y2="156.8447058718118" stroke="#999" stroke-width="0.5"/><line x1="133.4" y1="156.07921217170633" x2="134.6" y2="156.07921217170633" stroke="#999" stroke-width="0.5"/><line x1="133.4" y1="155.4039988754009" x2="134.6" y2="155.4039988754009" stroke="#999" stroke-width="0.5"/><line x1="133.4" y1="150.82640405723546" x2="134.6" y2="150.82640405723546" stroke="#999" stroke-width="0.5"/><line x1="133.4" y1="148.50199943770048" x2="134.6" y2="148.50199943770048" stroke="#999" stroke-width="0.5"/><line x1="133.4" y1="146.85280811447092" x2="134.6" y2="146.85280811447092" stroke="#999" stroke-width="0.5"/><line x1="133.4" y1="145.57359594276457" x2="134.6" y2="145.57359594276457" stroke="#999" stroke-width="0.5"/><line x1="133.4" y1="144.5284034949359" x2="134.6" y2="144.5284034949359" stroke="#999" stroke-width="0.5"/><line x1="133.4" y1="143.64470587181182" x2="134.6" y2="143.64470587181182" stroke="#999" stroke-width="0.5"/><line x1="133.4" y1="142.87921217170634" x2="134.6" y2="142.87921217170634" stroke="#999" stroke-width="0.5"/><line x1="133.4" y1="142.2039988754009" x2="134.6" y2="142.2039988754009" stroke="#999" stroke-width="0.5"/><line x1="133.4" y1="137.62640405723545" x2="134.6" y2="137.62640405723545" stroke="#999" stroke-width="0.5"/><line x1="133.4" y1="135.30199943770046" x2="134.6" y2="135.30199943770046" stroke="#999" stroke-width="0.5"/><line x1="133.4" y1="133.6528081144709" x2="134.6" y2="133.6528081144709" stroke="#999" stroke-width="0.5"/><line x1="133.4" y1="132.37359594276455" x2="134.6" y2="132.37359594276455" stroke="#999" stroke-width="0.5"/><line x1="133.4" y1="131.3284034949359" x2="134.6" y2="131.3284034949359" stroke="#999" stroke-width="0.5"/><line x1="133.4" y1="130.4447058718118" x2="134.6" y2="130.4447058718118" stroke="#999" stroke-width="0.5"/><line x1="133.4" y1="129.67921217170635" x2="134.6" y2="129.67921217170635" stroke="#999" stroke-width="0.5"/><line x1="133.4" y1="129.0039988754009" x2="134.6" y2="129.0039988754009" stroke="#999" stroke-width="0.5"/><line x1="133.4" y1="124.42640405723546" x2="134.6" y2="124.42640405723546" stroke="#999" stroke-width="0.5"/><line x1="133.4" y1="122.10199943770046" x2="134.6" y2="122.10199943770046" stroke="#999" stroke-width="0.5"/><line x1="133.4" y1="120.4528081144709" x2="134.6" y2="120.4528081144709" stroke="#999" stroke-width="0.5"/><line x1="133.4" y1="119.17359594276456" x2="134.6" y2="119.17359594276456" stroke="#999" stroke-width="0.5"/><line x1="133.4" y1="118.12840349493591" x2="134.6" y2="118.12840349493591" stroke="#999" stroke-width="0.5"/><line x1="133.4" y1="117.24470587181182" x2="134.6" y2="117.24470587181182" stroke="#999" stroke-width="0.5"/><line x1="133.4" y1="116.47921217170635" x2="134.6" y2="116.47921217170635" stroke="#999" stroke-width="0.5"/><line x1="133.4" y1="115.80399887540092" x2="134.6" y2="115.80399887540092" stroke="#999" stroke-width="0.5"/><line x1="137.32844144341496" y1="168.0" x2="137.32844144341496" y2="166.8" stroke="#999" stroke-width="0.5"/><line x1="139.6264323740916" y1="168.0" x2="139.6264323740916" y2="166.8" stroke="#999" stroke-width="0.5"/><line x1="141.2568828868299" y1="168.0" x2="141.2568828868299" y2="166.8" stroke="#999" stroke-width="0.5"/><line x1="142.52155855658503" y1="168.0" x2="142.52155855658503" y2="166.8" stroke="#999" stroke-width="0.5"/><line x1="143.55487381750655" y1="168.0" x2="143.55487381750655" y2="166.8" stroke="#999" stroke-width="0.5"/><line x1="144.42852942218605" y1="168.0" x2="144.42852942218605" y2="166.8" stroke="#999" stroke-width="0.5"/><line x1="145.18532433024487" y1="168.0" x2="145.18532433024487" y2="166.8" stroke="#999" stroke-width="0.5"/><line x1="145.85286474818318" y1="168.0" x2="145.85286474818318" y2="166.8" stroke="#999" stroke-width="0.5"/><line x1="150.37844144341494" y1="168.0" x2="150.37844144341494" y2="166.8" stroke="#999" stroke-width="0.5"/><line x1="152.67643237409158" y1="168.0" x2="152.67643237409158" y2="166.8" stroke="#999" stroke-width="0.5"/><line x1="154.3068828868299" y1="168.0" x2="154.3068828868299" y2="166.8" stroke="#999" stroke-width="0.5"/><line x1="155.57155855658505" y1="168.0" x2="155.57155855658505" y2="166.8" stroke="#999" stroke-width="0.5"/><line x1="156.60487381750653" y1="168.0" x2="156.60487381750653" y2="166.8" stroke="#999" stroke-width="0.5"/><line x1="157.47852942218603" y1="168.0" x2="157.47852942218603" y2="166.8" stroke="#999" stroke-width="0.5"/><line x1="158.23532433024485" y1="168.0" x2="158.23532433024485" y2="166.8" stroke="#999" stroke-width="0.5"/><line x1="158.90286474818316" y1="168.0" x2="158.90286474818316" y2="166.8" stroke="#999" stroke-width="0.5"/><line x1="163.42844144341495" y1="168.0" x2="163.42844144341495" y2="166.8" stroke="#999" stroke-width="0.5"/><line x1="165.7264323740916" y1="168.0" x2="165.7264323740916" y2="166.8" stroke="#999" stroke-width="0.5"/><line x1="167.3568828868299" y1="168.0" x2="167.3568828868299" y2="166.8" stroke="#999" stroke-width="0.5"/><line x1="168.62155855658506" y1="168.0" x2="168.62155855658506" y2="166.8" stroke="#999" stroke-width="0.5"/><line x1="169.65487381750654" y1="168.0" x2="169.65487381750654" y2="166.8" stroke="#999" stroke-width="0.5"/><line x1="170.52852942218604" y1="168.0" x2="170.52852942218604" y2="166.8" stroke="#999" stroke-width="0.5"/><line x1="171.28532433024486" y1="168.0" x2="171.28532433024486" y2="166.8" stroke="#999" stroke-width="0.5"/><line x1="171.95286474818317" y1="168.0" x2="171.95286474818317" y2="166.8" stroke="#999" stroke-width="0.5"/><line x1="176.47844144341497" y1="168.0" x2="176.47844144341497" y2="166.8" stroke="#999" stroke-width="0.5"/><line x1="178.7764323740916" y1="168.0" x2="178.7764323740916" y2="166.8" stroke="#999" stroke-width="0.5"/><line x1="180.40688288682992" y1="168.0" x2="180.40688288682992" y2="166.8" stroke="#999" stroke-width="0.5"/><line x1="181.67155855658507" y1="168.0" x2="181.67155855658507" y2="166.8" stroke="#999" stroke-width="0.5"/><line x1="182.70487381750655" y1="168.0" x2="182.70487381750655" y2="166.8" stroke="#999" stroke-width="0.5"/><line x1="183.57852942218605" y1="168.0" x2="183.57852942218605" y2="166.8" stroke="#999" stroke-width="0.5"/><line x1="184.33532433024487" y1="168.0" x2="184.33532433024487" y2="166.8" stroke="#999" stroke-width="0.5"/><line x1="185.00286474818319" y1="168.0" x2="185.00286474818319" y2="166.8" stroke="#999" stroke-width="0.5"/><g fill="#999" opacity="0.45"><circle cx="148.1" cy="141.9" r="0.36"/><circle cx="147.5" cy="137.9" r="0.36"/><circle cx="168.9" cy="132.4" r="0.36"/><circle cx="152.6" cy="160.0" r="0.36"/><circle cx="161.4" cy="119.7" r="0.36"/><circle cx="155.0" cy="145.4" r="0.36"/><circle cx="165.7" cy="141.8" r="0.36"/><circle cx="155.7" cy="127.2" r="0.36"/><circle cx="140.9" cy="150.8" r="0.36"/><circle cx="153.3" cy="130.3" r="0.36"/><circle cx="145.3" cy="141.7" r="0.36"/><circle cx="149.3" cy="145.2" r="0.36"/><circle cx="146.2" cy="133.7" r="0.36"/><circle cx="159.9" cy="148.5" r="0.36"/><circle cx="147.8" cy="152.4" r="0.36"/><circle cx="152.7" cy="145.5" r="0.36"/><circle cx="153.1" cy="132.8" r="0.36"/><circle cx="153.9" cy="147.8" r="0.36"/><circle cx="140.7" cy="165.9" r="0.36"/><circle cx="167.6" cy="144.9" r="0.36"/><circle cx="166.7" cy="136.1" r="0.36"/><circle cx="145.7" cy="139.6" r="0.36"/><circle cx="141.4" cy="149.0" r="0.36"/><circle cx="148.5" cy="148.8" r="0.36"/><circle cx="169.2" cy="127.4" r="0.36"/><circle cx="154.8" cy="142.4" r="0.36"/><circle cx="151.2" cy="139.0" r="0.36"/><circle cx="147.6" cy="136.2" r="0.36"/><circle cx="150.4" cy="141.3" r="0.36"/><circle cx="151.6" cy="133.0" r="0.36"/><circle cx="149.1" cy="142.8" r="0.36"/><circle cx="154.2" cy="129.3" r="0.36"/><circle cx="152.5" cy="148.5" r="0.36"/><circle cx="154.1" cy="135.5" r="0.36"/><circle cx="144.3" cy="143.8" r="0.36"/><circle cx="155.3" cy="151.5" r="0.36"/><circle cx="147.3" cy="138.0" r="0.36"/><circle cx="152.1" cy="142.0" r="0.36"/><circle cx="140.6" cy="142.2" r="0.36"/><circle cx="147.8" cy="149.2" r="0.36"/><circle cx="138.0" cy="141.6" r="0.36"/><circle cx="153.2" cy="128.6" r="0.36"/><circle cx="149.7" cy="145.0" r="0.36"/><circle cx="147.8" cy="134.4" r="0.36"/><circle cx="148.2" cy="140.1" r="0.36"/><circle cx="151.8" cy="133.1" r="0.36"/><circle cx="158.6" cy="120.7" r="0.36"/><circle cx="147.2" cy="143.9" r="0.36"/><circle cx="157.4" cy="131.0" r="0.36"/><circle cx="153.7" cy="134.1" r="0.36"/><circle cx="155.4" cy="153.1" r="0.36"/><circle cx="145.1" cy="149.2" r="0.36"/><circle cx="140.4" cy="157.3" r="0.36"/><circle cx="159.6" cy="135.0" r="0.36"/><circle cx="138.5" cy="153.7" r="0.36"/><circle cx="159.1" cy="144.7" r="0.36"/><circle cx="156.1" cy="121.2" r="0.36"/><circle cx="142.6" cy="159.7" r="0.36"/><circle cx="137.7" cy="160.7" r="0.36"/><circle cx="165.7" cy="136.9" r="0.36"/><circle cx="158.8" cy="132.3" r="0.36"/><circle cx="137.7" cy="149.8" r="0.36"/><circle cx="147.0" cy="143.6" r="0.36"/><circle cx="155.0" cy="136.8" r="0.36"/><circle cx="150.5" cy="145.1" r="0.36"/><circle cx="148.7" cy="158.9" r="0.36"/><circle cx="152.7" cy="140.5" r="0.36"/><circle cx="146.9" cy="138.5" r="0.36"/><circle cx="160.8" cy="135.1" r="0.36"/><circle cx="139.0" cy="144.8" r="0.36"/><circle cx="147.5" cy="139.6" r="0.36"/><circle cx="158.5" cy="125.3" r="0.36"/><circle cx="153.2" cy="140.7" r="0.36"/><circle cx="138.2" cy="150.8" r="0.36"/><circle cx="147.9" cy="147.7" r="0.36"/><circle cx="144.7" cy="148.3" r="0.36"/><circle cx="155.8" cy="146.6" r="0.36"/><circle cx="148.6" cy="137.5" r="0.36"/><circle cx="158.5" cy="117.1" r="0.36"/><circle cx="141.6" cy="153.8" r="0.36"/><circle cx="154.6" cy="129.3" r="0.36"/><circle cx="150.1" cy="133.8" r="0.36"/><circle cx="149.2" cy="150.2" r="0.36"/><circle cx="155.4" cy="119.5" r="0.36"/><circle cx="155.7" cy="121.9" r="0.36"/><circle cx="159.0" cy="138.6" r="0.36"/><circle cx="169.0" cy="122.4" r="0.36"/><circle cx="148.8" cy="151.8" r="0.36"/><circle cx="143.0" cy="140.7" r="0.36"/><circle cx="145.4" cy="144.5" r="0.36"/><circle cx="139.0" cy="154.1" r="0.36"/><circle cx="153.6" cy="139.7" r="0.36"/><circle cx="164.1" cy="128.6" r="0.36"/><circle cx="160.5" cy="129.2" r="0.36"/><circle cx="155.6" cy="120.6" r="0.36"/><circle cx="150.5" cy="139.8" r="0.36"/><circle cx="144.3" cy="140.6" r="0.36"/><circle cx="145.6" cy="138.6" r="0.36"/><circle cx="143.8" cy="141.7" r="0.36"/><circle cx="139.2" cy="148.4" r="0.36"/><circle cx="155.8" cy="135.3" r="0.36"/><circle cx="144.3" cy="157.9" r="0.36"/><circle cx="157.5" cy="144.3" r="0.36"/><circle cx="159.1" cy="132.2" r="0.36"/><circle cx="147.6" cy="153.3" r="0.36"/><circle cx="143.8" cy="145.3" r="0.36"/><circle cx="152.2" cy="143.4" r="0.36"/><circle cx="146.3" cy="153.1" r="0.36"/><circle cx="147.1" cy="150.2" r="0.36"/><circle cx="158.4" cy="141.4" r="0.36"/><circle cx="155.4" cy="127.6" r="0.36"/><circle cx="137.0" cy="145.9" r="0.36"/><circle cx="153.0" cy="152.7" r="0.36"/><circle cx="137.7" cy="153.4" r="0.36"/><circle cx="141.1" cy="141.8" r="0.36"/></g><polyline points="160.1,168.0 160.1,117.7 184.7,117.7 184.7,168.0" fill="none" stroke="#b3a8e4" stroke-width="0.75"/><defs><radialGradient id="g5"><stop offset="0" stop-color="#000" stop-opacity="1.0"/><stop offset="0.6" stop-color="#000" stop-opacity="0.95"/><stop offset="0.8" stop-color="#000" stop-opacity="0.45"/><stop offset="1" stop-color="#000" stop-opacity="0"/></radialGradient></defs><path d="M168.40,124.80 L169.24,124.89 L170.06,125.17 L170.83,125.63 L171.53,126.26 L172.14,127.05 L172.65,127.99 L173.04,129.06 L173.32,130.25 L173.48,131.53 L173.53,132.88 L173.46,134.28 L173.30,135.70 L173.06,137.12 L172.74,138.52 L172.37,139.87 L171.96,141.15 L171.53,142.34 L171.08,143.41 L170.63,144.35 L170.17,145.14 L169.72,145.77 L169.28,146.23 L168.84,146.51 L168.40,146.60 L167.96,146.51 L167.52,146.23 L167.08,145.77 L166.63,145.14 L166.17,144.35 L165.72,143.41 L165.27,142.34 L164.84,141.15 L164.43,139.87 L164.06,138.52 L163.74,137.12 L163.50,135.70 L163.34,134.28 L163.27,132.88 L163.32,131.53 L163.48,130.25 L163.76,129.06 L164.15,127.99 L164.66,127.05 L165.27,126.26 L165.97,125.63 L166.74,125.17 L167.56,124.89Z" fill="#000" fill-opacity="0.03" stroke="#333" stroke-width="0.55"/><path d="M168.40,126.98 L169.09,127.06 L169.76,127.28 L170.39,127.66 L170.97,128.18 L171.47,128.83 L171.88,129.60 L172.21,130.48 L172.44,131.45 L172.57,132.50 L172.60,133.60 L172.55,134.75 L172.42,135.92 L172.22,137.08 L171.96,138.23 L171.66,139.34 L171.32,140.39 L170.97,141.36 L170.60,142.24 L170.23,143.01 L169.85,143.66 L169.48,144.18 L169.12,144.55 L168.76,144.78 L168.40,144.86 L168.04,144.78 L167.68,144.55 L167.32,144.18 L166.95,143.66 L166.57,143.01 L166.20,142.24 L165.83,141.36 L165.48,140.39 L165.14,139.34 L164.84,138.23 L164.58,137.08 L164.38,135.92 L164.25,134.75 L164.20,133.60 L164.23,132.50 L164.36,131.45 L164.59,130.48 L164.92,129.60 L165.33,128.83 L165.83,128.18 L166.41,127.66 L167.04,127.28 L167.71,127.06Z" fill="#000" fill-opacity="0.05" stroke="#444" stroke-width="0.45"/><ellipse cx="168.4" cy="135.20" rx="4.78" ry="8.70" fill="url(#g5)"/><line x1="168.60" y1="131.93" x2="168.60" y2="137.92" stroke="#fff" stroke-width="0.7" opacity="0.4"/><text x="173.5" y="127.89999999999999" font-size="6.7" text-anchor="middle" fill="#000">99</text><rect x="194.8" y="115.2" width="51.19999999999999" height="52.8" stroke="#d8d8d8" fill="none" stroke-width="1.5"/><line x1="194.8" y1="115.2" x2="194.8" y2="168.0" stroke="#c2c2c2" stroke-width="1.2"/><line x1="194.20000000000002" y1="168.0" x2="246.6" y2="168.0" stroke="#b2b2b2" stroke-width="1.4"/><line x1="194.8" y1="164.02640405723545" x2="196.0" y2="164.02640405723545" stroke="#999" stroke-width="0.5"/><line x1="194.8" y1="161.70199943770047" x2="196.0" y2="161.70199943770047" stroke="#999" stroke-width="0.5"/><line x1="194.8" y1="160.0528081144709" x2="196.0" y2="160.0528081144709" stroke="#999" stroke-width="0.5"/><line x1="194.8" y1="158.77359594276456" x2="196.0" y2="158.77359594276456" stroke="#999" stroke-width="0.5"/><line x1="194.8" y1="157.7284034949359" x2="196.0" y2="157.7284034949359" stroke="#999" stroke-width="0.5"/><line x1="194.8" y1="156.8447058718118" x2="196.0" y2="156.8447058718118" stroke="#999" stroke-width="0.5"/><line x1="194.8" y1="156.07921217170633" x2="196.0" y2="156.07921217170633" stroke="#999" stroke-width="0.5"/><line x1="194.8" y1="155.4039988754009" x2="196.0" y2="155.4039988754009" stroke="#999" stroke-width="0.5"/><line x1="194.8" y1="150.82640405723546" x2="196.0" y2="150.82640405723546" stroke="#999" stroke-width="0.5"/><line x1="194.8" y1="148.50199943770048" x2="196.0" y2="148.50199943770048" stroke="#999" stroke-width="0.5"/><line x1="194.8" y1="146.85280811447092" x2="196.0" y2="146.85280811447092" stroke="#999" stroke-width="0.5"/><line x1="194.8" y1="145.57359594276457" x2="196.0" y2="145.57359594276457" stroke="#999" stroke-width="0.5"/><line x1="194.8" y1="144.5284034949359" x2="196.0" y2="144.5284034949359" stroke="#999" stroke-width="0.5"/><line x1="194.8" y1="143.64470587181182" x2="196.0" y2="143.64470587181182" stroke="#999" stroke-width="0.5"/><line x1="194.8" y1="142.87921217170634" x2="196.0" y2="142.87921217170634" stroke="#999" stroke-width="0.5"/><line x1="194.8" y1="142.2039988754009" x2="196.0" y2="142.2039988754009" stroke="#999" stroke-width="0.5"/><line x1="194.8" y1="137.62640405723545" x2="196.0" y2="137.62640405723545" stroke="#999" stroke-width="0.5"/><line x1="194.8" y1="135.30199943770046" x2="196.0" y2="135.30199943770046" stroke="#999" stroke-width="0.5"/><line x1="194.8" y1="133.6528081144709" x2="196.0" y2="133.6528081144709" stroke="#999" stroke-width="0.5"/><line x1="194.8" y1="132.37359594276455" x2="196.0" y2="132.37359594276455" stroke="#999" stroke-width="0.5"/><line x1="194.8" y1="131.3284034949359" x2="196.0" y2="131.3284034949359" stroke="#999" stroke-width="0.5"/><line x1="194.8" y1="130.4447058718118" x2="196.0" y2="130.4447058718118" stroke="#999" stroke-width="0.5"/><line x1="194.8" y1="129.67921217170635" x2="196.0" y2="129.67921217170635" stroke="#999" stroke-width="0.5"/><line x1="194.8" y1="129.0039988754009" x2="196.0" y2="129.0039988754009" stroke="#999" stroke-width="0.5"/><line x1="194.8" y1="124.42640405723546" x2="196.0" y2="124.42640405723546" stroke="#999" stroke-width="0.5"/><line x1="194.8" y1="122.10199943770046" x2="196.0" y2="122.10199943770046" stroke="#999" stroke-width="0.5"/><line x1="194.8" y1="120.4528081144709" x2="196.0" y2="120.4528081144709" stroke="#999" stroke-width="0.5"/><line x1="194.8" y1="119.17359594276456" x2="196.0" y2="119.17359594276456" stroke="#999" stroke-width="0.5"/><line x1="194.8" y1="118.12840349493591" x2="196.0" y2="118.12840349493591" stroke="#999" stroke-width="0.5"/><line x1="194.8" y1="117.24470587181182" x2="196.0" y2="117.24470587181182" stroke="#999" stroke-width="0.5"/><line x1="194.8" y1="116.47921217170635" x2="196.0" y2="116.47921217170635" stroke="#999" stroke-width="0.5"/><line x1="194.8" y1="115.80399887540092" x2="196.0" y2="115.80399887540092" stroke="#999" stroke-width="0.5"/><line x1="198.65318394449898" y1="168.0" x2="198.65318394449898" y2="166.8" stroke="#999" stroke-width="0.5"/><line x1="200.90715206041168" y1="168.0" x2="200.90715206041168" y2="166.8" stroke="#999" stroke-width="0.5"/><line x1="202.50636788899794" y1="168.0" x2="202.50636788899794" y2="166.8" stroke="#999" stroke-width="0.5"/><line x1="203.74681605550106" y1="168.0" x2="203.74681605550106" y2="166.8" stroke="#999" stroke-width="0.5"/><line x1="204.76033600491064" y1="168.0" x2="204.76033600491064" y2="166.8" stroke="#999" stroke-width="0.5"/><line x1="205.6172549121825" y1="168.0" x2="205.6172549121825" y2="166.8" stroke="#999" stroke-width="0.5"/><line x1="206.35955183349688" y1="168.0" x2="206.35955183349688" y2="166.8" stroke="#999" stroke-width="0.5"/><line x1="207.01430412082337" y1="168.0" x2="207.01430412082337" y2="166.8" stroke="#999" stroke-width="0.5"/><line x1="211.453183944499" y1="168.0" x2="211.453183944499" y2="166.8" stroke="#999" stroke-width="0.5"/><line x1="213.7071520604117" y1="168.0" x2="213.7071520604117" y2="166.8" stroke="#999" stroke-width="0.5"/><line x1="215.30636788899795" y1="168.0" x2="215.30636788899795" y2="166.8" stroke="#999" stroke-width="0.5"/><line x1="216.54681605550107" y1="168.0" x2="216.54681605550107" y2="166.8" stroke="#999" stroke-width="0.5"/><line x1="217.56033600491065" y1="168.0" x2="217.56033600491065" y2="166.8" stroke="#999" stroke-width="0.5"/><line x1="218.4172549121825" y1="168.0" x2="218.4172549121825" y2="166.8" stroke="#999" stroke-width="0.5"/><line x1="219.1595518334969" y1="168.0" x2="219.1595518334969" y2="166.8" stroke="#999" stroke-width="0.5"/><line x1="219.81430412082338" y1="168.0" x2="219.81430412082338" y2="166.8" stroke="#999" stroke-width="0.5"/><line x1="224.25318394449897" y1="168.0" x2="224.25318394449897" y2="166.8" stroke="#999" stroke-width="0.5"/><line x1="226.50715206041167" y1="168.0" x2="226.50715206041167" y2="166.8" stroke="#999" stroke-width="0.5"/><line x1="228.1063678889979" y1="168.0" x2="228.1063678889979" y2="166.8" stroke="#999" stroke-width="0.5"/><line x1="229.34681605550105" y1="168.0" x2="229.34681605550105" y2="166.8" stroke="#999" stroke-width="0.5"/><line x1="230.36033600491064" y1="168.0" x2="230.36033600491064" y2="166.8" stroke="#999" stroke-width="0.5"/><line x1="231.21725491218248" y1="168.0" x2="231.21725491218248" y2="166.8" stroke="#999" stroke-width="0.5"/><line x1="231.95955183349687" y1="168.0" x2="231.95955183349687" y2="166.8" stroke="#999" stroke-width="0.5"/><line x1="232.61430412082336" y1="168.0" x2="232.61430412082336" y2="166.8" stroke="#999" stroke-width="0.5"/><line x1="237.05318394449895" y1="168.0" x2="237.05318394449895" y2="166.8" stroke="#999" stroke-width="0.5"/><line x1="239.30715206041165" y1="168.0" x2="239.30715206041165" y2="166.8" stroke="#999" stroke-width="0.5"/><line x1="240.90636788899792" y1="168.0" x2="240.90636788899792" y2="166.8" stroke="#999" stroke-width="0.5"/><line x1="242.14681605550103" y1="168.0" x2="242.14681605550103" y2="166.8" stroke="#999" stroke-width="0.5"/><line x1="243.16033600491062" y1="168.0" x2="243.16033600491062" y2="166.8" stroke="#999" stroke-width="0.5"/><line x1="244.01725491218247" y1="168.0" x2="244.01725491218247" y2="166.8" stroke="#999" stroke-width="0.5"/><line x1="244.75955183349686" y1="168.0" x2="244.75955183349686" y2="166.8" stroke="#999" stroke-width="0.5"/><line x1="245.41430412082335" y1="168.0" x2="245.41430412082335" y2="166.8" stroke="#999" stroke-width="0.5"/><g fill="#999" opacity="0.45"><circle cx="207.2" cy="150.6" r="0.36"/><circle cx="211.6" cy="151.6" r="0.36"/><circle cx="200.8" cy="157.0" r="0.36"/><circle cx="218.0" cy="137.1" r="0.36"/><circle cx="213.9" cy="134.5" r="0.36"/><circle cx="199.8" cy="146.3" r="0.36"/><circle cx="205.3" cy="160.4" r="0.36"/><circle cx="211.5" cy="144.1" r="0.36"/><circle cx="216.3" cy="130.9" r="0.36"/><circle cx="217.9" cy="139.9" r="0.36"/><circle cx="196.0" cy="158.0" r="0.36"/><circle cx="214.6" cy="143.0" r="0.36"/><circle cx="223.9" cy="128.5" r="0.36"/><circle cx="214.3" cy="145.9" r="0.36"/><circle cx="201.5" cy="159.2" r="0.36"/><circle cx="196.6" cy="140.8" r="0.36"/><circle cx="214.4" cy="129.6" r="0.36"/><circle cx="208.6" cy="128.9" r="0.36"/><circle cx="210.3" cy="132.2" r="0.36"/><circle cx="212.7" cy="126.9" r="0.36"/><circle cx="213.7" cy="137.4" r="0.36"/><circle cx="210.2" cy="141.6" r="0.36"/><circle cx="210.8" cy="130.2" r="0.36"/><circle cx="201.2" cy="144.8" r="0.36"/><circle cx="213.5" cy="122.4" r="0.36"/><circle cx="202.8" cy="142.3" r="0.36"/><circle cx="200.1" cy="152.5" r="0.36"/><circle cx="208.4" cy="136.4" r="0.36"/><circle cx="200.8" cy="156.3" r="0.36"/><circle cx="203.7" cy="152.2" r="0.36"/><circle cx="213.7" cy="123.0" r="0.36"/><circle cx="199.9" cy="149.8" r="0.36"/><circle cx="212.7" cy="147.3" r="0.36"/><circle cx="216.9" cy="146.5" r="0.36"/><circle cx="206.3" cy="143.3" r="0.36"/><circle cx="216.6" cy="133.8" r="0.36"/><circle cx="219.2" cy="121.7" r="0.36"/><circle cx="215.5" cy="136.8" r="0.36"/><circle cx="212.4" cy="140.8" r="0.36"/><circle cx="200.0" cy="145.7" r="0.36"/><circle cx="223.3" cy="125.4" r="0.36"/><circle cx="198.9" cy="149.4" r="0.36"/><circle cx="206.1" cy="137.2" r="0.36"/><circle cx="202.1" cy="157.4" r="0.36"/><circle cx="204.8" cy="136.6" r="0.36"/><circle cx="216.7" cy="142.4" r="0.36"/><circle cx="200.3" cy="156.1" r="0.36"/><circle cx="219.8" cy="133.0" r="0.36"/><circle cx="197.9" cy="155.8" r="0.36"/><circle cx="217.9" cy="136.4" r="0.36"/><circle cx="213.4" cy="146.7" r="0.36"/><circle cx="226.3" cy="128.2" r="0.36"/><circle cx="205.3" cy="145.5" r="0.36"/><circle cx="220.5" cy="126.4" r="0.36"/><circle cx="216.8" cy="131.4" r="0.36"/><circle cx="213.8" cy="145.7" r="0.36"/><circle cx="199.0" cy="149.7" r="0.36"/><circle cx="211.8" cy="146.2" r="0.36"/><circle cx="201.3" cy="140.1" r="0.36"/><circle cx="207.9" cy="142.0" r="0.36"/><circle cx="196.2" cy="160.7" r="0.36"/><circle cx="204.8" cy="158.8" r="0.36"/><circle cx="217.3" cy="137.2" r="0.36"/><circle cx="216.2" cy="128.1" r="0.36"/><circle cx="206.7" cy="139.7" r="0.36"/><circle cx="198.2" cy="151.2" r="0.36"/><circle cx="208.3" cy="156.2" r="0.36"/><circle cx="201.4" cy="144.6" r="0.36"/><circle cx="213.4" cy="143.4" r="0.36"/><circle cx="209.9" cy="138.3" r="0.36"/><circle cx="214.1" cy="142.6" r="0.36"/><circle cx="197.3" cy="141.3" r="0.36"/><circle cx="211.0" cy="142.2" r="0.36"/><circle cx="210.7" cy="134.2" r="0.36"/><circle cx="207.8" cy="136.0" r="0.36"/><circle cx="213.1" cy="146.2" r="0.36"/><circle cx="225.4" cy="142.2" r="0.36"/><circle cx="202.4" cy="143.9" r="0.36"/><circle cx="201.2" cy="151.5" r="0.36"/><circle cx="227.5" cy="135.8" r="0.36"/><circle cx="198.0" cy="155.7" r="0.36"/><circle cx="209.7" cy="145.3" r="0.36"/><circle cx="225.7" cy="123.6" r="0.36"/><circle cx="202.0" cy="165.5" r="0.36"/><circle cx="212.7" cy="133.5" r="0.36"/><circle cx="210.0" cy="151.1" r="0.36"/><circle cx="208.4" cy="137.5" r="0.36"/><circle cx="203.0" cy="164.3" r="0.36"/><circle cx="209.9" cy="147.9" r="0.36"/><circle cx="206.0" cy="149.7" r="0.36"/><circle cx="217.0" cy="136.0" r="0.36"/><circle cx="205.5" cy="144.0" r="0.36"/><circle cx="201.0" cy="147.2" r="0.36"/><circle cx="206.9" cy="146.5" r="0.36"/><circle cx="221.7" cy="145.3" r="0.36"/><circle cx="205.6" cy="150.9" r="0.36"/><circle cx="212.3" cy="147.4" r="0.36"/><circle cx="209.8" cy="144.9" r="0.36"/><circle cx="205.4" cy="138.8" r="0.36"/><circle cx="217.5" cy="148.3" r="0.36"/><circle cx="215.6" cy="142.1" r="0.36"/><circle cx="212.0" cy="136.9" r="0.36"/><circle cx="211.4" cy="136.5" r="0.36"/><circle cx="201.0" cy="160.3" r="0.36"/></g><polyline points="220.5,168.0 220.5,115.7 245.1,115.7 245.1,168.0" fill="none" stroke="#b3a8e4" stroke-width="0.75"/><defs><radialGradient id="g6"><stop offset="0" stop-color="#000" stop-opacity="1.0"/><stop offset="0.6" stop-color="#000" stop-opacity="0.95"/><stop offset="0.8" stop-color="#000" stop-opacity="0.45"/><stop offset="1" stop-color="#000" stop-opacity="0"/></radialGradient></defs><path d="M230.40,124.00 L231.29,124.12 L232.16,124.47 L232.98,125.04 L233.72,125.84 L234.37,126.83 L234.91,128.01 L235.33,129.36 L235.62,130.85 L235.79,132.46 L235.84,134.15 L235.77,135.91 L235.60,137.70 L235.34,139.49 L235.01,141.25 L234.62,142.94 L234.18,144.55 L233.72,146.04 L233.24,147.39 L232.76,148.57 L232.28,149.56 L231.80,150.36 L231.33,150.93 L230.86,151.28 L230.40,151.40 L229.94,151.28 L229.47,150.93 L229.00,150.36 L228.52,149.56 L228.04,148.57 L227.56,147.39 L227.08,146.04 L226.62,144.55 L226.18,142.94 L225.79,141.25 L225.46,139.49 L225.20,137.70 L225.03,135.91 L224.96,134.15 L225.01,132.46 L225.18,130.85 L225.47,129.36 L225.89,128.01 L226.43,126.83 L227.08,125.84 L227.82,125.04 L228.64,124.47 L229.51,124.12Z" fill="#000" fill-opacity="0.03" stroke="#333" stroke-width="0.55"/><path d="M230.40,126.74 L231.13,126.84 L231.84,127.12 L232.51,127.60 L233.12,128.25 L233.65,129.06 L234.10,130.03 L234.44,131.14 L234.68,132.36 L234.82,133.67 L234.86,135.07 L234.80,136.51 L234.66,137.97 L234.45,139.44 L234.18,140.88 L233.86,142.27 L233.50,143.59 L233.12,144.81 L232.73,145.92 L232.34,146.89 L231.94,147.70 L231.55,148.35 L231.16,148.83 L230.78,149.11 L230.40,149.21 L230.02,149.11 L229.64,148.83 L229.25,148.35 L228.86,147.70 L228.46,146.89 L228.07,145.92 L227.68,144.81 L227.30,143.59 L226.94,142.27 L226.62,140.88 L226.35,139.44 L226.14,137.97 L226.00,136.51 L225.94,135.07 L225.98,133.67 L226.12,132.36 L226.36,131.14 L226.70,130.03 L227.15,129.06 L227.68,128.25 L228.29,127.60 L228.96,127.12 L229.67,126.84Z" fill="#000" fill-opacity="0.05" stroke="#444" stroke-width="0.45"/><ellipse cx="231.1" cy="136.20" rx="5.08" ry="10.15" fill="url(#g6)"/><line x1="231.30" y1="132.09" x2="231.30" y2="139.62" stroke="#fff" stroke-width="0.7" opacity="0.4"/><text x="233.2" y="129.2" font-size="6.7" text-anchor="middle" fill="#000">99</text><text x="266.9" y="22.8" font-size="13.8" text-anchor="start" font-weight="bold" fill="#000" style="stroke:#000;stroke-width:0.35px">B</text><text x="421.0" y="16.3" font-size="9.9" text-anchor="middle" fill="#000">GLYA+</text><text x="356.0" y="32.4" font-size="9.9" text-anchor="middle" fill="#000">Day 10</text><text x="421.0" y="32.4" font-size="9.9" text-anchor="middle" fill="#000">Day 12</text><text x="482.5" y="32.4" font-size="9.9" text-anchor="middle" fill="#000">Day 14</text><line x1="307.05" y1="49.1" x2="307.05" y2="177" stroke="#000" stroke-width="1.7"/><polygon points="307.05,42.6 310.45,50.1 307.05,48.5 303.65000000000003,50.1" fill="#000"/><line x1="306.2" y1="176.2" x2="503.59999999999997" y2="176.2" stroke="#000" stroke-width="1.7"/><polygon points="511.4,176.2 502.59999999999997,172.5 504.4,176.2 502.59999999999997,179.89999999999998" fill="#000"/><text x="0" y="0" font-size="10.0" text-anchor="middle" font-weight="bold" fill="#000" transform="translate(300.8,53.6) rotate(-90) scale(0.62,1)">CD49d</text><text x="0" y="0" font-size="10.2" text-anchor="middle" fill="#000" transform="translate(285.8,73.0) rotate(-90) scale(0.96,1)">+Dox</text><text x="0" y="0" font-size="10.2" text-anchor="middle" fill="#000" transform="translate(285.8,141.5) rotate(-90) scale(0.96,1)">-Dox</text><text x="0" y="0" font-size="10.4" text-anchor="middle" fill="#000" transform="translate(499.9,189.5) scale(0.63,1)">Band 3</text><text x="313.9" y="49.9" font-size="7.4" text-anchor="start">10<tspan font-size="4.70" dy="-3.5" dx="0.2">4</tspan></text><text x="313.9" y="62.8" font-size="7.4" text-anchor="start">10<tspan font-size="4.70" dy="-3.5" dx="0.2">3</tspan></text><text x="313.9" y="75.7" font-size="7.4" text-anchor="start">10<tspan font-size="4.70" dy="-3.5" dx="0.2">2</tspan></text><text x="313.9" y="88.6" font-size="7.4" text-anchor="start">10<tspan font-size="4.70" dy="-3.5" dx="0.2">1</tspan></text><text x="313.9" y="101.5" font-size="7.4" text-anchor="start">10<tspan font-size="4.70" dy="-3.5" dx="0.2">0</tspan></text><text x="325.5" y="110.1" font-size="7.4" text-anchor="start">10<tspan font-size="4.70" dy="-3.5" dx="0.2">0</tspan></text><text x="338.62" y="110.1" font-size="7.4" text-anchor="start">10<tspan font-size="4.70" dy="-3.5" dx="0.2">1</tspan></text><text x="351.74" y="110.1" font-size="7.4" text-anchor="start">10<tspan font-size="4.70" dy="-3.5" dx="0.2">2</tspan></text><text x="364.86" y="110.1" font-size="7.4" text-anchor="start">10<tspan font-size="4.70" dy="-3.5" dx="0.2">3</tspan></text><text x="377.98" y="110.1" font-size="7.4" text-anchor="start">10<tspan font-size="4.70" dy="-3.5" dx="0.2">4</tspan></text><rect x="329.5" y="46.4" width="52.80000000000001" height="52.300000000000004" stroke="#b9b9b9" fill="none" stroke-width="1.3"/><line x1="329.5" y1="46.4" x2="329.5" y2="98.7" stroke="#a6a6a6" stroke-width="1.2"/><line x1="328.9" y1="98.7" x2="382.90000000000003" y2="98.7" stroke="#9a9a9a" stroke-width="1.4"/><line x1="329.5" y1="94.76403280669345" x2="330.7" y2="94.76403280669345" stroke="#999" stroke-width="0.5"/><line x1="329.5" y1="92.46163959454042" x2="330.7" y2="92.46163959454042" stroke="#999" stroke-width="0.5"/><line x1="329.5" y1="90.8280656133869" x2="330.7" y2="90.8280656133869" stroke="#999" stroke-width="0.5"/><line x1="329.5" y1="89.56096719330655" x2="330.7" y2="89.56096719330655" stroke="#999" stroke-width="0.5"/><line x1="329.5" y1="88.52567240123386" x2="330.7" y2="88.52567240123386" stroke="#999" stroke-width="0.5"/><line x1="329.5" y1="87.6503431268136" x2="330.7" y2="87.6503431268136" stroke="#999" stroke-width="0.5"/><line x1="329.5" y1="86.89209842008034" x2="330.7" y2="86.89209842008034" stroke="#999" stroke-width="0.5"/><line x1="329.5" y1="86.22327918908083" x2="330.7" y2="86.22327918908083" stroke="#999" stroke-width="0.5"/><line x1="329.5" y1="81.68903280669345" x2="330.7" y2="81.68903280669345" stroke="#999" stroke-width="0.5"/><line x1="329.5" y1="79.38663959454041" x2="330.7" y2="79.38663959454041" stroke="#999" stroke-width="0.5"/><line x1="329.5" y1="77.7530656133869" x2="330.7" y2="77.7530656133869" stroke="#999" stroke-width="0.5"/><line x1="329.5" y1="76.48596719330655" x2="330.7" y2="76.48596719330655" stroke="#999" stroke-width="0.5"/><line x1="329.5" y1="75.45067240123386" x2="330.7" y2="75.45067240123386" stroke="#999" stroke-width="0.5"/><line x1="329.5" y1="74.57534312681359" x2="330.7" y2="74.57534312681359" stroke="#999" stroke-width="0.5"/><line x1="329.5" y1="73.81709842008034" x2="330.7" y2="73.81709842008034" stroke="#999" stroke-width="0.5"/><line x1="329.5" y1="73.14827918908082" x2="330.7" y2="73.14827918908082" stroke="#999" stroke-width="0.5"/><line x1="329.5" y1="68.61403280669344" x2="330.7" y2="68.61403280669344" stroke="#999" stroke-width="0.5"/><line x1="329.5" y1="66.31163959454041" x2="330.7" y2="66.31163959454041" stroke="#999" stroke-width="0.5"/><line x1="329.5" y1="64.67806561338689" x2="330.7" y2="64.67806561338689" stroke="#999" stroke-width="0.5"/><line x1="329.5" y1="63.41096719330655" x2="330.7" y2="63.41096719330655" stroke="#999" stroke-width="0.5"/><line x1="329.5" y1="62.37567240123386" x2="330.7" y2="62.37567240123386" stroke="#999" stroke-width="0.5"/><line x1="329.5" y1="61.50034312681359" x2="330.7" y2="61.50034312681359" stroke="#999" stroke-width="0.5"/><line x1="329.5" y1="60.74209842008033" x2="330.7" y2="60.74209842008033" stroke="#999" stroke-width="0.5"/><line x1="329.5" y1="60.07327918908082" x2="330.7" y2="60.07327918908082" stroke="#999" stroke-width="0.5"/><line x1="329.5" y1="55.53903280669345" x2="330.7" y2="55.53903280669345" stroke="#999" stroke-width="0.5"/><line x1="329.5" y1="53.236639594540414" x2="330.7" y2="53.236639594540414" stroke="#999" stroke-width="0.5"/><line x1="329.5" y1="51.60306561338689" x2="330.7" y2="51.60306561338689" stroke="#999" stroke-width="0.5"/><line x1="329.5" y1="50.33596719330656" x2="330.7" y2="50.33596719330656" stroke="#999" stroke-width="0.5"/><line x1="329.5" y1="49.30067240123386" x2="330.7" y2="49.30067240123386" stroke="#999" stroke-width="0.5"/><line x1="329.5" y1="48.425343126813594" x2="330.7" y2="48.425343126813594" stroke="#999" stroke-width="0.5"/><line x1="329.5" y1="47.667098420080336" x2="330.7" y2="47.667098420080336" stroke="#999" stroke-width="0.5"/><line x1="329.5" y1="46.998279189080826" x2="330.7" y2="46.998279189080826" stroke="#999" stroke-width="0.5"/><line x1="333.4735959427646" y1="98.7" x2="333.4735959427646" y2="97.5" stroke="#999" stroke-width="0.5"/><line x1="335.79800056229953" y1="98.7" x2="335.79800056229953" y2="97.5" stroke="#999" stroke-width="0.5"/><line x1="337.4471918855291" y1="98.7" x2="337.4471918855291" y2="97.5" stroke="#999" stroke-width="0.5"/><line x1="338.72640405723547" y1="98.7" x2="338.72640405723547" y2="97.5" stroke="#999" stroke-width="0.5"/><line x1="339.7715965050641" y1="98.7" x2="339.7715965050641" y2="97.5" stroke="#999" stroke-width="0.5"/><line x1="340.6552941281882" y1="98.7" x2="340.6552941281882" y2="97.5" stroke="#999" stroke-width="0.5"/><line x1="341.42078782829367" y1="98.7" x2="341.42078782829367" y2="97.5" stroke="#999" stroke-width="0.5"/><line x1="342.09600112459907" y1="98.7" x2="342.09600112459907" y2="97.5" stroke="#999" stroke-width="0.5"/><line x1="346.67359594276456" y1="98.7" x2="346.67359594276456" y2="97.5" stroke="#999" stroke-width="0.5"/><line x1="348.9980005622995" y1="98.7" x2="348.9980005622995" y2="97.5" stroke="#999" stroke-width="0.5"/><line x1="350.6471918855291" y1="98.7" x2="350.6471918855291" y2="97.5" stroke="#999" stroke-width="0.5"/><line x1="351.92640405723546" y1="98.7" x2="351.92640405723546" y2="97.5" stroke="#999" stroke-width="0.5"/><line x1="352.9715965050641" y1="98.7" x2="352.9715965050641" y2="97.5" stroke="#999" stroke-width="0.5"/><line x1="353.8552941281882" y1="98.7" x2="353.8552941281882" y2="97.5" stroke="#999" stroke-width="0.5"/><line x1="354.62078782829366" y1="98.7" x2="354.62078782829366" y2="97.5" stroke="#999" stroke-width="0.5"/><line x1="355.29600112459906" y1="98.7" x2="355.29600112459906" y2="97.5" stroke="#999" stroke-width="0.5"/><line x1="359.87359594276455" y1="98.7" x2="359.87359594276455" y2="97.5" stroke="#999" stroke-width="0.5"/><line x1="362.1980005622995" y1="98.7" x2="362.1980005622995" y2="97.5" stroke="#999" stroke-width="0.5"/><line x1="363.84719188552907" y1="98.7" x2="363.84719188552907" y2="97.5" stroke="#999" stroke-width="0.5"/><line x1="365.12640405723545" y1="98.7" x2="365.12640405723545" y2="97.5" stroke="#999" stroke-width="0.5"/><line x1="366.1715965050641" y1="98.7" x2="366.1715965050641" y2="97.5" stroke="#999" stroke-width="0.5"/><line x1="367.05529412818817" y1="98.7" x2="367.05529412818817" y2="97.5" stroke="#999" stroke-width="0.5"/><line x1="367.82078782829365" y1="98.7" x2="367.82078782829365" y2="97.5" stroke="#999" stroke-width="0.5"/><line x1="368.49600112459905" y1="98.7" x2="368.49600112459905" y2="97.5" stroke="#999" stroke-width="0.5"/><line x1="373.0735959427646" y1="98.7" x2="373.0735959427646" y2="97.5" stroke="#999" stroke-width="0.5"/><line x1="375.39800056229956" y1="98.7" x2="375.39800056229956" y2="97.5" stroke="#999" stroke-width="0.5"/><line x1="377.0471918855291" y1="98.7" x2="377.0471918855291" y2="97.5" stroke="#999" stroke-width="0.5"/><line x1="378.3264040572355" y1="98.7" x2="378.3264040572355" y2="97.5" stroke="#999" stroke-width="0.5"/><line x1="379.37159650506413" y1="98.7" x2="379.37159650506413" y2="97.5" stroke="#999" stroke-width="0.5"/><line x1="380.2552941281882" y1="98.7" x2="380.2552941281882" y2="97.5" stroke="#999" stroke-width="0.5"/><line x1="381.0207878282937" y1="98.7" x2="381.0207878282937" y2="97.5" stroke="#999" stroke-width="0.5"/><line x1="381.6960011245991" y1="98.7" x2="381.6960011245991" y2="97.5" stroke="#999" stroke-width="0.5"/><rect x="395.6" y="46.4" width="52.299999999999955" height="52.300000000000004" stroke="#b9b9b9" fill="none" stroke-width="1.3"/><line x1="395.6" y1="46.4" x2="395.6" y2="98.7" stroke="#a6a6a6" stroke-width="1.2"/><line x1="395.0" y1="98.7" x2="448.5" y2="98.7" stroke="#9a9a9a" stroke-width="1.4"/><line x1="395.6" y1="94.76403280669345" x2="396.8" y2="94.76403280669345" stroke="#999" stroke-width="0.5"/><line x1="395.6" y1="92.46163959454042" x2="396.8" y2="92.46163959454042" stroke="#999" stroke-width="0.5"/><line x1="395.6" y1="90.8280656133869" x2="396.8" y2="90.8280656133869" stroke="#999" stroke-width="0.5"/><line x1="395.6" y1="89.56096719330655" x2="396.8" y2="89.56096719330655" stroke="#999" stroke-width="0.5"/><line x1="395.6" y1="88.52567240123386" x2="396.8" y2="88.52567240123386" stroke="#999" stroke-width="0.5"/><line x1="395.6" y1="87.6503431268136" x2="396.8" y2="87.6503431268136" stroke="#999" stroke-width="0.5"/><line x1="395.6" y1="86.89209842008034" x2="396.8" y2="86.89209842008034" stroke="#999" stroke-width="0.5"/><line x1="395.6" y1="86.22327918908083" x2="396.8" y2="86.22327918908083" stroke="#999" stroke-width="0.5"/><line x1="395.6" y1="81.68903280669345" x2="396.8" y2="81.68903280669345" stroke="#999" stroke-width="0.5"/><line x1="395.6" y1="79.38663959454041" x2="396.8" y2="79.38663959454041" stroke="#999" stroke-width="0.5"/><line x1="395.6" y1="77.7530656133869" x2="396.8" y2="77.7530656133869" stroke="#999" stroke-width="0.5"/><line x1="395.6" y1="76.48596719330655" x2="396.8" y2="76.48596719330655" stroke="#999" stroke-width="0.5"/><line x1="395.6" y1="75.45067240123386" x2="396.8" y2="75.45067240123386" stroke="#999" stroke-width="0.5"/><line x1="395.6" y1="74.57534312681359" x2="396.8" y2="74.57534312681359" stroke="#999" stroke-width="0.5"/><line x1="395.6" y1="73.81709842008034" x2="396.8" y2="73.81709842008034" stroke="#999" stroke-width="0.5"/><line x1="395.6" y1="73.14827918908082" x2="396.8" y2="73.14827918908082" stroke="#999" stroke-width="0.5"/><line x1="395.6" y1="68.61403280669344" x2="396.8" y2="68.61403280669344" stroke="#999" stroke-width="0.5"/><line x1="395.6" y1="66.31163959454041" x2="396.8" y2="66.31163959454041" stroke="#999" stroke-width="0.5"/><line x1="395.6" y1="64.67806561338689" x2="396.8" y2="64.67806561338689" stroke="#999" stroke-width="0.5"/><line x1="395.6" y1="63.41096719330655" x2="396.8" y2="63.41096719330655" stroke="#999" stroke-width="0.5"/><line x1="395.6" y1="62.37567240123386" x2="396.8" y2="62.37567240123386" stroke="#999" stroke-width="0.5"/><line x1="395.6" y1="61.50034312681359" x2="396.8" y2="61.50034312681359" stroke="#999" stroke-width="0.5"/><line x1="395.6" y1="60.74209842008033" x2="396.8" y2="60.74209842008033" stroke="#999" stroke-width="0.5"/><line x1="395.6" y1="60.07327918908082" x2="396.8" y2="60.07327918908082" stroke="#999" stroke-width="0.5"/><line x1="395.6" y1="55.53903280669345" x2="396.8" y2="55.53903280669345" stroke="#999" stroke-width="0.5"/><line x1="395.6" y1="53.236639594540414" x2="396.8" y2="53.236639594540414" stroke="#999" stroke-width="0.5"/><line x1="395.6" y1="51.60306561338689" x2="396.8" y2="51.60306561338689" stroke="#999" stroke-width="0.5"/><line x1="395.6" y1="50.33596719330656" x2="396.8" y2="50.33596719330656" stroke="#999" stroke-width="0.5"/><line x1="395.6" y1="49.30067240123386" x2="396.8" y2="49.30067240123386" stroke="#999" stroke-width="0.5"/><line x1="395.6" y1="48.425343126813594" x2="396.8" y2="48.425343126813594" stroke="#999" stroke-width="0.5"/><line x1="395.6" y1="47.667098420080336" x2="396.8" y2="47.667098420080336" stroke="#999" stroke-width="0.5"/><line x1="395.6" y1="46.998279189080826" x2="396.8" y2="46.998279189080826" stroke="#999" stroke-width="0.5"/><line x1="399.5359671933066" y1="98.7" x2="399.5359671933066" y2="97.5" stroke="#999" stroke-width="0.5"/><line x1="401.8383604054596" y1="98.7" x2="401.8383604054596" y2="97.5" stroke="#999" stroke-width="0.5"/><line x1="403.4719343866131" y1="98.7" x2="403.4719343866131" y2="97.5" stroke="#999" stroke-width="0.5"/><line x1="404.73903280669344" y1="98.7" x2="404.73903280669344" y2="97.5" stroke="#999" stroke-width="0.5"/><line x1="405.77432759876615" y1="98.7" x2="405.77432759876615" y2="97.5" stroke="#999" stroke-width="0.5"/><line x1="406.6496568731864" y1="98.7" x2="406.6496568731864" y2="97.5" stroke="#999" stroke-width="0.5"/><line x1="407.40790157991967" y1="98.7" x2="407.40790157991967" y2="97.5" stroke="#999" stroke-width="0.5"/><line x1="408.0767208109192" y1="98.7" x2="408.0767208109192" y2="97.5" stroke="#999" stroke-width="0.5"/><line x1="412.6109671933066" y1="98.7" x2="412.6109671933066" y2="97.5" stroke="#999" stroke-width="0.5"/><line x1="414.91336040545957" y1="98.7" x2="414.91336040545957" y2="97.5" stroke="#999" stroke-width="0.5"/><line x1="416.5469343866131" y1="98.7" x2="416.5469343866131" y2="97.5" stroke="#999" stroke-width="0.5"/><line x1="417.81403280669343" y1="98.7" x2="417.81403280669343" y2="97.5" stroke="#999" stroke-width="0.5"/><line x1="418.84932759876614" y1="98.7" x2="418.84932759876614" y2="97.5" stroke="#999" stroke-width="0.5"/><line x1="419.7246568731864" y1="98.7" x2="419.7246568731864" y2="97.5" stroke="#999" stroke-width="0.5"/><line x1="420.48290157991966" y1="98.7" x2="420.48290157991966" y2="97.5" stroke="#999" stroke-width="0.5"/><line x1="421.1517208109192" y1="98.7" x2="421.1517208109192" y2="97.5" stroke="#999" stroke-width="0.5"/><line x1="425.68596719330657" y1="98.7" x2="425.68596719330657" y2="97.5" stroke="#999" stroke-width="0.5"/><line x1="427.98836040545956" y1="98.7" x2="427.98836040545956" y2="97.5" stroke="#999" stroke-width="0.5"/><line x1="429.6219343866131" y1="98.7" x2="429.6219343866131" y2="97.5" stroke="#999" stroke-width="0.5"/><line x1="430.8890328066934" y1="98.7" x2="430.8890328066934" y2="97.5" stroke="#999" stroke-width="0.5"/><line x1="431.9243275987661" y1="98.7" x2="431.9243275987661" y2="97.5" stroke="#999" stroke-width="0.5"/><line x1="432.7996568731864" y1="98.7" x2="432.7996568731864" y2="97.5" stroke="#999" stroke-width="0.5"/><line x1="433.55790157991964" y1="98.7" x2="433.55790157991964" y2="97.5" stroke="#999" stroke-width="0.5"/><line x1="434.2267208109192" y1="98.7" x2="434.2267208109192" y2="97.5" stroke="#999" stroke-width="0.5"/><line x1="438.76096719330656" y1="98.7" x2="438.76096719330656" y2="97.5" stroke="#999" stroke-width="0.5"/><line x1="441.06336040545955" y1="98.7" x2="441.06336040545955" y2="97.5" stroke="#999" stroke-width="0.5"/><line x1="442.69693438661307" y1="98.7" x2="442.69693438661307" y2="97.5" stroke="#999" stroke-width="0.5"/><line x1="443.9640328066934" y1="98.7" x2="443.9640328066934" y2="97.5" stroke="#999" stroke-width="0.5"/><line x1="444.9993275987661" y1="98.7" x2="444.9993275987661" y2="97.5" stroke="#999" stroke-width="0.5"/><line x1="445.8746568731864" y1="98.7" x2="445.8746568731864" y2="97.5" stroke="#999" stroke-width="0.5"/><line x1="446.63290157991963" y1="98.7" x2="446.63290157991963" y2="97.5" stroke="#999" stroke-width="0.5"/><line x1="447.30172081091916" y1="98.7" x2="447.30172081091916" y2="97.5" stroke="#999" stroke-width="0.5"/><rect x="456.4" y="46.4" width="53.10000000000002" height="52.300000000000004" stroke="#b9b9b9" fill="none" stroke-width="1.3"/><line x1="456.4" y1="46.4" x2="456.4" y2="98.7" stroke="#a6a6a6" stroke-width="1.2"/><line x1="455.79999999999995" y1="98.7" x2="510.1" y2="98.7" stroke="#9a9a9a" stroke-width="1.4"/><line x1="456.4" y1="94.76403280669345" x2="457.59999999999997" y2="94.76403280669345" stroke="#999" stroke-width="0.5"/><line x1="456.4" y1="92.46163959454042" x2="457.59999999999997" y2="92.46163959454042" stroke="#999" stroke-width="0.5"/><line x1="456.4" y1="90.8280656133869" x2="457.59999999999997" y2="90.8280656133869" stroke="#999" stroke-width="0.5"/><line x1="456.4" y1="89.56096719330655" x2="457.59999999999997" y2="89.56096719330655" stroke="#999" stroke-width="0.5"/><line x1="456.4" y1="88.52567240123386" x2="457.59999999999997" y2="88.52567240123386" stroke="#999" stroke-width="0.5"/><line x1="456.4" y1="87.6503431268136" x2="457.59999999999997" y2="87.6503431268136" stroke="#999" stroke-width="0.5"/><line x1="456.4" y1="86.89209842008034" x2="457.59999999999997" y2="86.89209842008034" stroke="#999" stroke-width="0.5"/><line x1="456.4" y1="86.22327918908083" x2="457.59999999999997" y2="86.22327918908083" stroke="#999" stroke-width="0.5"/><line x1="456.4" y1="81.68903280669345" x2="457.59999999999997" y2="81.68903280669345" stroke="#999" stroke-width="0.5"/><line x1="456.4" y1="79.38663959454041" x2="457.59999999999997" y2="79.38663959454041" stroke="#999" stroke-width="0.5"/><line x1="456.4" y1="77.7530656133869" x2="457.59999999999997" y2="77.7530656133869" stroke="#999" stroke-width="0.5"/><line x1="456.4" y1="76.48596719330655" x2="457.59999999999997" y2="76.48596719330655" stroke="#999" stroke-width="0.5"/><line x1="456.4" y1="75.45067240123386" x2="457.59999999999997" y2="75.45067240123386" stroke="#999" stroke-width="0.5"/><line x1="456.4" y1="74.57534312681359" x2="457.59999999999997" y2="74.57534312681359" stroke="#999" stroke-width="0.5"/><line x1="456.4" y1="73.81709842008034" x2="457.59999999999997" y2="73.81709842008034" stroke="#999" stroke-width="0.5"/><line x1="456.4" y1="73.14827918908082" x2="457.59999999999997" y2="73.14827918908082" stroke="#999" stroke-width="0.5"/><line x1="456.4" y1="68.61403280669344" x2="457.59999999999997" y2="68.61403280669344" stroke="#999" stroke-width="0.5"/><line x1="456.4" y1="66.31163959454041" x2="457.59999999999997" y2="66.31163959454041" stroke="#999" stroke-width="0.5"/><line x1="456.4" y1="64.67806561338689" x2="457.59999999999997" y2="64.67806561338689" stroke="#999" stroke-width="0.5"/><line x1="456.4" y1="63.41096719330655" x2="457.59999999999997" y2="63.41096719330655" stroke="#999" stroke-width="0.5"/><line x1="456.4" y1="62.37567240123386" x2="457.59999999999997" y2="62.37567240123386" stroke="#999" stroke-width="0.5"/><line x1="456.4" y1="61.50034312681359" x2="457.59999999999997" y2="61.50034312681359" stroke="#999" stroke-width="0.5"/><line x1="456.4" y1="60.74209842008033" x2="457.59999999999997" y2="60.74209842008033" stroke="#999" stroke-width="0.5"/><line x1="456.4" y1="60.07327918908082" x2="457.59999999999997" y2="60.07327918908082" stroke="#999" stroke-width="0.5"/><line x1="456.4" y1="55.53903280669345" x2="457.59999999999997" y2="55.53903280669345" stroke="#999" stroke-width="0.5"/><line x1="456.4" y1="53.236639594540414" x2="457.59999999999997" y2="53.236639594540414" stroke="#999" stroke-width="0.5"/><line x1="456.4" y1="51.60306561338689" x2="457.59999999999997" y2="51.60306561338689" stroke="#999" stroke-width="0.5"/><line x1="456.4" y1="50.33596719330656" x2="457.59999999999997" y2="50.33596719330656" stroke="#999" stroke-width="0.5"/><line x1="456.4" y1="49.30067240123386" x2="457.59999999999997" y2="49.30067240123386" stroke="#999" stroke-width="0.5"/><line x1="456.4" y1="48.425343126813594" x2="457.59999999999997" y2="48.425343126813594" stroke="#999" stroke-width="0.5"/><line x1="456.4" y1="47.667098420080336" x2="457.59999999999997" y2="47.667098420080336" stroke="#999" stroke-width="0.5"/><line x1="456.4" y1="46.998279189080826" x2="457.59999999999997" y2="46.998279189080826" stroke="#999" stroke-width="0.5"/><line x1="460.39617319243933" y1="98.7" x2="460.39617319243933" y2="97.5" stroke="#999" stroke-width="0.5"/><line x1="462.7337846564035" y1="98.7" x2="462.7337846564035" y2="97.5" stroke="#999" stroke-width="0.5"/><line x1="464.3923463848787" y1="98.7" x2="464.3923463848787" y2="97.5" stroke="#999" stroke-width="0.5"/><line x1="465.67882680756065" y1="98.7" x2="465.67882680756065" y2="97.5" stroke="#999" stroke-width="0.5"/><line x1="466.72995784884284" y1="98.7" x2="466.72995784884284" y2="97.5" stroke="#999" stroke-width="0.5"/><line x1="467.61867648118925" y1="98.7" x2="467.61867648118925" y2="97.5" stroke="#999" stroke-width="0.5"/><line x1="468.38851957731805" y1="98.7" x2="468.38851957731805" y2="97.5" stroke="#999" stroke-width="0.5"/><line x1="469.067569312807" y1="98.7" x2="469.067569312807" y2="97.5" stroke="#999" stroke-width="0.5"/><line x1="473.6711731924393" y1="98.7" x2="473.6711731924393" y2="97.5" stroke="#999" stroke-width="0.5"/><line x1="476.00878465640346" y1="98.7" x2="476.00878465640346" y2="97.5" stroke="#999" stroke-width="0.5"/><line x1="477.66734638487867" y1="98.7" x2="477.66734638487867" y2="97.5" stroke="#999" stroke-width="0.5"/><line x1="478.95382680756063" y1="98.7" x2="478.95382680756063" y2="97.5" stroke="#999" stroke-width="0.5"/><line x1="480.0049578488428" y1="98.7" x2="480.0049578488428" y2="97.5" stroke="#999" stroke-width="0.5"/><line x1="480.89367648118923" y1="98.7" x2="480.89367648118923" y2="97.5" stroke="#999" stroke-width="0.5"/><line x1="481.663519577318" y1="98.7" x2="481.663519577318" y2="97.5" stroke="#999" stroke-width="0.5"/><line x1="482.342569312807" y1="98.7" x2="482.342569312807" y2="97.5" stroke="#999" stroke-width="0.5"/><line x1="486.94617319243935" y1="98.7" x2="486.94617319243935" y2="97.5" stroke="#999" stroke-width="0.5"/><line x1="489.2837846564035" y1="98.7" x2="489.2837846564035" y2="97.5" stroke="#999" stroke-width="0.5"/><line x1="490.9423463848787" y1="98.7" x2="490.9423463848787" y2="97.5" stroke="#999" stroke-width="0.5"/><line x1="492.22882680756067" y1="98.7" x2="492.22882680756067" y2="97.5" stroke="#999" stroke-width="0.5"/><line x1="493.27995784884286" y1="98.7" x2="493.27995784884286" y2="97.5" stroke="#999" stroke-width="0.5"/><line x1="494.16867648118927" y1="98.7" x2="494.16867648118927" y2="97.5" stroke="#999" stroke-width="0.5"/><line x1="494.93851957731806" y1="98.7" x2="494.93851957731806" y2="97.5" stroke="#999" stroke-width="0.5"/><line x1="495.617569312807" y1="98.7" x2="495.617569312807" y2="97.5" stroke="#999" stroke-width="0.5"/><line x1="500.2211731924394" y1="98.7" x2="500.2211731924394" y2="97.5" stroke="#999" stroke-width="0.5"/><line x1="502.55878465640353" y1="98.7" x2="502.55878465640353" y2="97.5" stroke="#999" stroke-width="0.5"/><line x1="504.21734638487874" y1="98.7" x2="504.21734638487874" y2="97.5" stroke="#999" stroke-width="0.5"/><line x1="505.5038268075607" y1="98.7" x2="505.5038268075607" y2="97.5" stroke="#999" stroke-width="0.5"/><line x1="506.5549578488429" y1="98.7" x2="506.5549578488429" y2="97.5" stroke="#999" stroke-width="0.5"/><line x1="507.4436764811893" y1="98.7" x2="507.4436764811893" y2="97.5" stroke="#999" stroke-width="0.5"/><line x1="508.2135195773181" y1="98.7" x2="508.2135195773181" y2="97.5" stroke="#999" stroke-width="0.5"/><line x1="508.89256931280704" y1="98.7" x2="508.89256931280704" y2="97.5" stroke="#999" stroke-width="0.5"/><rect x="329.5" y="115.3" width="53.10000000000002" height="52.500000000000014" stroke="#b9b9b9" fill="none" stroke-width="1.3"/><line x1="329.5" y1="115.3" x2="329.5" y2="167.8" stroke="#a6a6a6" stroke-width="1.2"/><line x1="328.9" y1="167.8" x2="383.20000000000005" y2="167.8" stroke="#9a9a9a" stroke-width="1.4"/><line x1="329.5" y1="163.84898130691025" x2="330.7" y2="163.84898130691025" stroke="#999" stroke-width="0.5"/><line x1="329.5" y1="161.53778353180445" x2="330.7" y2="161.53778353180445" stroke="#999" stroke-width="0.5"/><line x1="329.5" y1="159.8979626138205" x2="330.7" y2="159.8979626138205" stroke="#999" stroke-width="0.5"/><line x1="329.5" y1="158.62601869308975" x2="330.7" y2="158.62601869308975" stroke="#999" stroke-width="0.5"/><line x1="329.5" y1="157.58676483871469" x2="330.7" y2="157.58676483871469" stroke="#999" stroke-width="0.5"/><line x1="329.5" y1="156.70808822481288" x2="330.7" y2="156.70808822481288" stroke="#999" stroke-width="0.5"/><line x1="329.5" y1="155.94694392073075" x2="330.7" y2="155.94694392073075" stroke="#999" stroke-width="0.5"/><line x1="329.5" y1="155.27556706360886" x2="330.7" y2="155.27556706360886" stroke="#999" stroke-width="0.5"/><line x1="329.5" y1="150.72398130691025" x2="330.7" y2="150.72398130691025" stroke="#999" stroke-width="0.5"/><line x1="329.5" y1="148.41278353180445" x2="330.7" y2="148.41278353180445" stroke="#999" stroke-width="0.5"/><line x1="329.5" y1="146.7729626138205" x2="330.7" y2="146.7729626138205" stroke="#999" stroke-width="0.5"/><line x1="329.5" y1="145.50101869308975" x2="330.7" y2="145.50101869308975" stroke="#999" stroke-width="0.5"/><line x1="329.5" y1="144.46176483871469" x2="330.7" y2="144.46176483871469" stroke="#999" stroke-width="0.5"/><line x1="329.5" y1="143.58308822481288" x2="330.7" y2="143.58308822481288" stroke="#999" stroke-width="0.5"/><line x1="329.5" y1="142.82194392073075" x2="330.7" y2="142.82194392073075" stroke="#999" stroke-width="0.5"/><line x1="329.5" y1="142.15056706360886" x2="330.7" y2="142.15056706360886" stroke="#999" stroke-width="0.5"/><line x1="329.5" y1="137.59898130691025" x2="330.7" y2="137.59898130691025" stroke="#999" stroke-width="0.5"/><line x1="329.5" y1="135.28778353180445" x2="330.7" y2="135.28778353180445" stroke="#999" stroke-width="0.5"/><line x1="329.5" y1="133.6479626138205" x2="330.7" y2="133.6479626138205" stroke="#999" stroke-width="0.5"/><line x1="329.5" y1="132.37601869308975" x2="330.7" y2="132.37601869308975" stroke="#999" stroke-width="0.5"/><line x1="329.5" y1="131.33676483871469" x2="330.7" y2="131.33676483871469" stroke="#999" stroke-width="0.5"/><line x1="329.5" y1="130.45808822481288" x2="330.7" y2="130.45808822481288" stroke="#999" stroke-width="0.5"/><line x1="329.5" y1="129.69694392073075" x2="330.7" y2="129.69694392073075" stroke="#999" stroke-width="0.5"/><line x1="329.5" y1="129.02556706360886" x2="330.7" y2="129.02556706360886" stroke="#999" stroke-width="0.5"/><line x1="329.5" y1="124.47398130691026" x2="330.7" y2="124.47398130691026" stroke="#999" stroke-width="0.5"/><line x1="329.5" y1="122.16278353180444" x2="330.7" y2="122.16278353180444" stroke="#999" stroke-width="0.5"/><line x1="329.5" y1="120.5229626138205" x2="330.7" y2="120.5229626138205" stroke="#999" stroke-width="0.5"/><line x1="329.5" y1="119.25101869308976" x2="330.7" y2="119.25101869308976" stroke="#999" stroke-width="0.5"/><line x1="329.5" y1="118.21176483871469" x2="330.7" y2="118.21176483871469" stroke="#999" stroke-width="0.5"/><line x1="329.5" y1="117.33308822481288" x2="330.7" y2="117.33308822481288" stroke="#999" stroke-width="0.5"/><line x1="329.5" y1="116.57194392073075" x2="330.7" y2="116.57194392073075" stroke="#999" stroke-width="0.5"/><line x1="329.5" y1="115.90056706360888" x2="330.7" y2="115.90056706360888" stroke="#999" stroke-width="0.5"/><line x1="333.49617319243936" y1="167.8" x2="333.49617319243936" y2="166.60000000000002" stroke="#999" stroke-width="0.5"/><line x1="335.8337846564035" y1="167.8" x2="335.8337846564035" y2="166.60000000000002" stroke="#999" stroke-width="0.5"/><line x1="337.4923463848787" y1="167.8" x2="337.4923463848787" y2="166.60000000000002" stroke="#999" stroke-width="0.5"/><line x1="338.7788268075607" y1="167.8" x2="338.7788268075607" y2="166.60000000000002" stroke="#999" stroke-width="0.5"/><line x1="339.82995784884287" y1="167.8" x2="339.82995784884287" y2="166.60000000000002" stroke="#999" stroke-width="0.5"/><line x1="340.7186764811893" y1="167.8" x2="340.7186764811893" y2="166.60000000000002" stroke="#999" stroke-width="0.5"/><line x1="341.4885195773181" y1="167.8" x2="341.4885195773181" y2="166.60000000000002" stroke="#999" stroke-width="0.5"/><line x1="342.167569312807" y1="167.8" x2="342.167569312807" y2="166.60000000000002" stroke="#999" stroke-width="0.5"/><line x1="346.77117319243933" y1="167.8" x2="346.77117319243933" y2="166.60000000000002" stroke="#999" stroke-width="0.5"/><line x1="349.1087846564035" y1="167.8" x2="349.1087846564035" y2="166.60000000000002" stroke="#999" stroke-width="0.5"/><line x1="350.7673463848787" y1="167.8" x2="350.7673463848787" y2="166.60000000000002" stroke="#999" stroke-width="0.5"/><line x1="352.05382680756065" y1="167.8" x2="352.05382680756065" y2="166.60000000000002" stroke="#999" stroke-width="0.5"/><line x1="353.10495784884284" y1="167.8" x2="353.10495784884284" y2="166.60000000000002" stroke="#999" stroke-width="0.5"/><line x1="353.99367648118925" y1="167.8" x2="353.99367648118925" y2="166.60000000000002" stroke="#999" stroke-width="0.5"/><line x1="354.76351957731805" y1="167.8" x2="354.76351957731805" y2="166.60000000000002" stroke="#999" stroke-width="0.5"/><line x1="355.442569312807" y1="167.8" x2="355.442569312807" y2="166.60000000000002" stroke="#999" stroke-width="0.5"/><line x1="360.04617319243937" y1="167.8" x2="360.04617319243937" y2="166.60000000000002" stroke="#999" stroke-width="0.5"/><line x1="362.3837846564035" y1="167.8" x2="362.3837846564035" y2="166.60000000000002" stroke="#999" stroke-width="0.5"/><line x1="364.0423463848787" y1="167.8" x2="364.0423463848787" y2="166.60000000000002" stroke="#999" stroke-width="0.5"/><line x1="365.3288268075607" y1="167.8" x2="365.3288268075607" y2="166.60000000000002" stroke="#999" stroke-width="0.5"/><line x1="366.3799578488429" y1="167.8" x2="366.3799578488429" y2="166.60000000000002" stroke="#999" stroke-width="0.5"/><line x1="367.2686764811893" y1="167.8" x2="367.2686764811893" y2="166.60000000000002" stroke="#999" stroke-width="0.5"/><line x1="368.0385195773181" y1="167.8" x2="368.0385195773181" y2="166.60000000000002" stroke="#999" stroke-width="0.5"/><line x1="368.71756931280703" y1="167.8" x2="368.71756931280703" y2="166.60000000000002" stroke="#999" stroke-width="0.5"/><line x1="373.3211731924394" y1="167.8" x2="373.3211731924394" y2="166.60000000000002" stroke="#999" stroke-width="0.5"/><line x1="375.65878465640355" y1="167.8" x2="375.65878465640355" y2="166.60000000000002" stroke="#999" stroke-width="0.5"/><line x1="377.31734638487876" y1="167.8" x2="377.31734638487876" y2="166.60000000000002" stroke="#999" stroke-width="0.5"/><line x1="378.6038268075607" y1="167.8" x2="378.6038268075607" y2="166.60000000000002" stroke="#999" stroke-width="0.5"/><line x1="379.6549578488429" y1="167.8" x2="379.6549578488429" y2="166.60000000000002" stroke="#999" stroke-width="0.5"/><line x1="380.5436764811893" y1="167.8" x2="380.5436764811893" y2="166.60000000000002" stroke="#999" stroke-width="0.5"/><line x1="381.3135195773181" y1="167.8" x2="381.3135195773181" y2="166.60000000000002" stroke="#999" stroke-width="0.5"/><line x1="381.99256931280706" y1="167.8" x2="381.99256931280706" y2="166.60000000000002" stroke="#999" stroke-width="0.5"/><rect x="395.6" y="115.3" width="52.299999999999955" height="52.500000000000014" stroke="#b9b9b9" fill="none" stroke-width="1.3"/><line x1="395.6" y1="115.3" x2="395.6" y2="167.8" stroke="#a6a6a6" stroke-width="1.2"/><line x1="395.0" y1="167.8" x2="448.5" y2="167.8" stroke="#9a9a9a" stroke-width="1.4"/><line x1="395.6" y1="163.84898130691025" x2="396.8" y2="163.84898130691025" stroke="#999" stroke-width="0.5"/><line x1="395.6" y1="161.53778353180445" x2="396.8" y2="161.53778353180445" stroke="#999" stroke-width="0.5"/><line x1="395.6" y1="159.8979626138205" x2="396.8" y2="159.8979626138205" stroke="#999" stroke-width="0.5"/><line x1="395.6" y1="158.62601869308975" x2="396.8" y2="158.62601869308975" stroke="#999" stroke-width="0.5"/><line x1="395.6" y1="157.58676483871469" x2="396.8" y2="157.58676483871469" stroke="#999" stroke-width="0.5"/><line x1="395.6" y1="156.70808822481288" x2="396.8" y2="156.70808822481288" stroke="#999" stroke-width="0.5"/><line x1="395.6" y1="155.94694392073075" x2="396.8" y2="155.94694392073075" stroke="#999" stroke-width="0.5"/><line x1="395.6" y1="155.27556706360886" x2="396.8" y2="155.27556706360886" stroke="#999" stroke-width="0.5"/><line x1="395.6" y1="150.72398130691025" x2="396.8" y2="150.72398130691025" stroke="#999" stroke-width="0.5"/><line x1="395.6" y1="148.41278353180445" x2="396.8" y2="148.41278353180445" stroke="#999" stroke-width="0.5"/><line x1="395.6" y1="146.7729626138205" x2="396.8" y2="146.7729626138205" stroke="#999" stroke-width="0.5"/><line x1="395.6" y1="145.50101869308975" x2="396.8" y2="145.50101869308975" stroke="#999" stroke-width="0.5"/><line x1="395.6" y1="144.46176483871469" x2="396.8" y2="144.46176483871469" stroke="#999" stroke-width="0.5"/><line x1="395.6" y1="143.58308822481288" x2="396.8" y2="143.58308822481288" stroke="#999" stroke-width="0.5"/><line x1="395.6" y1="142.82194392073075" x2="396.8" y2="142.82194392073075" stroke="#999" stroke-width="0.5"/><line x1="395.6" y1="142.15056706360886" x2="396.8" y2="142.15056706360886" stroke="#999" stroke-width="0.5"/><line x1="395.6" y1="137.59898130691025" x2="396.8" y2="137.59898130691025" stroke="#999" stroke-width="0.5"/><line x1="395.6" y1="135.28778353180445" x2="396.8" y2="135.28778353180445" stroke="#999" stroke-width="0.5"/><line x1="395.6" y1="133.6479626138205" x2="396.8" y2="133.6479626138205" stroke="#999" stroke-width="0.5"/><line x1="395.6" y1="132.37601869308975" x2="396.8" y2="132.37601869308975" stroke="#999" stroke-width="0.5"/><line x1="395.6" y1="131.33676483871469" x2="396.8" y2="131.33676483871469" stroke="#999" stroke-width="0.5"/><line x1="395.6" y1="130.45808822481288" x2="396.8" y2="130.45808822481288" stroke="#999" stroke-width="0.5"/><line x1="395.6" y1="129.69694392073075" x2="396.8" y2="129.69694392073075" stroke="#999" stroke-width="0.5"/><line x1="395.6" y1="129.02556706360886" x2="396.8" y2="129.02556706360886" stroke="#999" stroke-width="0.5"/><line x1="395.6" y1="124.47398130691026" x2="396.8" y2="124.47398130691026" stroke="#999" stroke-width="0.5"/><line x1="395.6" y1="122.16278353180444" x2="396.8" y2="122.16278353180444" stroke="#999" stroke-width="0.5"/><line x1="395.6" y1="120.5229626138205" x2="396.8" y2="120.5229626138205" stroke="#999" stroke-width="0.5"/><line x1="395.6" y1="119.25101869308976" x2="396.8" y2="119.25101869308976" stroke="#999" stroke-width="0.5"/><line x1="395.6" y1="118.21176483871469" x2="396.8" y2="118.21176483871469" stroke="#999" stroke-width="0.5"/><line x1="395.6" y1="117.33308822481288" x2="396.8" y2="117.33308822481288" stroke="#999" stroke-width="0.5"/><line x1="395.6" y1="116.57194392073075" x2="396.8" y2="116.57194392073075" stroke="#999" stroke-width="0.5"/><line x1="395.6" y1="115.90056706360888" x2="396.8" y2="115.90056706360888" stroke="#999" stroke-width="0.5"/><line x1="399.5359671933066" y1="167.8" x2="399.5359671933066" y2="166.60000000000002" stroke="#999" stroke-width="0.5"/><line x1="401.8383604054596" y1="167.8" x2="401.8383604054596" y2="166.60000000000002" stroke="#999" stroke-width="0.5"/><line x1="403.4719343866131" y1="167.8" x2="403.4719343866131" y2="166.60000000000002" stroke="#999" stroke-width="0.5"/><line x1="404.73903280669344" y1="167.8" x2="404.73903280669344" y2="166.60000000000002" stroke="#999" stroke-width="0.5"/><line x1="405.77432759876615" y1="167.8" x2="405.77432759876615" y2="166.60000000000002" stroke="#999" stroke-width="0.5"/><line x1="406.6496568731864" y1="167.8" x2="406.6496568731864" y2="166.60000000000002" stroke="#999" stroke-width="0.5"/><line x1="407.40790157991967" y1="167.8" x2="407.40790157991967" y2="166.60000000000002" stroke="#999" stroke-width="0.5"/><line x1="408.0767208109192" y1="167.8" x2="408.0767208109192" y2="166.60000000000002" stroke="#999" stroke-width="0.5"/><line x1="412.6109671933066" y1="167.8" x2="412.6109671933066" y2="166.60000000000002" stroke="#999" stroke-width="0.5"/><line x1="414.91336040545957" y1="167.8" x2="414.91336040545957" y2="166.60000000000002" stroke="#999" stroke-width="0.5"/><line x1="416.5469343866131" y1="167.8" x2="416.5469343866131" y2="166.60000000000002" stroke="#999" stroke-width="0.5"/><line x1="417.81403280669343" y1="167.8" x2="417.81403280669343" y2="166.60000000000002" stroke="#999" stroke-width="0.5"/><line x1="418.84932759876614" y1="167.8" x2="418.84932759876614" y2="166.60000000000002" stroke="#999" stroke-width="0.5"/><line x1="419.7246568731864" y1="167.8" x2="419.7246568731864" y2="166.60000000000002" stroke="#999" stroke-width="0.5"/><line x1="420.48290157991966" y1="167.8" x2="420.48290157991966" y2="166.60000000000002" stroke="#999" stroke-width="0.5"/><line x1="421.1517208109192" y1="167.8" x2="421.1517208109192" y2="166.60000000000002" stroke="#999" stroke-width="0.5"/><line x1="425.68596719330657" y1="167.8" x2="425.68596719330657" y2="166.60000000000002" stroke="#999" stroke-width="0.5"/><line x1="427.98836040545956" y1="167.8" x2="427.98836040545956" y2="166.60000000000002" stroke="#999" stroke-width="0.5"/><line x1="429.6219343866131" y1="167.8" x2="429.6219343866131" y2="166.60000000000002" stroke="#999" stroke-width="0.5"/><line x1="430.8890328066934" y1="167.8" x2="430.8890328066934" y2="166.60000000000002" stroke="#999" stroke-width="0.5"/><line x1="431.9243275987661" y1="167.8" x2="431.9243275987661" y2="166.60000000000002" stroke="#999" stroke-width="0.5"/><line x1="432.7996568731864" y1="167.8" x2="432.7996568731864" y2="166.60000000000002" stroke="#999" stroke-width="0.5"/><line x1="433.55790157991964" y1="167.8" x2="433.55790157991964" y2="166.60000000000002" stroke="#999" stroke-width="0.5"/><line x1="434.2267208109192" y1="167.8" x2="434.2267208109192" y2="166.60000000000002" stroke="#999" stroke-width="0.5"/><line x1="438.76096719330656" y1="167.8" x2="438.76096719330656" y2="166.60000000000002" stroke="#999" stroke-width="0.5"/><line x1="441.06336040545955" y1="167.8" x2="441.06336040545955" y2="166.60000000000002" stroke="#999" stroke-width="0.5"/><line x1="442.69693438661307" y1="167.8" x2="442.69693438661307" y2="166.60000000000002" stroke="#999" stroke-width="0.5"/><line x1="443.9640328066934" y1="167.8" x2="443.9640328066934" y2="166.60000000000002" stroke="#999" stroke-width="0.5"/><line x1="444.9993275987661" y1="167.8" x2="444.9993275987661" y2="166.60000000000002" stroke="#999" stroke-width="0.5"/><line x1="445.8746568731864" y1="167.8" x2="445.8746568731864" y2="166.60000000000002" stroke="#999" stroke-width="0.5"/><line x1="446.63290157991963" y1="167.8" x2="446.63290157991963" y2="166.60000000000002" stroke="#999" stroke-width="0.5"/><line x1="447.30172081091916" y1="167.8" x2="447.30172081091916" y2="166.60000000000002" stroke="#999" stroke-width="0.5"/><rect x="456.6" y="115.3" width="52.89999999999998" height="52.500000000000014" stroke="#b9b9b9" fill="none" stroke-width="1.3"/><line x1="456.6" y1="115.3" x2="456.6" y2="167.8" stroke="#a6a6a6" stroke-width="1.2"/><line x1="456.0" y1="167.8" x2="510.1" y2="167.8" stroke="#9a9a9a" stroke-width="1.4"/><line x1="456.6" y1="163.84898130691025" x2="457.8" y2="163.84898130691025" stroke="#999" stroke-width="0.5"/><line x1="456.6" y1="161.53778353180445" x2="457.8" y2="161.53778353180445" stroke="#999" stroke-width="0.5"/><line x1="456.6" y1="159.8979626138205" x2="457.8" y2="159.8979626138205" stroke="#999" stroke-width="0.5"/><line x1="456.6" y1="158.62601869308975" x2="457.8" y2="158.62601869308975" stroke="#999" stroke-width="0.5"/><line x1="456.6" y1="157.58676483871469" x2="457.8" y2="157.58676483871469" stroke="#999" stroke-width="0.5"/><line x1="456.6" y1="156.70808822481288" x2="457.8" y2="156.70808822481288" stroke="#999" stroke-width="0.5"/><line x1="456.6" y1="155.94694392073075" x2="457.8" y2="155.94694392073075" stroke="#999" stroke-width="0.5"/><line x1="456.6" y1="155.27556706360886" x2="457.8" y2="155.27556706360886" stroke="#999" stroke-width="0.5"/><line x1="456.6" y1="150.72398130691025" x2="457.8" y2="150.72398130691025" stroke="#999" stroke-width="0.5"/><line x1="456.6" y1="148.41278353180445" x2="457.8" y2="148.41278353180445" stroke="#999" stroke-width="0.5"/><line x1="456.6" y1="146.7729626138205" x2="457.8" y2="146.7729626138205" stroke="#999" stroke-width="0.5"/><line x1="456.6" y1="145.50101869308975" x2="457.8" y2="145.50101869308975" stroke="#999" stroke-width="0.5"/><line x1="456.6" y1="144.46176483871469" x2="457.8" y2="144.46176483871469" stroke="#999" stroke-width="0.5"/><line x1="456.6" y1="143.58308822481288" x2="457.8" y2="143.58308822481288" stroke="#999" stroke-width="0.5"/><line x1="456.6" y1="142.82194392073075" x2="457.8" y2="142.82194392073075" stroke="#999" stroke-width="0.5"/><line x1="456.6" y1="142.15056706360886" x2="457.8" y2="142.15056706360886" stroke="#999" stroke-width="0.5"/><line x1="456.6" y1="137.59898130691025" x2="457.8" y2="137.59898130691025" stroke="#999" stroke-width="0.5"/><line x1="456.6" y1="135.28778353180445" x2="457.8" y2="135.28778353180445" stroke="#999" stroke-width="0.5"/><line x1="456.6" y1="133.6479626138205" x2="457.8" y2="133.6479626138205" stroke="#999" stroke-width="0.5"/><line x1="456.6" y1="132.37601869308975" x2="457.8" y2="132.37601869308975" stroke="#999" stroke-width="0.5"/><line x1="456.6" y1="131.33676483871469" x2="457.8" y2="131.33676483871469" stroke="#999" stroke-width="0.5"/><line x1="456.6" y1="130.45808822481288" x2="457.8" y2="130.45808822481288" stroke="#999" stroke-width="0.5"/><line x1="456.6" y1="129.69694392073075" x2="457.8" y2="129.69694392073075" stroke="#999" stroke-width="0.5"/><line x1="456.6" y1="129.02556706360886" x2="457.8" y2="129.02556706360886" stroke="#999" stroke-width="0.5"/><line x1="456.6" y1="124.47398130691026" x2="457.8" y2="124.47398130691026" stroke="#999" stroke-width="0.5"/><line x1="456.6" y1="122.16278353180444" x2="457.8" y2="122.16278353180444" stroke="#999" stroke-width="0.5"/><line x1="456.6" y1="120.5229626138205" x2="457.8" y2="120.5229626138205" stroke="#999" stroke-width="0.5"/><line x1="456.6" y1="119.25101869308976" x2="457.8" y2="119.25101869308976" stroke="#999" stroke-width="0.5"/><line x1="456.6" y1="118.21176483871469" x2="457.8" y2="118.21176483871469" stroke="#999" stroke-width="0.5"/><line x1="456.6" y1="117.33308822481288" x2="457.8" y2="117.33308822481288" stroke="#999" stroke-width="0.5"/><line x1="456.6" y1="116.57194392073075" x2="457.8" y2="116.57194392073075" stroke="#999" stroke-width="0.5"/><line x1="456.6" y1="115.90056706360888" x2="457.8" y2="115.90056706360888" stroke="#999" stroke-width="0.5"/><line x1="460.58112169265615" y1="167.8" x2="460.58112169265615" y2="166.60000000000002" stroke="#999" stroke-width="0.5"/><line x1="462.90992859366753" y1="167.8" x2="462.90992859366753" y2="166.60000000000002" stroke="#999" stroke-width="0.5"/><line x1="464.56224338531234" y1="167.8" x2="464.56224338531234" y2="166.60000000000002" stroke="#999" stroke-width="0.5"/><line x1="465.84387830734386" y1="167.8" x2="465.84387830734386" y2="166.60000000000002" stroke="#999" stroke-width="0.5"/><line x1="466.8910502863237" y1="167.8" x2="466.8910502863237" y2="166.60000000000002" stroke="#999" stroke-width="0.5"/><line x1="467.77642157918854" y1="167.8" x2="467.77642157918854" y2="166.60000000000002" stroke="#999" stroke-width="0.5"/><line x1="468.5433650779685" y1="167.8" x2="468.5433650779685" y2="166.60000000000002" stroke="#999" stroke-width="0.5"/><line x1="469.2198571873351" y1="167.8" x2="469.2198571873351" y2="166.60000000000002" stroke="#999" stroke-width="0.5"/><line x1="473.8061216926562" y1="167.8" x2="473.8061216926562" y2="166.60000000000002" stroke="#999" stroke-width="0.5"/><line x1="476.13492859366755" y1="167.8" x2="476.13492859366755" y2="166.60000000000002" stroke="#999" stroke-width="0.5"/><line x1="477.78724338531237" y1="167.8" x2="477.78724338531237" y2="166.60000000000002" stroke="#999" stroke-width="0.5"/><line x1="479.0688783073439" y1="167.8" x2="479.0688783073439" y2="166.60000000000002" stroke="#999" stroke-width="0.5"/><line x1="480.11605028632374" y1="167.8" x2="480.11605028632374" y2="166.60000000000002" stroke="#999" stroke-width="0.5"/><line x1="481.00142157918856" y1="167.8" x2="481.00142157918856" y2="166.60000000000002" stroke="#999" stroke-width="0.5"/><line x1="481.7683650779685" y1="167.8" x2="481.7683650779685" y2="166.60000000000002" stroke="#999" stroke-width="0.5"/><line x1="482.4448571873351" y1="167.8" x2="482.4448571873351" y2="166.60000000000002" stroke="#999" stroke-width="0.5"/><line x1="487.03112169265614" y1="167.8" x2="487.03112169265614" y2="166.60000000000002" stroke="#999" stroke-width="0.5"/><line x1="489.3599285936675" y1="167.8" x2="489.3599285936675" y2="166.60000000000002" stroke="#999" stroke-width="0.5"/><line x1="491.01224338531233" y1="167.8" x2="491.01224338531233" y2="166.60000000000002" stroke="#999" stroke-width="0.5"/><line x1="492.29387830734385" y1="167.8" x2="492.29387830734385" y2="166.60000000000002" stroke="#999" stroke-width="0.5"/><line x1="493.3410502863237" y1="167.8" x2="493.3410502863237" y2="166.60000000000002" stroke="#999" stroke-width="0.5"/><line x1="494.2264215791886" y1="167.8" x2="494.2264215791886" y2="166.60000000000002" stroke="#999" stroke-width="0.5"/><line x1="494.99336507796846" y1="167.8" x2="494.99336507796846" y2="166.60000000000002" stroke="#999" stroke-width="0.5"/><line x1="495.6698571873351" y1="167.8" x2="495.6698571873351" y2="166.60000000000002" stroke="#999" stroke-width="0.5"/><line x1="500.2561216926561" y1="167.8" x2="500.2561216926561" y2="166.60000000000002" stroke="#999" stroke-width="0.5"/><line x1="502.5849285936675" y1="167.8" x2="502.5849285936675" y2="166.60000000000002" stroke="#999" stroke-width="0.5"/><line x1="504.2372433853123" y1="167.8" x2="504.2372433853123" y2="166.60000000000002" stroke="#999" stroke-width="0.5"/><line x1="505.5188783073438" y1="167.8" x2="505.5188783073438" y2="166.60000000000002" stroke="#999" stroke-width="0.5"/><line x1="506.5660502863237" y1="167.8" x2="506.5660502863237" y2="166.60000000000002" stroke="#999" stroke-width="0.5"/><line x1="507.4514215791885" y1="167.8" x2="507.4514215791885" y2="166.60000000000002" stroke="#999" stroke-width="0.5"/><line x1="508.21836507796843" y1="167.8" x2="508.21836507796843" y2="166.60000000000002" stroke="#999" stroke-width="0.5"/><line x1="508.89485718733505" y1="167.8" x2="508.89485718733505" y2="166.60000000000002" stroke="#999" stroke-width="0.5"/><g fill="#666" opacity="0.7"><circle cx="361.3" cy="73.6" r="0.33"/><circle cx="362.8" cy="76.0" r="0.33"/><circle cx="364.8" cy="63.7" r="0.33"/><circle cx="373.8" cy="63.2" r="0.33"/><circle cx="362.7" cy="81.5" r="0.33"/><circle cx="362.5" cy="68.0" r="0.33"/><circle cx="368.8" cy="68.9" r="0.33"/><circle cx="357.6" cy="72.5" r="0.33"/><circle cx="358.6" cy="87.1" r="0.33"/><circle cx="360.8" cy="69.0" r="0.33"/><circle cx="364.0" cy="77.6" r="0.33"/><circle cx="361.8" cy="92.1" r="0.33"/><circle cx="373.3" cy="85.0" r="0.33"/><circle cx="361.0" cy="86.2" r="0.33"/><circle cx="365.5" cy="78.7" r="0.33"/><circle cx="364.4" cy="83.0" r="0.33"/><circle cx="374.1" cy="89.3" r="0.33"/><circle cx="364.9" cy="87.5" r="0.33"/><circle cx="376.5" cy="61.1" r="0.33"/><circle cx="376.6" cy="55.7" r="0.33"/><circle cx="370.1" cy="82.0" r="0.33"/><circle cx="376.7" cy="77.7" r="0.33"/><circle cx="362.9" cy="63.0" r="0.33"/><circle cx="357.5" cy="84.4" r="0.33"/><circle cx="364.6" cy="64.1" r="0.33"/><circle cx="370.0" cy="63.5" r="0.33"/><circle cx="363.2" cy="67.6" r="0.33"/><circle cx="377.9" cy="93.9" r="0.33"/><circle cx="368.2" cy="74.9" r="0.33"/><circle cx="368.7" cy="81.6" r="0.33"/><circle cx="364.1" cy="86.5" r="0.33"/><circle cx="372.2" cy="76.8" r="0.33"/><circle cx="363.5" cy="67.3" r="0.33"/><circle cx="371.1" cy="58.9" r="0.33"/><circle cx="365.2" cy="63.7" r="0.33"/><circle cx="356.5" cy="82.1" r="0.33"/><circle cx="366.1" cy="74.4" r="0.33"/><circle cx="372.4" cy="53.5" r="0.33"/><circle cx="365.8" cy="77.8" r="0.33"/><circle cx="372.1" cy="59.1" r="0.33"/><circle cx="371.3" cy="76.9" r="0.33"/><circle cx="375.8" cy="89.4" r="0.33"/><circle cx="366.3" cy="68.1" r="0.33"/><circle cx="363.9" cy="61.1" r="0.33"/><circle cx="365.7" cy="79.7" r="0.33"/><circle cx="373.2" cy="69.2" r="0.33"/><circle cx="376.0" cy="65.0" r="0.33"/><circle cx="361.0" cy="63.1" r="0.33"/><circle cx="376.5" cy="81.0" r="0.33"/><circle cx="358.8" cy="81.0" r="0.33"/><circle cx="369.6" cy="70.8" r="0.33"/><circle cx="366.5" cy="69.8" r="0.33"/><circle cx="365.7" cy="91.0" r="0.33"/><circle cx="376.1" cy="70.2" r="0.33"/><circle cx="361.2" cy="71.1" r="0.33"/><circle cx="372.4" cy="78.6" r="0.33"/><circle cx="362.3" cy="78.7" r="0.33"/><circle cx="364.9" cy="80.8" r="0.33"/><circle cx="363.5" cy="54.3" r="0.33"/><circle cx="366.7" cy="84.0" r="0.33"/><circle cx="358.7" cy="72.5" r="0.33"/><circle cx="372.3" cy="68.9" r="0.33"/><circle cx="372.0" cy="87.6" r="0.33"/><circle cx="359.8" cy="95.6" r="0.33"/><circle cx="355.0" cy="67.0" r="0.33"/><circle cx="371.3" cy="91.6" r="0.33"/><circle cx="360.0" cy="65.1" r="0.33"/><circle cx="370.7" cy="81.3" r="0.33"/><circle cx="363.3" cy="81.0" r="0.33"/><circle cx="371.6" cy="78.0" r="0.33"/><circle cx="369.9" cy="94.0" r="0.33"/><circle cx="363.1" cy="76.0" r="0.33"/><circle cx="362.7" cy="87.6" r="0.33"/><circle cx="363.5" cy="80.2" r="0.33"/><circle cx="367.2" cy="74.8" r="0.33"/><circle cx="377.9" cy="72.8" r="0.33"/><circle cx="375.9" cy="84.8" r="0.33"/><circle cx="375.2" cy="71.7" r="0.33"/><circle cx="372.6" cy="83.9" r="0.33"/><circle cx="362.1" cy="77.5" r="0.33"/><circle cx="365.4" cy="73.4" r="0.33"/><circle cx="375.1" cy="64.4" r="0.33"/><circle cx="363.2" cy="65.4" r="0.33"/><circle cx="366.4" cy="81.4" r="0.33"/><circle cx="378.2" cy="78.0" r="0.33"/><circle cx="369.4" cy="64.2" r="0.33"/><circle cx="370.2" cy="91.8" r="0.33"/><circle cx="372.3" cy="94.7" r="0.33"/><circle cx="371.9" cy="54.2" r="0.33"/><circle cx="364.2" cy="81.6" r="0.33"/><circle cx="369.1" cy="63.2" r="0.33"/><circle cx="360.3" cy="86.6" r="0.33"/><circle cx="357.3" cy="92.8" r="0.33"/><circle cx="366.4" cy="77.9" r="0.33"/><circle cx="357.3" cy="66.1" r="0.33"/><circle cx="370.9" cy="54.6" r="0.33"/><circle cx="380.3" cy="55.5" r="0.33"/></g><defs><radialGradient id="g7"><stop offset="0" stop-color="#000" stop-opacity="0.7"/><stop offset="0.6" stop-color="#000" stop-opacity="0.6649999999999999"/><stop offset="0.8" stop-color="#000" stop-opacity="0.315"/><stop offset="1" stop-color="#000" stop-opacity="0"/></radialGradient></defs><path d="M366.30,58.30 L367.58,58.47 L368.81,58.96 L369.97,59.78 L371.01,60.91 L371.91,62.33 L372.65,64.01 L373.21,65.93 L373.57,68.05 L373.76,70.34 L373.76,72.75 L373.60,75.25 L373.30,77.80 L372.88,80.35 L372.36,82.85 L371.78,85.26 L371.15,87.55 L370.50,89.67 L369.85,91.59 L369.21,93.27 L368.59,94.69 L367.99,95.82 L367.41,96.64 L366.85,97.13 L366.30,97.30 L365.75,97.13 L365.19,96.64 L364.61,95.82 L364.01,94.69 L363.39,93.27 L362.75,91.59 L362.10,89.67 L361.45,87.55 L360.82,85.26 L360.24,82.85 L359.72,80.35 L359.30,77.80 L359.00,75.25 L358.84,72.75 L358.84,70.34 L359.03,68.05 L359.39,65.93 L359.95,64.01 L360.69,62.33 L361.59,60.91 L362.63,59.78 L363.79,58.96 L365.02,58.47Z" fill="#000" fill-opacity="0.03" stroke="#333" stroke-width="0.55"/><path d="M366.30,62.20 L367.35,62.34 L368.36,62.74 L369.31,63.42 L370.16,64.34 L370.90,65.50 L371.51,66.88 L371.96,68.46 L372.27,70.19 L372.41,72.07 L372.42,74.05 L372.29,76.10 L372.04,78.19 L371.69,80.28 L371.27,82.33 L370.79,84.31 L370.28,86.18 L369.74,87.92 L369.21,89.50 L368.69,90.88 L368.18,92.04 L367.68,92.96 L367.21,93.64 L366.75,94.04 L366.30,94.18 L365.85,94.04 L365.39,93.64 L364.92,92.96 L364.42,92.04 L363.91,90.88 L363.39,89.50 L362.86,87.92 L362.32,86.19 L361.81,84.31 L361.33,82.33 L360.91,80.28 L360.56,78.19 L360.31,76.10 L360.18,74.05 L360.19,72.07 L360.33,70.19 L360.64,68.46 L361.09,66.88 L361.70,65.50 L362.44,64.34 L363.29,63.42 L364.24,62.74 L365.25,62.34Z" fill="#000" fill-opacity="0.05" stroke="#444" stroke-width="0.45"/><ellipse cx="366.3" cy="71.95" rx="5.25" ry="8.78" fill="url(#g7)"/><line x1="366.50" y1="66.10" x2="366.50" y2="76.83" stroke="#fff" stroke-width="0.7" opacity="0.4"/><path d="M362.50,98.1 C364.50,95.69999999999999 371.10,95.69999999999999 373.10,98.1 Z" fill="#000"/><g fill="#666" opacity="0.75"><circle cx="420.4" cy="76.1" r="0.33"/><circle cx="431.0" cy="83.7" r="0.33"/><circle cx="425.7" cy="73.3" r="0.33"/><circle cx="426.5" cy="69.3" r="0.33"/><circle cx="429.6" cy="77.4" r="0.33"/><circle cx="424.1" cy="78.4" r="0.33"/><circle cx="427.9" cy="74.8" r="0.33"/><circle cx="434.9" cy="56.7" r="0.33"/><circle cx="429.6" cy="63.9" r="0.33"/><circle cx="426.0" cy="92.1" r="0.33"/><circle cx="421.3" cy="74.5" r="0.33"/><circle cx="424.3" cy="86.0" r="0.33"/><circle cx="421.9" cy="57.2" r="0.33"/><circle cx="431.2" cy="71.7" r="0.33"/><circle cx="426.0" cy="87.5" r="0.33"/><circle cx="422.5" cy="71.5" r="0.33"/><circle cx="428.9" cy="80.1" r="0.33"/><circle cx="424.8" cy="87.0" r="0.33"/><circle cx="441.9" cy="71.1" r="0.33"/><circle cx="436.7" cy="71.8" r="0.33"/><circle cx="428.9" cy="71.9" r="0.33"/><circle cx="424.1" cy="61.6" r="0.33"/><circle cx="425.6" cy="89.8" r="0.33"/><circle cx="435.1" cy="71.8" r="0.33"/><circle cx="424.7" cy="67.9" r="0.33"/><circle cx="420.6" cy="95.4" r="0.33"/><circle cx="432.1" cy="76.9" r="0.33"/><circle cx="425.0" cy="64.4" r="0.33"/><circle cx="436.2" cy="84.2" r="0.33"/><circle cx="422.1" cy="86.5" r="0.33"/><circle cx="421.1" cy="82.6" r="0.33"/><circle cx="422.0" cy="71.1" r="0.33"/><circle cx="431.1" cy="80.3" r="0.33"/><circle cx="434.3" cy="66.4" r="0.33"/><circle cx="437.8" cy="90.3" r="0.33"/><circle cx="427.9" cy="80.7" r="0.33"/><circle cx="423.2" cy="73.9" r="0.33"/><circle cx="419.8" cy="76.6" r="0.33"/><circle cx="429.2" cy="90.3" r="0.33"/><circle cx="433.9" cy="84.5" r="0.33"/><circle cx="425.8" cy="73.1" r="0.33"/><circle cx="425.9" cy="78.0" r="0.33"/><circle cx="416.0" cy="84.1" r="0.33"/><circle cx="418.3" cy="70.0" r="0.33"/><circle cx="428.1" cy="70.0" r="0.33"/><circle cx="438.3" cy="74.5" r="0.33"/><circle cx="437.7" cy="88.5" r="0.33"/><circle cx="424.9" cy="80.0" r="0.33"/><circle cx="436.1" cy="72.0" r="0.33"/><circle cx="428.5" cy="69.5" r="0.33"/><circle cx="428.4" cy="71.7" r="0.33"/><circle cx="428.5" cy="86.6" r="0.33"/><circle cx="436.6" cy="77.1" r="0.33"/><circle cx="429.3" cy="85.0" r="0.33"/><circle cx="426.2" cy="64.0" r="0.33"/><circle cx="434.9" cy="65.4" r="0.33"/><circle cx="433.8" cy="65.0" r="0.33"/><circle cx="439.4" cy="64.2" r="0.33"/><circle cx="433.3" cy="92.0" r="0.33"/><circle cx="422.0" cy="91.9" r="0.33"/><circle cx="422.9" cy="56.3" r="0.33"/><circle cx="432.5" cy="83.3" r="0.33"/><circle cx="427.7" cy="72.3" r="0.33"/><circle cx="425.6" cy="72.4" r="0.33"/><circle cx="416.9" cy="69.4" r="0.33"/><circle cx="439.2" cy="92.6" r="0.33"/><circle cx="425.8" cy="67.8" r="0.33"/><circle cx="430.5" cy="87.2" r="0.33"/><circle cx="432.5" cy="62.8" r="0.33"/><circle cx="429.0" cy="77.1" r="0.33"/><circle cx="436.9" cy="88.7" r="0.33"/><circle cx="431.2" cy="88.9" r="0.33"/><circle cx="425.5" cy="92.5" r="0.33"/><circle cx="425.4" cy="79.9" r="0.33"/><circle cx="433.7" cy="65.6" r="0.33"/><circle cx="423.6" cy="56.3" r="0.33"/><circle cx="429.0" cy="75.0" r="0.33"/><circle cx="426.0" cy="81.1" r="0.33"/><circle cx="414.9" cy="75.4" r="0.33"/><circle cx="428.5" cy="72.7" r="0.33"/><circle cx="432.9" cy="94.8" r="0.33"/><circle cx="425.2" cy="65.3" r="0.33"/><circle cx="424.3" cy="76.6" r="0.33"/><circle cx="431.6" cy="66.2" r="0.33"/><circle cx="434.2" cy="64.4" r="0.33"/><circle cx="433.1" cy="80.3" r="0.33"/><circle cx="426.4" cy="73.8" r="0.33"/><circle cx="431.0" cy="85.1" r="0.33"/><circle cx="419.7" cy="78.6" r="0.33"/><circle cx="423.4" cy="82.5" r="0.33"/><circle cx="436.5" cy="76.2" r="0.33"/><circle cx="427.3" cy="77.6" r="0.33"/><circle cx="431.5" cy="77.4" r="0.33"/><circle cx="425.5" cy="67.6" r="0.33"/><circle cx="426.9" cy="88.9" r="0.33"/><circle cx="427.4" cy="90.4" r="0.33"/><circle cx="429.7" cy="75.5" r="0.33"/><circle cx="417.7" cy="68.3" r="0.33"/><circle cx="435.8" cy="61.5" r="0.33"/><circle cx="421.9" cy="63.6" r="0.33"/><circle cx="424.6" cy="82.7" r="0.33"/><circle cx="437.1" cy="69.1" r="0.33"/><circle cx="424.4" cy="93.9" r="0.33"/><circle cx="427.5" cy="62.0" r="0.33"/><circle cx="424.0" cy="67.6" r="0.33"/><circle cx="421.7" cy="72.0" r="0.33"/><circle cx="433.4" cy="79.4" r="0.33"/><circle cx="421.9" cy="76.9" r="0.33"/><circle cx="428.2" cy="84.0" r="0.33"/><circle cx="426.0" cy="80.6" r="0.33"/><circle cx="441.1" cy="76.7" r="0.33"/><circle cx="421.3" cy="79.2" r="0.33"/><circle cx="423.0" cy="71.6" r="0.33"/><circle cx="429.2" cy="79.3" r="0.33"/><circle cx="426.2" cy="84.9" r="0.33"/><circle cx="426.8" cy="61.3" r="0.33"/><circle cx="433.4" cy="71.6" r="0.33"/><circle cx="435.5" cy="68.4" r="0.33"/><circle cx="431.6" cy="79.1" r="0.33"/><circle cx="421.1" cy="91.0" r="0.33"/><circle cx="416.3" cy="85.6" r="0.33"/></g><defs><radialGradient id="g8" cx="0.5" cy="0.5" r="0.5"><stop offset="0" stop-color="#000" stop-opacity="0.85"/><stop offset="0.55" stop-color="#000" stop-opacity="0.6375"/><stop offset="1" stop-color="#000" stop-opacity="0"/></radialGradient></defs><ellipse cx="428.0" cy="78.03" rx="5.78" ry="14.53" fill="url(#g8)"/><line x1="428.3" y1="73.19" x2="428.3" y2="91.18" stroke="#fff" stroke-width="0.7" opacity="0.45"/><ellipse cx="428.0" cy="80.05" rx="6.80" ry="16.55" fill="none" stroke="#222" stroke-width="0.45" opacity="0.85"/><ellipse cx="428.0" cy="81.43" rx="5.30" ry="14.51" fill="none" stroke="#222" stroke-width="0.45" opacity="0.85"/><ellipse cx="428.0" cy="82.82" rx="3.81" ry="12.46" fill="none" stroke="#222" stroke-width="0.45" opacity="0.85"/><path d="M421.40,98.1 C423.40,95.69999999999999 436.20,95.69999999999999 438.20,98.1 Z" fill="#000"/><g fill="#666" opacity="0.75"><circle cx="497.4" cy="81.5" r="0.33"/><circle cx="495.2" cy="71.0" r="0.33"/><circle cx="491.7" cy="78.7" r="0.33"/><circle cx="493.9" cy="83.8" r="0.33"/><circle cx="490.7" cy="68.8" r="0.33"/><circle cx="488.9" cy="80.6" r="0.33"/><circle cx="483.3" cy="62.9" r="0.33"/><circle cx="489.7" cy="70.4" r="0.33"/><circle cx="490.1" cy="73.6" r="0.33"/><circle cx="490.2" cy="81.3" r="0.33"/><circle cx="494.3" cy="89.0" r="0.33"/><circle cx="497.2" cy="65.1" r="0.33"/><circle cx="495.1" cy="72.7" r="0.33"/><circle cx="487.7" cy="92.6" r="0.33"/><circle cx="488.6" cy="67.2" r="0.33"/><circle cx="489.7" cy="67.2" r="0.33"/><circle cx="496.9" cy="80.3" r="0.33"/><circle cx="499.0" cy="80.6" r="0.33"/><circle cx="488.7" cy="87.4" r="0.33"/><circle cx="488.5" cy="71.3" r="0.33"/><circle cx="490.9" cy="76.7" r="0.33"/><circle cx="497.9" cy="69.8" r="0.33"/><circle cx="493.6" cy="76.0" r="0.33"/><circle cx="485.4" cy="64.6" r="0.33"/><circle cx="490.7" cy="80.6" r="0.33"/><circle cx="493.4" cy="81.4" r="0.33"/><circle cx="492.0" cy="71.5" r="0.33"/><circle cx="494.0" cy="65.6" r="0.33"/><circle cx="484.9" cy="72.7" r="0.33"/><circle cx="484.5" cy="70.8" r="0.33"/><circle cx="488.0" cy="70.3" r="0.33"/><circle cx="491.6" cy="67.7" r="0.33"/><circle cx="489.6" cy="58.0" r="0.33"/><circle cx="492.5" cy="66.8" r="0.33"/><circle cx="487.7" cy="78.9" r="0.33"/><circle cx="492.3" cy="77.4" r="0.33"/><circle cx="484.1" cy="78.7" r="0.33"/><circle cx="492.6" cy="65.9" r="0.33"/><circle cx="495.6" cy="75.7" r="0.33"/><circle cx="491.9" cy="71.5" r="0.33"/><circle cx="494.6" cy="77.3" r="0.33"/><circle cx="497.6" cy="81.1" r="0.33"/><circle cx="488.6" cy="73.9" r="0.33"/><circle cx="496.5" cy="72.4" r="0.33"/><circle cx="493.8" cy="81.8" r="0.33"/><circle cx="492.5" cy="78.6" r="0.33"/><circle cx="492.5" cy="68.1" r="0.33"/><circle cx="498.0" cy="74.8" r="0.33"/><circle cx="488.6" cy="68.6" r="0.33"/><circle cx="493.6" cy="64.6" r="0.33"/><circle cx="498.5" cy="87.6" r="0.33"/><circle cx="498.8" cy="82.6" r="0.33"/><circle cx="483.1" cy="89.1" r="0.33"/><circle cx="498.2" cy="81.5" r="0.33"/><circle cx="481.7" cy="89.6" r="0.33"/><circle cx="498.8" cy="71.0" r="0.33"/><circle cx="492.5" cy="84.6" r="0.33"/><circle cx="491.4" cy="88.1" r="0.33"/><circle cx="492.2" cy="83.7" r="0.33"/><circle cx="492.2" cy="60.4" r="0.33"/><circle cx="493.2" cy="90.3" r="0.33"/><circle cx="497.7" cy="94.7" r="0.33"/><circle cx="494.7" cy="69.9" r="0.33"/><circle cx="490.8" cy="86.0" r="0.33"/><circle cx="480.6" cy="78.4" r="0.33"/><circle cx="496.1" cy="90.5" r="0.33"/><circle cx="487.0" cy="69.3" r="0.33"/><circle cx="482.1" cy="65.3" r="0.33"/><circle cx="485.9" cy="91.1" r="0.33"/><circle cx="494.0" cy="70.9" r="0.33"/><circle cx="491.5" cy="78.6" r="0.33"/><circle cx="502.8" cy="95.6" r="0.33"/><circle cx="503.5" cy="77.7" r="0.33"/><circle cx="496.9" cy="91.0" r="0.33"/><circle cx="494.4" cy="80.1" r="0.33"/><circle cx="490.9" cy="71.9" r="0.33"/><circle cx="493.2" cy="75.9" r="0.33"/><circle cx="492.7" cy="95.8" r="0.33"/><circle cx="491.3" cy="73.4" r="0.33"/><circle cx="487.9" cy="76.0" r="0.33"/><circle cx="489.5" cy="78.5" r="0.33"/><circle cx="496.3" cy="85.1" r="0.33"/><circle cx="495.5" cy="85.1" r="0.33"/><circle cx="495.3" cy="91.5" r="0.33"/><circle cx="497.0" cy="90.8" r="0.33"/><circle cx="489.2" cy="76.2" r="0.33"/><circle cx="488.0" cy="86.6" r="0.33"/><circle cx="496.1" cy="71.2" r="0.33"/><circle cx="498.2" cy="64.2" r="0.33"/><circle cx="491.3" cy="83.1" r="0.33"/><circle cx="491.6" cy="80.4" r="0.33"/><circle cx="497.9" cy="79.8" r="0.33"/><circle cx="486.1" cy="84.0" r="0.33"/><circle cx="491.3" cy="77.5" r="0.33"/><circle cx="488.9" cy="61.3" r="0.33"/><circle cx="485.3" cy="72.4" r="0.33"/><circle cx="497.7" cy="63.7" r="0.33"/><circle cx="488.0" cy="82.0" r="0.33"/><circle cx="487.8" cy="83.4" r="0.33"/><circle cx="489.3" cy="79.6" r="0.33"/><circle cx="492.3" cy="76.2" r="0.33"/><circle cx="482.3" cy="60.4" r="0.33"/><circle cx="491.6" cy="91.5" r="0.33"/><circle cx="489.0" cy="82.0" r="0.33"/><circle cx="492.6" cy="81.5" r="0.33"/><circle cx="496.9" cy="60.1" r="0.33"/><circle cx="493.2" cy="74.3" r="0.33"/><circle cx="490.2" cy="67.0" r="0.33"/><circle cx="487.7" cy="65.1" r="0.33"/><circle cx="500.6" cy="76.4" r="0.33"/><circle cx="495.6" cy="65.7" r="0.33"/></g><defs><radialGradient id="g9" cx="0.5" cy="0.5" r="0.5"><stop offset="0" stop-color="#000" stop-opacity="0.35"/><stop offset="0.55" stop-color="#000" stop-opacity="0.26249999999999996"/><stop offset="1" stop-color="#000" stop-opacity="0"/></radialGradient></defs><ellipse cx="491.8" cy="79.62" rx="4.76" ry="14.11" fill="url(#g9)"/><line x1="492.1" y1="73.91" x2="492.1" y2="91.38" stroke="#fff" stroke-width="0.7" opacity="0.45"/><ellipse cx="491.8" cy="80.55" rx="5.60" ry="16.05" fill="none" stroke="#222" stroke-width="0.45" opacity="0.85"/><ellipse cx="491.8" cy="81.88" rx="4.37" ry="14.06" fill="none" stroke="#222" stroke-width="0.45" opacity="0.85"/><ellipse cx="491.8" cy="83.22" rx="3.14" ry="12.06" fill="none" stroke="#222" stroke-width="0.45" opacity="0.85"/><path d="M483.00,98.1 C485.00,95.69999999999999 501.00,95.69999999999999 503.00,98.1 Z" fill="#000"/><g fill="#666" opacity="0.7"><circle cx="367.0" cy="163.1" r="0.33"/><circle cx="365.7" cy="132.3" r="0.33"/><circle cx="364.4" cy="132.3" r="0.33"/><circle cx="356.5" cy="142.0" r="0.33"/><circle cx="363.3" cy="134.7" r="0.33"/><circle cx="360.0" cy="133.2" r="0.33"/><circle cx="367.6" cy="162.5" r="0.33"/><circle cx="355.0" cy="148.4" r="0.33"/><circle cx="358.1" cy="142.9" r="0.33"/><circle cx="366.7" cy="152.0" r="0.33"/><circle cx="373.7" cy="137.9" r="0.33"/><circle cx="357.5" cy="142.5" r="0.33"/><circle cx="368.0" cy="136.1" r="0.33"/><circle cx="356.3" cy="149.5" r="0.33"/><circle cx="367.4" cy="142.1" r="0.33"/><circle cx="356.3" cy="161.5" r="0.33"/><circle cx="367.5" cy="138.9" r="0.33"/><circle cx="369.0" cy="153.0" r="0.33"/><circle cx="371.2" cy="152.2" r="0.33"/><circle cx="368.8" cy="130.1" r="0.33"/><circle cx="363.1" cy="146.5" r="0.33"/><circle cx="363.4" cy="131.6" r="0.33"/><circle cx="353.6" cy="148.0" r="0.33"/><circle cx="366.2" cy="137.5" r="0.33"/><circle cx="363.2" cy="133.7" r="0.33"/><circle cx="360.9" cy="143.7" r="0.33"/><circle cx="361.6" cy="153.5" r="0.33"/><circle cx="365.0" cy="146.6" r="0.33"/><circle cx="368.8" cy="160.9" r="0.33"/><circle cx="370.1" cy="147.8" r="0.33"/><circle cx="364.9" cy="134.7" r="0.33"/><circle cx="363.7" cy="153.5" r="0.33"/><circle cx="367.5" cy="140.0" r="0.33"/><circle cx="356.9" cy="125.6" r="0.33"/><circle cx="368.2" cy="157.9" r="0.33"/><circle cx="368.6" cy="127.6" r="0.33"/><circle cx="364.5" cy="147.7" r="0.33"/><circle cx="359.7" cy="149.3" r="0.33"/><circle cx="364.6" cy="134.4" r="0.33"/><circle cx="357.5" cy="155.1" r="0.33"/><circle cx="368.4" cy="133.7" r="0.33"/><circle cx="359.1" cy="156.1" r="0.33"/><circle cx="370.1" cy="141.1" r="0.33"/><circle cx="376.9" cy="141.2" r="0.33"/><circle cx="358.8" cy="158.7" r="0.33"/><circle cx="364.7" cy="149.3" r="0.33"/><circle cx="366.3" cy="132.3" r="0.33"/><circle cx="357.9" cy="142.4" r="0.33"/><circle cx="375.6" cy="132.2" r="0.33"/><circle cx="375.3" cy="147.7" r="0.33"/><circle cx="358.4" cy="148.3" r="0.33"/><circle cx="369.9" cy="133.6" r="0.33"/><circle cx="358.4" cy="150.5" r="0.33"/><circle cx="353.0" cy="143.1" r="0.33"/><circle cx="360.5" cy="126.2" r="0.33"/><circle cx="364.4" cy="147.1" r="0.33"/><circle cx="362.2" cy="130.0" r="0.33"/><circle cx="369.6" cy="151.1" r="0.33"/><circle cx="377.4" cy="156.0" r="0.33"/><circle cx="368.4" cy="148.2" r="0.33"/><circle cx="366.2" cy="128.2" r="0.33"/><circle cx="376.0" cy="151.5" r="0.33"/><circle cx="364.1" cy="130.5" r="0.33"/><circle cx="376.1" cy="151.6" r="0.33"/><circle cx="357.9" cy="153.4" r="0.33"/><circle cx="378.9" cy="144.6" r="0.33"/><circle cx="368.7" cy="139.7" r="0.33"/><circle cx="361.7" cy="158.4" r="0.33"/><circle cx="365.2" cy="154.9" r="0.33"/><circle cx="363.9" cy="154.1" r="0.33"/><circle cx="371.6" cy="132.1" r="0.33"/><circle cx="358.7" cy="144.0" r="0.33"/><circle cx="371.7" cy="148.4" r="0.33"/><circle cx="374.4" cy="127.6" r="0.33"/><circle cx="369.4" cy="137.1" r="0.33"/><circle cx="366.7" cy="148.9" r="0.33"/><circle cx="359.4" cy="142.0" r="0.33"/><circle cx="358.1" cy="148.2" r="0.33"/><circle cx="360.2" cy="138.7" r="0.33"/><circle cx="367.5" cy="136.7" r="0.33"/><circle cx="373.8" cy="136.9" r="0.33"/><circle cx="371.8" cy="148.5" r="0.33"/><circle cx="359.0" cy="142.2" r="0.33"/><circle cx="360.3" cy="140.4" r="0.33"/><circle cx="363.2" cy="164.6" r="0.33"/><circle cx="369.0" cy="128.5" r="0.33"/><circle cx="352.5" cy="153.9" r="0.33"/><circle cx="373.0" cy="149.8" r="0.33"/><circle cx="364.6" cy="141.8" r="0.33"/><circle cx="367.8" cy="141.1" r="0.33"/><circle cx="362.4" cy="140.3" r="0.33"/><circle cx="373.9" cy="137.1" r="0.33"/><circle cx="368.6" cy="130.5" r="0.33"/><circle cx="361.2" cy="127.7" r="0.33"/><circle cx="364.7" cy="153.5" r="0.33"/><circle cx="368.1" cy="138.7" r="0.33"/><circle cx="370.1" cy="140.5" r="0.33"/><circle cx="368.5" cy="148.3" r="0.33"/><circle cx="357.2" cy="154.6" r="0.33"/></g><defs><radialGradient id="g10"><stop offset="0" stop-color="#000" stop-opacity="0.7"/><stop offset="0.6" stop-color="#000" stop-opacity="0.6649999999999999"/><stop offset="0.8" stop-color="#000" stop-opacity="0.315"/><stop offset="1" stop-color="#000" stop-opacity="0"/></radialGradient></defs><path d="M366.00,130.10 L367.28,130.26 L368.51,130.73 L369.67,131.51 L370.71,132.58 L371.61,133.92 L372.35,135.52 L372.91,137.34 L373.27,139.35 L373.46,141.52 L373.46,143.81 L373.30,146.19 L373.00,148.60 L372.58,151.01 L372.06,153.39 L371.48,155.68 L370.85,157.85 L370.20,159.86 L369.55,161.68 L368.91,163.28 L368.29,164.62 L367.69,165.69 L367.11,166.47 L366.55,166.94 L366.00,167.10 L365.45,166.94 L364.89,166.47 L364.31,165.69 L363.71,164.62 L363.09,163.28 L362.45,161.68 L361.80,159.86 L361.15,157.85 L360.52,155.68 L359.94,153.39 L359.42,151.01 L359.00,148.60 L358.70,146.19 L358.54,143.81 L358.54,141.52 L358.73,139.35 L359.09,137.34 L359.65,135.52 L360.39,133.92 L361.29,132.58 L362.33,131.51 L363.49,130.73 L364.72,130.26Z" fill="#000" fill-opacity="0.03" stroke="#333" stroke-width="0.55"/><path d="M366.00,133.80 L367.05,133.93 L368.06,134.32 L369.01,134.95 L369.86,135.83 L370.60,136.93 L371.21,138.24 L371.66,139.74 L371.97,141.38 L372.11,143.16 L372.12,145.04 L371.99,146.99 L371.74,148.97 L371.39,150.95 L370.97,152.90 L370.49,154.78 L369.98,156.56 L369.44,158.20 L368.91,159.70 L368.39,161.01 L367.88,162.11 L367.38,162.99 L366.91,163.62 L366.45,164.01 L366.00,164.14 L365.55,164.01 L365.09,163.62 L364.62,162.99 L364.12,162.11 L363.61,161.01 L363.09,159.70 L362.56,158.20 L362.02,156.56 L361.51,154.78 L361.03,152.90 L360.61,150.95 L360.26,148.97 L360.01,146.99 L359.88,145.04 L359.89,143.16 L360.03,141.38 L360.34,139.74 L360.79,138.24 L361.40,136.93 L362.14,135.83 L362.99,134.95 L363.94,134.32 L364.95,133.93Z" fill="#000" fill-opacity="0.05" stroke="#444" stroke-width="0.45"/><ellipse cx="366.0" cy="143.05" rx="5.25" ry="8.33" fill="url(#g10)"/><line x1="366.20" y1="137.50" x2="366.20" y2="147.67" stroke="#fff" stroke-width="0.7" opacity="0.4"/><path d="M361.00,167.3 C363.00,164.9 371.00,164.9 373.00,167.3 Z" fill="#000"/><g fill="#666" opacity="0.75"><circle cx="427.1" cy="139.8" r="0.33"/><circle cx="438.2" cy="151.6" r="0.33"/><circle cx="440.8" cy="151.1" r="0.33"/><circle cx="427.3" cy="153.4" r="0.33"/><circle cx="423.5" cy="140.9" r="0.33"/><circle cx="425.0" cy="143.3" r="0.33"/><circle cx="433.6" cy="140.5" r="0.33"/><circle cx="430.7" cy="140.4" r="0.33"/><circle cx="427.3" cy="147.4" r="0.33"/><circle cx="421.7" cy="156.4" r="0.33"/><circle cx="430.0" cy="159.3" r="0.33"/><circle cx="434.8" cy="152.5" r="0.33"/><circle cx="427.6" cy="134.1" r="0.33"/><circle cx="427.2" cy="140.8" r="0.33"/><circle cx="430.2" cy="140.7" r="0.33"/><circle cx="436.1" cy="140.7" r="0.33"/><circle cx="427.0" cy="155.5" r="0.33"/><circle cx="428.6" cy="132.8" r="0.33"/><circle cx="431.3" cy="143.6" r="0.33"/><circle cx="415.4" cy="147.8" r="0.33"/><circle cx="421.8" cy="137.8" r="0.33"/><circle cx="431.7" cy="148.8" r="0.33"/><circle cx="431.3" cy="139.1" r="0.33"/><circle cx="430.1" cy="144.4" r="0.33"/><circle cx="414.4" cy="128.9" r="0.33"/><circle cx="427.4" cy="142.7" r="0.33"/><circle cx="425.0" cy="156.1" r="0.33"/><circle cx="428.8" cy="163.8" r="0.33"/><circle cx="433.7" cy="163.1" r="0.33"/><circle cx="427.8" cy="149.6" r="0.33"/><circle cx="425.8" cy="143.9" r="0.33"/><circle cx="417.5" cy="139.5" r="0.33"/><circle cx="422.5" cy="138.7" r="0.33"/><circle cx="436.4" cy="148.4" r="0.33"/><circle cx="436.5" cy="154.7" r="0.33"/><circle cx="434.5" cy="156.3" r="0.33"/><circle cx="424.7" cy="154.2" r="0.33"/><circle cx="426.5" cy="140.0" r="0.33"/><circle cx="422.3" cy="164.1" r="0.33"/><circle cx="433.9" cy="136.7" r="0.33"/><circle cx="430.4" cy="149.6" r="0.33"/><circle cx="431.0" cy="141.9" r="0.33"/><circle cx="420.4" cy="146.0" r="0.33"/><circle cx="434.1" cy="154.0" r="0.33"/><circle cx="432.8" cy="157.3" r="0.33"/><circle cx="422.2" cy="145.2" r="0.33"/><circle cx="430.8" cy="156.2" r="0.33"/><circle cx="429.6" cy="151.1" r="0.33"/><circle cx="414.6" cy="145.4" r="0.33"/><circle cx="416.9" cy="147.1" r="0.33"/><circle cx="419.4" cy="138.5" r="0.33"/><circle cx="430.0" cy="163.8" r="0.33"/><circle cx="431.6" cy="152.7" r="0.33"/><circle cx="435.1" cy="147.8" r="0.33"/><circle cx="423.1" cy="144.6" r="0.33"/><circle cx="430.8" cy="142.7" r="0.33"/><circle cx="424.3" cy="141.9" r="0.33"/><circle cx="419.0" cy="134.8" r="0.33"/><circle cx="428.0" cy="141.8" r="0.33"/><circle cx="428.8" cy="160.5" r="0.33"/><circle cx="430.5" cy="145.3" r="0.33"/><circle cx="421.1" cy="134.2" r="0.33"/><circle cx="431.0" cy="136.4" r="0.33"/><circle cx="431.3" cy="134.3" r="0.33"/><circle cx="429.5" cy="144.9" r="0.33"/><circle cx="435.0" cy="141.5" r="0.33"/><circle cx="426.2" cy="148.3" r="0.33"/><circle cx="429.0" cy="163.5" r="0.33"/><circle cx="427.0" cy="140.0" r="0.33"/><circle cx="426.6" cy="150.7" r="0.33"/><circle cx="430.1" cy="153.0" r="0.33"/><circle cx="440.4" cy="145.3" r="0.33"/><circle cx="420.9" cy="147.3" r="0.33"/><circle cx="428.7" cy="130.0" r="0.33"/><circle cx="431.5" cy="160.3" r="0.33"/><circle cx="435.2" cy="129.7" r="0.33"/><circle cx="437.4" cy="155.2" r="0.33"/><circle cx="426.3" cy="151.0" r="0.33"/><circle cx="438.3" cy="142.1" r="0.33"/><circle cx="428.5" cy="139.7" r="0.33"/><circle cx="437.7" cy="135.4" r="0.33"/><circle cx="434.5" cy="128.5" r="0.33"/><circle cx="422.6" cy="139.3" r="0.33"/><circle cx="433.9" cy="128.5" r="0.33"/><circle cx="432.5" cy="138.9" r="0.33"/><circle cx="436.5" cy="142.4" r="0.33"/><circle cx="431.7" cy="143.8" r="0.33"/><circle cx="440.1" cy="141.8" r="0.33"/><circle cx="429.1" cy="152.9" r="0.33"/><circle cx="423.9" cy="147.8" r="0.33"/><circle cx="414.1" cy="146.8" r="0.33"/><circle cx="424.5" cy="129.8" r="0.33"/><circle cx="419.5" cy="157.7" r="0.33"/><circle cx="431.3" cy="129.6" r="0.33"/><circle cx="440.2" cy="138.3" r="0.33"/><circle cx="426.2" cy="148.3" r="0.33"/><circle cx="421.3" cy="128.6" r="0.33"/><circle cx="423.8" cy="158.1" r="0.33"/><circle cx="434.7" cy="129.0" r="0.33"/><circle cx="436.3" cy="146.0" r="0.33"/><circle cx="431.8" cy="146.2" r="0.33"/><circle cx="431.2" cy="135.1" r="0.33"/><circle cx="422.8" cy="138.2" r="0.33"/><circle cx="426.2" cy="152.2" r="0.33"/><circle cx="420.8" cy="162.5" r="0.33"/><circle cx="424.6" cy="139.4" r="0.33"/><circle cx="433.1" cy="150.2" r="0.33"/><circle cx="426.4" cy="134.3" r="0.33"/><circle cx="422.2" cy="128.8" r="0.33"/><circle cx="435.9" cy="157.1" r="0.33"/><circle cx="440.6" cy="150.9" r="0.33"/><circle cx="430.7" cy="153.7" r="0.33"/><circle cx="434.7" cy="142.9" r="0.33"/><circle cx="417.8" cy="130.8" r="0.33"/><circle cx="422.4" cy="153.6" r="0.33"/><circle cx="436.2" cy="142.1" r="0.33"/><circle cx="432.9" cy="145.1" r="0.33"/><circle cx="430.5" cy="139.9" r="0.33"/></g><defs><radialGradient id="g11" cx="0.5" cy="0.5" r="0.5"><stop offset="0" stop-color="#000" stop-opacity="0.85"/><stop offset="0.55" stop-color="#000" stop-opacity="0.6375"/><stop offset="1" stop-color="#000" stop-opacity="0"/></radialGradient></defs><ellipse cx="428.6" cy="147.99" rx="5.95" ry="13.99" fill="url(#g11)"/><line x1="428.90000000000003" y1="143.32" x2="428.90000000000003" y2="160.64" stroke="#fff" stroke-width="0.7" opacity="0.45"/><ellipse cx="428.6" cy="149.90" rx="7.00" ry="15.90" fill="none" stroke="#222" stroke-width="0.45" opacity="0.85"/><ellipse cx="428.6" cy="151.22" rx="5.46" ry="13.92" fill="none" stroke="#222" stroke-width="0.45" opacity="0.85"/><ellipse cx="428.6" cy="152.54" rx="3.92" ry="11.94" fill="none" stroke="#222" stroke-width="0.45" opacity="0.85"/><path d="M421.40,167.3 C423.40,164.9 436.30,164.9 438.30,167.3 Z" fill="#000"/><g fill="#666" opacity="0.75"><circle cx="488.5" cy="149.4" r="0.33"/><circle cx="479.3" cy="154.1" r="0.33"/><circle cx="488.6" cy="157.9" r="0.33"/><circle cx="494.0" cy="156.2" r="0.33"/><circle cx="492.7" cy="141.1" r="0.33"/><circle cx="479.9" cy="164.0" r="0.33"/><circle cx="494.8" cy="141.1" r="0.33"/><circle cx="495.2" cy="155.3" r="0.33"/><circle cx="483.5" cy="159.6" r="0.33"/><circle cx="485.1" cy="142.9" r="0.33"/><circle cx="480.7" cy="147.5" r="0.33"/><circle cx="493.8" cy="143.6" r="0.33"/><circle cx="498.1" cy="155.5" r="0.33"/><circle cx="485.8" cy="138.8" r="0.33"/><circle cx="480.2" cy="154.3" r="0.33"/><circle cx="495.3" cy="140.2" r="0.33"/><circle cx="488.6" cy="147.0" r="0.33"/><circle cx="487.3" cy="153.8" r="0.33"/><circle cx="499.3" cy="143.9" r="0.33"/><circle cx="493.0" cy="158.9" r="0.33"/><circle cx="487.1" cy="148.1" r="0.33"/><circle cx="481.7" cy="158.9" r="0.33"/><circle cx="485.9" cy="143.7" r="0.33"/><circle cx="488.9" cy="141.9" r="0.33"/><circle cx="483.3" cy="146.8" r="0.33"/><circle cx="496.2" cy="147.6" r="0.33"/><circle cx="491.3" cy="136.6" r="0.33"/><circle cx="486.6" cy="136.0" r="0.33"/><circle cx="488.1" cy="154.7" r="0.33"/><circle cx="479.7" cy="141.7" r="0.33"/><circle cx="489.9" cy="141.4" r="0.33"/><circle cx="492.7" cy="157.8" r="0.33"/><circle cx="490.9" cy="145.7" r="0.33"/><circle cx="488.4" cy="143.9" r="0.33"/><circle cx="487.9" cy="152.2" r="0.33"/><circle cx="487.1" cy="157.9" r="0.33"/><circle cx="490.4" cy="156.6" r="0.33"/><circle cx="491.9" cy="147.3" r="0.33"/><circle cx="486.1" cy="158.2" r="0.33"/><circle cx="491.8" cy="153.9" r="0.33"/><circle cx="484.5" cy="155.0" r="0.33"/><circle cx="492.7" cy="147.8" r="0.33"/><circle cx="479.0" cy="154.7" r="0.33"/><circle cx="482.6" cy="137.5" r="0.33"/><circle cx="487.4" cy="154.2" r="0.33"/><circle cx="488.9" cy="139.2" r="0.33"/><circle cx="481.2" cy="144.5" r="0.33"/><circle cx="488.7" cy="142.1" r="0.33"/><circle cx="480.9" cy="164.8" r="0.33"/><circle cx="484.3" cy="148.1" r="0.33"/><circle cx="485.8" cy="144.3" r="0.33"/><circle cx="488.8" cy="146.8" r="0.33"/><circle cx="491.8" cy="139.0" r="0.33"/><circle cx="488.2" cy="156.2" r="0.33"/><circle cx="494.7" cy="154.3" r="0.33"/><circle cx="488.8" cy="135.8" r="0.33"/><circle cx="480.4" cy="158.0" r="0.33"/><circle cx="492.1" cy="154.4" r="0.33"/><circle cx="483.2" cy="139.0" r="0.33"/><circle cx="489.4" cy="140.4" r="0.33"/><circle cx="496.8" cy="144.0" r="0.33"/><circle cx="485.7" cy="157.0" r="0.33"/><circle cx="490.3" cy="141.5" r="0.33"/><circle cx="482.3" cy="147.2" r="0.33"/><circle cx="483.0" cy="132.3" r="0.33"/><circle cx="491.8" cy="155.6" r="0.33"/><circle cx="493.6" cy="153.2" r="0.33"/><circle cx="478.2" cy="149.2" r="0.33"/><circle cx="485.2" cy="139.1" r="0.33"/><circle cx="482.9" cy="156.2" r="0.33"/><circle cx="491.0" cy="132.6" r="0.33"/><circle cx="493.2" cy="160.4" r="0.33"/><circle cx="488.8" cy="138.7" r="0.33"/><circle cx="497.7" cy="137.8" r="0.33"/><circle cx="488.2" cy="132.6" r="0.33"/><circle cx="482.1" cy="134.4" r="0.33"/><circle cx="494.2" cy="159.8" r="0.33"/><circle cx="486.5" cy="137.5" r="0.33"/><circle cx="488.3" cy="152.8" r="0.33"/><circle cx="480.7" cy="139.2" r="0.33"/><circle cx="488.1" cy="155.6" r="0.33"/><circle cx="489.0" cy="153.4" r="0.33"/><circle cx="490.2" cy="141.3" r="0.33"/><circle cx="488.0" cy="146.1" r="0.33"/><circle cx="491.1" cy="142.6" r="0.33"/><circle cx="496.1" cy="149.7" r="0.33"/><circle cx="491.3" cy="155.0" r="0.33"/><circle cx="494.0" cy="153.0" r="0.33"/><circle cx="479.5" cy="143.9" r="0.33"/><circle cx="498.3" cy="153.6" r="0.33"/><circle cx="491.5" cy="153.6" r="0.33"/><circle cx="485.3" cy="143.4" r="0.33"/><circle cx="485.2" cy="159.7" r="0.33"/><circle cx="490.5" cy="165.2" r="0.33"/><circle cx="491.0" cy="138.9" r="0.33"/><circle cx="497.7" cy="152.4" r="0.33"/><circle cx="494.8" cy="151.3" r="0.33"/><circle cx="486.9" cy="150.9" r="0.33"/><circle cx="482.8" cy="138.8" r="0.33"/><circle cx="484.0" cy="144.8" r="0.33"/><circle cx="481.5" cy="148.5" r="0.33"/><circle cx="498.2" cy="149.0" r="0.33"/><circle cx="493.2" cy="147.5" r="0.33"/><circle cx="490.6" cy="149.1" r="0.33"/><circle cx="485.8" cy="150.1" r="0.33"/><circle cx="480.9" cy="153.3" r="0.33"/><circle cx="487.1" cy="139.8" r="0.33"/><circle cx="486.7" cy="154.4" r="0.33"/><circle cx="485.0" cy="153.7" r="0.33"/><circle cx="491.6" cy="163.3" r="0.33"/><circle cx="482.9" cy="148.4" r="0.33"/><circle cx="491.3" cy="162.8" r="0.33"/><circle cx="490.0" cy="156.2" r="0.33"/><circle cx="480.9" cy="144.2" r="0.33"/><circle cx="497.3" cy="146.9" r="0.33"/><circle cx="499.9" cy="142.9" r="0.33"/><circle cx="487.1" cy="135.2" r="0.33"/></g><defs><radialGradient id="g12" cx="0.5" cy="0.5" r="0.5"><stop offset="0" stop-color="#000" stop-opacity="0.35"/><stop offset="0.55" stop-color="#000" stop-opacity="0.26249999999999996"/><stop offset="1" stop-color="#000" stop-opacity="0"/></radialGradient></defs><ellipse cx="488.6" cy="152.18" rx="4.76" ry="11.55" fill="url(#g12)"/><line x1="488.90000000000003" y1="147.50" x2="488.90000000000003" y2="161.80" stroke="#fff" stroke-width="0.7" opacity="0.45"/><ellipse cx="488.6" cy="152.80" rx="5.60" ry="13.00" fill="none" stroke="#222" stroke-width="0.45" opacity="0.85"/><ellipse cx="488.6" cy="153.83" rx="4.37" ry="11.31" fill="none" stroke="#222" stroke-width="0.45" opacity="0.85"/><ellipse cx="488.6" cy="154.86" rx="3.14" ry="9.62" fill="none" stroke="#222" stroke-width="0.45" opacity="0.85"/><path d="M481.40,167.3 C483.40,164.9 500.30,164.9 502.30,167.3 Z" fill="#000"/><rect x="335.8" y="52.55" width="14.2" height="16.85" stroke="#a898d8" fill="none" stroke-width="0.9"/><rect x="350.0" y="52.55" width="7.2" height="16.85" stroke="#a898d8" fill="none" stroke-width="0.9"/><rect x="357.2" y="52.55" width="22.5" height="16.85" stroke="#a898d8" fill="none" stroke-width="0.9"/><rect x="357.2" y="75.1" width="22.5" height="23.3" stroke="#a898d8" fill="none" stroke-width="0.9"/><line x1="357.2" y1="69.4" x2="379.7" y2="69.4" stroke="#6a5cb8" stroke-width="1.0"/><line x1="357.2" y1="75.1" x2="379.7" y2="75.1" stroke="#6a5cb8" stroke-width="1.0"/><rect x="335.8" y="121.95" width="14.2" height="16.85" stroke="#a898d8" fill="none" stroke-width="0.9"/><rect x="350.0" y="121.95" width="7.2" height="16.85" stroke="#a898d8" fill="none" stroke-width="0.9"/><rect x="357.2" y="121.95" width="22.5" height="16.85" stroke="#a898d8" fill="none" stroke-width="0.9"/><rect x="357.2" y="144.5" width="22.5" height="23.3" stroke="#a898d8" fill="none" stroke-width="0.9"/><line x1="357.2" y1="138.8" x2="379.7" y2="138.8" stroke="#6a5cb8" stroke-width="1.0"/><line x1="357.2" y1="144.5" x2="379.7" y2="144.5" stroke="#6a5cb8" stroke-width="1.0"/><text x="343.3" y="44.8" font-size="6.4" text-anchor="middle" fill="#000">0.32</text><text x="373.2" y="44.8" font-size="6.4" text-anchor="middle" fill="#000">13</text><text x="340.5" y="66.8" font-size="6.4" text-anchor="middle" fill="#000">I</text><text x="353.2" y="66.5" font-size="6.4" text-anchor="middle" fill="#000">II</text><text x="373.7" y="66.5" font-size="6.4" text-anchor="middle" fill="#000">III</text><text x="373.5" y="74.4" font-size="6.4" text-anchor="middle" fill="#000">IV</text><text x="373.5" y="93.9" font-size="6.4" text-anchor="middle" fill="#000">V</text><text x="335.0" y="79.9" font-size="6.4" text-anchor="middle" fill="#000">0.009</text><text x="346.3" y="88.0" font-size="6.4" text-anchor="middle" fill="#000">27</text><text x="348.3" y="97.1" font-size="6.4" text-anchor="middle" fill="#000">56</text><line x1="347.5" y1="45.6" x2="354.8" y2="55.3" stroke="#000" stroke-width="1.15"/><line x1="373.0" y1="46.4" x2="368.4" y2="56.1" stroke="#000" stroke-width="1.15"/><line x1="341.1" y1="73.0" x2="345.9" y2="63.3" stroke="#000" stroke-width="1.15"/><line x1="350.0" y1="83.1" x2="358.8" y2="71.4" stroke="#000" stroke-width="1.15"/><line x1="353.2" y1="93.1" x2="362.8" y2="82.6" stroke="#000" stroke-width="1.15"/><text x="341.5" y="123.2" font-size="6.4" text-anchor="middle" fill="#000">0.01</text><text x="351.8" y="130.6" font-size="6.4" text-anchor="middle" fill="#000">0.1</text><text x="371.1" y="129.0" font-size="6.4" text-anchor="middle" fill="#000">8.0</text><text x="376.2" y="144.6" font-size="6.4" text-anchor="middle" fill="#000">26</text><text x="375.3" y="165.5" font-size="6.4" text-anchor="middle" fill="#000">62</text><text x="0" y="0" font-size="13.5" text-anchor="start" font-weight="bold" fill="#000" transform="translate(8.6,221.5) scale(0.96,1)" style="stroke:#000;stroke-width:0.35px">C</text><text x="0" y="0" font-size="10.4" text-anchor="middle" font-weight="bold" fill="#000" transform="translate(17.9,293.6) rotate(-90) scale(0.69,1)">Proportion of GLYA+</text><line x1="46.9" y1="226.6" x2="46.9" y2="287.0" stroke="#000" stroke-width="1.2"/><line x1="46.9" y1="298.0" x2="46.9" y2="356.4" stroke="#000" stroke-width="1.2"/><line x1="46.3" y1="356.4" x2="236.7" y2="356.4" stroke="#000" stroke-width="1.3"/><line x1="43.5" y1="291.5" x2="49.8" y2="284.7" stroke="#000" stroke-width="1.0"/><line x1="43.5" y1="302.3" x2="49.8" y2="295.6" stroke="#000" stroke-width="1.0"/><line x1="44.1" y1="229.4" x2="46.9" y2="229.4" stroke="#000" stroke-width="1.0"/><text x="0" y="0" font-size="8.4" text-anchor="end" fill="#000" transform="translate(39.9,232.5) scale(1.12,1)">100</text><line x1="44.1" y1="244.05" x2="46.9" y2="244.05" stroke="#000" stroke-width="1.0"/><text x="0" y="0" font-size="8.4" text-anchor="end" fill="#000" transform="translate(39.9,247.15) scale(1.12,1)">95</text><line x1="44.1" y1="258.7" x2="46.9" y2="258.7" stroke="#000" stroke-width="1.0"/><text x="0" y="0" font-size="8.4" text-anchor="end" fill="#000" transform="translate(39.9,261.8) scale(1.12,1)">90</text><line x1="44.1" y1="273.35" x2="46.9" y2="273.35" stroke="#000" stroke-width="1.0"/><text x="0" y="0" font-size="8.4" text-anchor="end" fill="#000" transform="translate(39.9,276.45000000000005) scale(1.12,1)">85</text><text x="0" y="0" font-size="8.4" text-anchor="end" fill="#000" transform="translate(39.9,291.1) scale(1.12,1)">80</text><text x="0" y="0" font-size="8.4" text-anchor="end" fill="#000" transform="translate(39.9,301.5) scale(1.12,1)">10</text><line x1="44.1" y1="310.0" x2="46.9" y2="310.0" stroke="#000" stroke-width="1.0"/><text x="0" y="0" font-size="8.4" text-anchor="end" fill="#000" transform="translate(39.9,313.1) scale(1.12,1)">8</text><line x1="44.1" y1="321.59999999999997" x2="46.9" y2="321.59999999999997" stroke="#000" stroke-width="1.0"/><text x="0" y="0" font-size="8.4" text-anchor="end" fill="#000" transform="translate(39.9,324.7) scale(1.12,1)">6</text><line x1="44.1" y1="333.2" x2="46.9" y2="333.2" stroke="#000" stroke-width="1.0"/><text x="0" y="0" font-size="8.4" text-anchor="end" fill="#000" transform="translate(39.9,336.3) scale(1.12,1)">4</text><line x1="44.1" y1="344.79999999999995" x2="46.9" y2="344.79999999999995" stroke="#000" stroke-width="1.0"/><text x="0" y="0" font-size="8.4" text-anchor="end" fill="#000" transform="translate(39.9,347.9) scale(1.12,1)">2</text><line x1="44.1" y1="356.4" x2="46.9" y2="356.4" stroke="#000" stroke-width="1.0"/><text x="0" y="0" font-size="8.4" text-anchor="end" fill="#000" transform="translate(39.9,359.5) scale(1.12,1)">0</text><line x1="59.6" y1="356.4" x2="59.6" y2="359.8" stroke="#000" stroke-width="1.0"/><line x1="78.0" y1="356.4" x2="78.0" y2="359.8" stroke="#000" stroke-width="1.0"/><line x1="95.9" y1="356.4" x2="95.9" y2="359.8" stroke="#000" stroke-width="1.0"/><line x1="114.2" y1="356.4" x2="114.2" y2="359.8" stroke="#000" stroke-width="1.0"/><line x1="132.8" y1="356.4" x2="132.8" y2="359.8" stroke="#000" stroke-width="1.0"/><line x1="151.3" y1="356.4" x2="151.3" y2="359.8" stroke="#000" stroke-width="1.0"/><line x1="169.5" y1="356.4" x2="169.5" y2="359.8" stroke="#000" stroke-width="1.0"/><line x1="188.0" y1="356.4" x2="188.0" y2="359.8" stroke="#000" stroke-width="1.0"/><line x1="206.0" y1="356.4" x2="206.0" y2="359.8" stroke="#000" stroke-width="1.0"/><line x1="224.5" y1="356.4" x2="224.5" y2="359.8" stroke="#000" stroke-width="1.0"/><text x="59.800000000000004" y="372.8" font-size="11" text-anchor="middle" fill="#000">+</text><rect x="77.25" y="368.3" width="1.5" height="1.2" stroke="none" fill="#222" stroke-width="1"/><text x="96.10000000000001" y="372.8" font-size="11" text-anchor="middle" fill="#000">+</text><rect x="113.45" y="368.3" width="1.5" height="1.2" stroke="none" fill="#222" stroke-width="1"/><text x="133.0" y="372.8" font-size="11" text-anchor="middle" fill="#000">+</text><rect x="150.55" y="368.3" width="1.5" height="1.2" stroke="none" fill="#222" stroke-width="1"/><text x="169.7" y="372.8" font-size="11" text-anchor="middle" fill="#000">+</text><rect x="187.25" y="368.3" width="1.5" height="1.2" stroke="none" fill="#222" stroke-width="1"/><text x="206.2" y="372.8" font-size="11" text-anchor="middle" fill="#000">+</text><rect x="223.75" y="368.3" width="1.5" height="1.2" stroke="none" fill="#222" stroke-width="1"/><text x="249.4" y="372.2" font-size="8.6" text-anchor="middle" fill="#000">Dox</text><path d="M53.800000000000004,377.2 L53.800000000000004,379.6 Q53.800000000000004,381 55.300000000000004,381 L81.2,381 Q82.7,381 82.7,379.6 L82.7,377.2 M68.25,381 L68.25,384.3" fill="none" stroke="#111" stroke-width="1.2"/><text x="68.25" y="395.9" font-size="8.9" text-anchor="middle" fill="#000">I</text><path d="M90.10000000000001,377.2 L90.10000000000001,379.6 Q90.10000000000001,381 91.60000000000001,381 L117.4,381 Q118.9,381 118.9,379.6 L118.9,377.2 M104.5,381 L104.5,384.3" fill="none" stroke="#111" stroke-width="1.2"/><text x="104.5" y="395.9" font-size="8.9" text-anchor="middle" fill="#000">II</text><path d="M127.00000000000001,377.2 L127.00000000000001,379.6 Q127.00000000000001,381 128.5,381 L154.5,381 Q156.0,381 156.0,379.6 L156.0,377.2 M141.5,381 L141.5,384.3" fill="none" stroke="#111" stroke-width="1.2"/><text x="141.5" y="395.9" font-size="8.9" text-anchor="middle" fill="#000">III</text><path d="M163.7,377.2 L163.7,379.6 Q163.7,381 165.2,381 L191.2,381 Q192.7,381 192.7,379.6 L192.7,377.2 M178.2,381 L178.2,384.3" fill="none" stroke="#111" stroke-width="1.2"/><text x="178.2" y="395.9" font-size="8.9" text-anchor="middle" fill="#000">IV</text><path d="M200.2,377.2 L200.2,379.6 Q200.2,381 201.7,381 L227.7,381 Q229.2,381 229.2,379.6 L229.2,377.2 M214.7,381 L214.7,384.3" fill="none" stroke="#111" stroke-width="1.2"/><text x="214.7" y="395.9" font-size="8.9" text-anchor="middle" fill="#000">V</text><rect x="54" y="354" width="11.4" height="4.8" rx="2.4" fill="#b8102f"/><rect x="72" y="354" width="11.8" height="4.6" fill="#30529a"/><rect x="90.3" y="354.3" width="11.6" height="4.3" rx="1" fill="#b8102f"/><rect x="108.6" y="354.2" width="11.1" height="3.6" fill="#30529a"/><path d="M126.6,356.5 L126.6,338.6 L139.79999999999998,338.6 L139.79999999999998,356.5" fill="none" stroke="#b8102f" stroke-width="1.3"/><rect x="127.8" y="326.4" width="3.6" height="3.6" fill="#b8102f" transform="rotate(45 129.6 328.2)"/><rect x="134.79999999999998" y="324.8" width="3.6" height="3.6" fill="#b8102f" transform="rotate(45 136.6 326.6)"/><rect x="131.5" y="333.8" width="3.6" height="3.6" fill="#b8102f" transform="rotate(45 133.3 335.6)"/><rect x="134.79999999999998" y="345.0" width="3.6" height="3.6" fill="#b8102f" transform="rotate(45 136.6 346.8)"/><rect x="127.8" y="349.5" width="3.6" height="3.6" fill="#b8102f" transform="rotate(45 129.6 351.3)"/><line x1="133.3" y1="332.9" x2="133.3" y2="342.7" stroke="#000" stroke-width="1.1"/><line x1="130.8" y1="332.9" x2="135.8" y2="332.9" stroke="#000" stroke-width="1.2"/><line x1="130.8" y1="342.7" x2="135.8" y2="342.7" stroke="#000" stroke-width="1.2"/><circle cx="147.6" cy="354.6" r="2.7" fill="none" stroke="#30529a" stroke-width="0.95"/><circle cx="151.2" cy="353.2" r="2.7" fill="none" stroke="#30529a" stroke-width="0.95"/><circle cx="154.8" cy="355.2" r="2.7" fill="none" stroke="#30529a" stroke-width="0.95"/><circle cx="149.8" cy="356.6" r="2.7" fill="none" stroke="#30529a" stroke-width="0.95"/><circle cx="153.4" cy="356.8" r="2.7" fill="none" stroke="#30529a" stroke-width="0.95"/><path d="M162.8,356.5 L162.8,326.3 L176.4,326.3 L176.4,356.5" fill="none" stroke="#b8102f" stroke-width="1.3"/><rect x="167.10000000000002" y="299.8" width="5.4" height="5.4" fill="#fff" stroke="#b8102f" stroke-width="1.0"/><rect x="167.10000000000002" y="306.90000000000003" width="5.4" height="5.4" fill="#fff" stroke="#b8102f" stroke-width="1.0"/><rect x="163.0" y="332.90000000000003" width="5.4" height="5.4" fill="#fff" stroke="#b8102f" stroke-width="1.0"/><rect x="170.5" y="332.2" width="5.4" height="5.4" fill="#fff" stroke="#b8102f" stroke-width="1.0"/><rect x="166.60000000000002" y="339.6" width="5.4" height="5.4" fill="#fff" stroke="#b8102f" stroke-width="1.0"/><line x1="169.3" y1="317.1" x2="169.3" y2="333.2" stroke="#000" stroke-width="1.1"/><line x1="166.8" y1="317.1" x2="171.8" y2="317.1" stroke="#000" stroke-width="1.2"/><line x1="166.8" y1="333.2" x2="171.8" y2="333.2" stroke="#000" stroke-width="1.0"/><path d="M181.4,356.4 L181.4,346.5 L194.3,346.5 L194.3,356.4" fill="none" stroke="#30529a" stroke-width="1.3"/><path d="M188,332.1 L190.6,336.3 L185.4,336.3 Z" fill="#fff" fill-opacity="0.5" stroke="#30529a" stroke-width="0.9"/><path d="M185.2,346.6 L187.79999999999998,350.8 L182.6,350.8 Z" fill="#fff" fill-opacity="0.5" stroke="#30529a" stroke-width="0.9"/><path d="M190.8,346.20000000000005 L193.4,350.40000000000003 L188.20000000000002,350.40000000000003 Z" fill="#fff" fill-opacity="0.5" stroke="#30529a" stroke-width="0.9"/><path d="M187.5,349.1 L190.1,353.3 L184.9,353.3 Z" fill="#fff" fill-opacity="0.5" stroke="#30529a" stroke-width="0.9"/><path d="M186,345.1 L188.6,349.3 L183.4,349.3 Z" fill="#fff" fill-opacity="0.5" stroke="#30529a" stroke-width="0.9"/><line x1="188" y1="342.7" x2="188" y2="347" stroke="#000" stroke-width="1.0"/><line x1="185.6" y1="342.7" x2="190.4" y2="342.7" stroke="#000" stroke-width="1.1"/><path d="M200,287.7 L200,256.5 L212.6,256.5 L212.6,287.7" fill="none" stroke="#b8102f" stroke-width="1.4"/><path d="M218.5,287.7 L218.5,237.3 L230.8,237.3 L230.8,287.7" fill="none" stroke="#30529a" stroke-width="1.4"/><line x1="200" y1="298.8" x2="200" y2="356.4" stroke="#b8102f" stroke-width="1.4"/><line x1="212.6" y1="298.8" x2="212.6" y2="356.4" stroke="#b8102f" stroke-width="1.4"/><line x1="218.5" y1="298.8" x2="218.5" y2="356.4" stroke="#30529a" stroke-width="1.4"/><line x1="230.8" y1="298.8" x2="230.8" y2="356.4" stroke="#30529a" stroke-width="1.4"/><line x1="206.1" y1="250.3" x2="206.1" y2="259.6" stroke="#000" stroke-width="1.0"/><line x1="203.9" y1="259.6" x2="208.3" y2="259.6" stroke="#000" stroke-width="1.0"/><path d="M200.4,243.9 L205.6,243.9 L203,248.3 Z" fill="#fff" fill-opacity="0.6" stroke="#b8102f" stroke-width="1.1"/><path d="M207.5,240.1 L212.7,240.1 L210.1,244.5 Z" fill="#fff" fill-opacity="0.6" stroke="#b8102f" stroke-width="1.1"/><path d="M203.5,248.8 L208.7,248.8 L206.1,253.20000000000002 Z" fill="#fff" fill-opacity="0.6" stroke="#b8102f" stroke-width="1.1"/><path d="M203.5,260.59999999999997 L208.7,260.59999999999997 L206.1,265.0 Z" fill="#fff" fill-opacity="0.6" stroke="#b8102f" stroke-width="1.1"/><path d="M203.5,269.2 L208.7,269.2 L206.1,273.6 Z" fill="#fff" fill-opacity="0.6" stroke="#b8102f" stroke-width="1.1"/><line x1="203.9" y1="250.3" x2="208.3" y2="250.3" stroke="#000" stroke-width="1.2"/><path d="M218.89999999999998,234.6 L221.2,232.4 L223.5,234.6 L221.2,236.79999999999998 Z" fill="#fff" fill-opacity="0.4" stroke="#1e3c7c" stroke-width="1.1"/><path d="M221.89999999999998,233.8 L224.2,231.60000000000002 L226.5,233.8 L224.2,236.0 Z" fill="#fff" fill-opacity="0.4" stroke="#1e3c7c" stroke-width="1.1"/><path d="M224.89999999999998,234.4 L227.2,232.20000000000002 L229.5,234.4 L227.2,236.6 Z" fill="#fff" fill-opacity="0.4" stroke="#1e3c7c" stroke-width="1.1"/><path d="M223.2,235.6 L225.5,233.4 L227.8,235.6 L225.5,237.79999999999998 Z" fill="#fff" fill-opacity="0.4" stroke="#1e3c7c" stroke-width="1.1"/><path d="M226.7,234.8 L229.0,232.60000000000002 L231.3,234.8 L229.0,237.0 Z" fill="#fff" fill-opacity="0.4" stroke="#1e3c7c" stroke-width="1.1"/><line x1="221" y1="237.3" x2="228.5" y2="237.3" stroke="#222" stroke-width="0.9"/><text x="0" y="0" font-size="7.9" text-anchor="middle" fill="#000" transform="translate(65.9,342.9) scale(1.15,1)">p=1</text><line x1="58.0" y1="346.0" x2="74.6" y2="346.0" stroke="#222" stroke-width="1.4"/><text x="0" y="0" font-size="7.9" text-anchor="middle" fill="#000" transform="translate(106.1,339.9) scale(1.15,1)">p=0.083</text><line x1="98.1" y1="345.9" x2="113.8" y2="345.9" stroke="#222" stroke-width="1.4"/><text x="0" y="0" font-size="7.9" text-anchor="middle" fill="#000" transform="translate(141.6,315.5) scale(1.15,1)">p=0.020</text><line x1="133.5" y1="319.3" x2="149.5" y2="319.3" stroke="#222" stroke-width="1.4"/><text x="0" y="0" font-size="7.9" text-anchor="middle" fill="#000" transform="translate(179.3,288.5) scale(1.15,1)">p=0.038</text><line x1="171.2" y1="292.4" x2="187.3" y2="292.4" stroke="#222" stroke-width="1.4"/><text x="0" y="0" font-size="7.9" text-anchor="middle" fill="#000" transform="translate(215.6,223.4) scale(1.15,1)">p=0.02</text><line x1="207.6" y1="226.0" x2="223.8" y2="226.0" stroke="#222" stroke-width="1.4"/><text x="266.7" y="220.9" font-size="13.2" text-anchor="start" font-weight="bold" fill="#000" style="stroke:#000;stroke-width:0.35px">D</text><defs><clipPath id="cp1"><rect x="288" y="229.2" width="77.2" height="77.2"/></clipPath><clipPath id="cp2"><rect x="287.8" y="312.8" width="77.0" height="77.0"/></clipPath></defs><filter id="soft" x="-5%" y="-5%" width="110%" height="110%"><feGaussianBlur stdDeviation="0.45"/></filter><g clip-path="url(#cp1)"><g filter="url(#soft)"><rect x="287" y="228" width="80" height="80" fill="#f4f7fc"/><ellipse cx="343" cy="236" rx="24" ry="9.5" transform="rotate(0 343 236)" fill="#e0d3e8" stroke="#e0d3e8" stroke-width="0.7"/><g fill="#fff" opacity="0.75"><circle cx="351.0" cy="237.3" r="0.46"/><circle cx="353.7" cy="231.1" r="0.83"/><circle cx="342.0" cy="240.5" r="0.55"/><circle cx="330.1" cy="230.4" r="0.63"/><circle cx="350.7" cy="236.9" r="0.66"/><circle cx="356.9" cy="232.0" r="0.72"/><circle cx="348.0" cy="237.5" r="0.54"/><circle cx="345.3" cy="230.9" r="1.04"/><circle cx="357.6" cy="232.4" r="0.74"/><circle cx="346.0" cy="233.6" r="0.52"/><circle cx="330.4" cy="233.9" r="0.58"/><circle cx="343.0" cy="237.1" r="1.00"/><circle cx="338.4" cy="228.8" r="1.04"/><circle cx="327.8" cy="238.5" r="0.68"/><circle cx="349.7" cy="229.5" r="0.53"/><circle cx="351.9" cy="236.3" r="0.80"/><circle cx="341.7" cy="236.5" r="0.95"/><circle cx="345.9" cy="231.0" r="0.48"/></g><ellipse cx="360.5" cy="254" rx="7.5" ry="22" transform="rotate(0 360.5 254)" fill="#e2d8ea" stroke="#d8c8e0" stroke-width="0.7"/><g fill="#fff" opacity="0.75"><circle cx="363.9" cy="245.7" r="0.49"/><circle cx="358.4" cy="266.5" r="0.98"/><circle cx="355.7" cy="255.4" r="0.57"/><circle cx="360.7" cy="270.7" r="0.68"/><circle cx="364.2" cy="262.2" r="0.53"/><circle cx="361.8" cy="265.3" r="0.80"/><circle cx="357.2" cy="242.8" r="0.71"/><circle cx="365.2" cy="260.2" r="0.48"/><circle cx="356.8" cy="256.0" r="0.85"/><circle cx="359.8" cy="245.6" r="0.84"/><circle cx="359.0" cy="242.7" r="0.54"/><circle cx="364.4" cy="246.6" r="0.49"/><circle cx="360.9" cy="271.4" r="0.59"/><circle cx="356.3" cy="263.8" r="0.94"/><circle cx="357.1" cy="242.7" r="0.47"/><circle cx="365.4" cy="263.7" r="0.93"/><circle cx="361.8" cy="254.9" r="0.59"/><circle cx="363.0" cy="250.5" r="0.85"/><circle cx="364.8" cy="248.0" r="1.00"/><circle cx="360.3" cy="260.9" r="0.46"/><circle cx="360.6" cy="248.3" r="1.03"/><circle cx="359.9" cy="246.6" r="0.93"/></g><ellipse cx="341" cy="255" rx="18" ry="12.5" transform="rotate(0 341 255)" fill="#d8c4e0" stroke="#d8c4e0" stroke-width="0.7"/><g fill="#fff" opacity="0.75"><circle cx="346.4" cy="261.1" r="0.51"/><circle cx="344.1" cy="245.8" r="1.00"/><circle cx="354.3" cy="255.1" r="0.78"/><circle cx="345.4" cy="248.6" r="0.82"/><circle cx="330.3" cy="250.0" r="0.50"/><circle cx="351.0" cy="257.5" r="0.62"/><circle cx="340.0" cy="255.5" r="0.90"/><circle cx="354.0" cy="256.4" r="0.94"/><circle cx="336.1" cy="255.9" r="0.84"/><circle cx="343.5" cy="261.3" r="0.52"/><circle cx="351.5" cy="253.9" r="0.66"/><circle cx="351.2" cy="259.8" r="0.96"/><circle cx="343.7" cy="252.4" r="0.67"/><circle cx="336.9" cy="263.3" r="0.54"/><circle cx="329.8" cy="248.9" r="0.91"/><circle cx="344.9" cy="255.1" r="0.52"/><circle cx="337.1" cy="247.8" r="0.76"/><circle cx="332.2" cy="256.8" r="0.82"/></g><ellipse cx="320.8" cy="254" rx="8.2" ry="8.8" transform="rotate(0 320.8 254)" fill="#e8d3e6" stroke="#c9aacd" stroke-width="0.9"/><ellipse cx="309.5" cy="271.2" rx="12.5" ry="11" transform="rotate(-20 309.5 271.2)" fill="#dccae2" stroke="#cdb6d6" stroke-width="0.7"/><g fill="#fff" opacity="0.75"><circle cx="303.8" cy="264.4" r="0.89"/><circle cx="312.3" cy="263.1" r="0.95"/><circle cx="309.1" cy="269.7" r="0.86"/><circle cx="313.4" cy="266.5" r="0.98"/><circle cx="313.6" cy="278.9" r="0.72"/><circle cx="308.1" cy="266.9" r="0.63"/><circle cx="306.2" cy="275.3" r="0.51"/><circle cx="300.2" cy="274.3" r="0.84"/><circle cx="317.5" cy="268.0" r="0.95"/><circle cx="318.2" cy="270.9" r="0.61"/><circle cx="309.5" cy="276.9" r="0.46"/><circle cx="310.6" cy="279.4" r="1.00"/><circle cx="305.3" cy="278.0" r="0.91"/><circle cx="316.4" cy="266.2" r="0.77"/><circle cx="316.7" cy="276.1" r="0.64"/><circle cx="305.3" cy="267.4" r="0.77"/></g><ellipse cx="333.3" cy="280.5" rx="15.5" ry="16.5" transform="rotate(-20 333.3 280.5)" fill="#e0cde3" stroke="#c2a6cc" stroke-width="0.9"/><g fill="#fff" opacity="0.75"><circle cx="338.2" cy="279.4" r="0.77"/><circle cx="327.9" cy="272.7" r="1.01"/><circle cx="323.4" cy="287.4" r="0.86"/><circle cx="336.9" cy="279.7" r="0.58"/><circle cx="330.6" cy="292.7" r="0.46"/></g><ellipse cx="299" cy="292" rx="12" ry="14.5" transform="rotate(0 299 292)" fill="#d9c8e1" stroke="#cdb6d6" stroke-width="0.7"/><g fill="#fff" opacity="0.75"><circle cx="298.5" cy="301.8" r="1.04"/><circle cx="301.8" cy="298.9" r="0.86"/><circle cx="296.0" cy="282.7" r="0.90"/><circle cx="299.0" cy="297.9" r="0.47"/><circle cx="297.4" cy="287.1" r="0.61"/><circle cx="306.5" cy="289.9" r="0.80"/><circle cx="294.9" cy="284.5" r="0.87"/><circle cx="298.2" cy="294.8" r="0.49"/><circle cx="304.7" cy="292.6" r="0.54"/><circle cx="304.1" cy="297.3" r="1.03"/><circle cx="297.1" cy="286.4" r="0.91"/><circle cx="300.3" cy="295.3" r="0.63"/><circle cx="292.3" cy="297.2" r="0.72"/><circle cx="298.6" cy="288.5" r="1.01"/></g><ellipse cx="320" cy="294" rx="12" ry="12.5" transform="rotate(0 320 294)" fill="#dccde4" stroke="#cdb6d6" stroke-width="0.7"/><g fill="#fff" opacity="0.75"><circle cx="315.2" cy="301.6" r="0.47"/><circle cx="322.2" cy="289.8" r="0.96"/><circle cx="322.6" cy="286.3" r="0.62"/><circle cx="324.2" cy="294.3" r="0.99"/><circle cx="324.3" cy="300.8" r="0.80"/><circle cx="317.8" cy="290.4" r="0.54"/><circle cx="327.8" cy="299.7" r="0.68"/><circle cx="315.8" cy="287.8" r="0.58"/><circle cx="321.1" cy="294.5" r="0.96"/><circle cx="326.4" cy="301.2" r="0.67"/><circle cx="319.4" cy="290.3" r="0.92"/><circle cx="319.9" cy="300.1" r="0.76"/><circle cx="323.7" cy="297.2" r="0.93"/><circle cx="318.7" cy="300.0" r="0.91"/><circle cx="320.7" cy="298.3" r="0.58"/><circle cx="315.7" cy="298.0" r="0.83"/><circle cx="311.2" cy="295.6" r="0.48"/><circle cx="315.5" cy="286.2" r="0.59"/><circle cx="326.2" cy="295.2" r="0.52"/><circle cx="312.2" cy="296.1" r="0.51"/><circle cx="324.9" cy="298.7" r="0.55"/><circle cx="320.8" cy="300.6" r="0.52"/><circle cx="325.3" cy="296.5" r="0.73"/><circle cx="326.6" cy="291.1" r="0.49"/><circle cx="321.4" cy="302.5" r="0.79"/><circle cx="326.5" cy="286.9" r="0.96"/></g><ellipse cx="304.8" cy="302" rx="5" ry="4" fill="#a8447c" opacity="0.75"/><ellipse cx="337.7" cy="235.6" rx="6.9" ry="6.1" transform="rotate(0 337.7 235.6)" fill="#6c2482"/><ellipse cx="350.0" cy="245.5" rx="6.0" ry="6.3" transform="rotate(0 350.0 245.5)" fill="#6c2482"/><ellipse cx="331.3" cy="250.5" rx="6.3" ry="5.0" transform="rotate(0 331.3 250.5)" fill="#6c2482"/><ellipse cx="330.3" cy="260.6" rx="6.0" ry="4.6" transform="rotate(0 330.3 260.6)" fill="#6c2482"/><ellipse cx="350.3" cy="258.8" rx="6.2" ry="6.0" transform="rotate(0 350.3 258.8)" fill="#6c2482"/><ellipse cx="312.6" cy="269.2" rx="6.3" ry="6.1" transform="rotate(0 312.6 269.2)" fill="#6c2482"/><ellipse cx="334.1" cy="276.9" rx="7.7" ry="7.9" transform="rotate(0 334.1 276.9)" fill="#8a3c96"/><g fill="#6a1a78" opacity="0.6"><circle cx="339.0" cy="281.1" r="0.51"/><circle cx="334.3" cy="279.7" r="0.65"/><circle cx="334.5" cy="278.8" r="0.41"/><circle cx="338.1" cy="274.8" r="0.59"/><circle cx="338.1" cy="279.0" r="0.43"/><circle cx="335.6" cy="282.2" r="0.44"/><circle cx="338.9" cy="281.5" r="0.49"/><circle cx="334.4" cy="277.5" r="0.56"/><circle cx="333.1" cy="276.8" r="0.49"/><circle cx="333.8" cy="271.9" r="0.39"/><circle cx="329.0" cy="276.9" r="0.56"/><circle cx="337.7" cy="281.7" r="0.68"/><circle cx="333.7" cy="270.6" r="0.45"/><circle cx="336.4" cy="275.2" r="0.39"/><circle cx="329.0" cy="273.2" r="0.33"/><circle cx="334.4" cy="278.2" r="0.48"/><circle cx="335.9" cy="279.2" r="0.60"/><circle cx="328.6" cy="273.6" r="0.46"/><circle cx="333.8" cy="276.2" r="0.68"/><circle cx="334.6" cy="281.6" r="0.50"/><circle cx="338.5" cy="275.4" r="0.70"/><circle cx="331.9" cy="274.7" r="0.63"/><circle cx="336.1" cy="283.4" r="0.48"/><circle cx="335.1" cy="283.5" r="0.43"/><circle cx="330.9" cy="279.1" r="0.57"/><circle cx="338.1" cy="277.5" r="0.36"/><circle cx="334.1" cy="276.8" r="0.54"/><circle cx="333.9" cy="281.5" r="0.52"/><circle cx="333.5" cy="274.4" r="0.40"/><circle cx="338.8" cy="281.5" r="0.36"/><circle cx="337.2" cy="280.6" r="0.53"/><circle cx="335.3" cy="275.8" r="0.39"/><circle cx="336.6" cy="281.4" r="0.48"/><circle cx="328.9" cy="280.4" r="0.56"/><circle cx="338.2" cy="271.8" r="0.41"/><circle cx="338.0" cy="275.4" r="0.32"/><circle cx="335.9" cy="275.8" r="0.31"/><circle cx="333.2" cy="280.4" r="0.69"/><circle cx="337.0" cy="273.7" r="0.51"/><circle cx="337.5" cy="271.9" r="0.56"/><circle cx="331.9" cy="276.7" r="0.40"/><circle cx="331.3" cy="272.5" r="0.62"/><circle cx="339.3" cy="272.9" r="0.38"/><circle cx="339.7" cy="279.9" r="0.53"/><circle cx="336.4" cy="282.0" r="0.40"/></g><ellipse cx="298.9" cy="292.2" rx="6.4" ry="7.0" transform="rotate(0 298.9 292.2)" fill="#6c2482"/><ellipse cx="320.6" cy="292.0" rx="5.8" ry="5.4" transform="rotate(0 320.6 292.0)" fill="#6c2482"/><ellipse cx="323.4" cy="297.6" rx="6.4" ry="6.2" transform="rotate(0 323.4 297.6)" fill="#6c2482"/></g></g><rect x="287.7" y="228.9" width="77.0" height="77.6" stroke="#222" fill="none" stroke-width="1.4"/><text x="289.8" y="240.7" font-size="8.6" text-anchor="start" fill="#000">+Dox</text><line x1="342.8" y1="300.5" x2="361.1" y2="300.5" stroke="#000" stroke-width="1.7"/><g clip-path="url(#cp2)"><g filter="url(#soft)"><rect x="287" y="312" width="80" height="80" fill="#f4f7fc"/><ellipse cx="308" cy="363.5" rx="12.5" ry="13" transform="rotate(0 308 363.5)" fill="#e8e0ee" stroke="#e0d4e8" stroke-width="0.7"/><g fill="#fff" opacity="0.75"><circle cx="308.5" cy="369.8" r="0.76"/><circle cx="306.8" cy="361.0" r="0.89"/><circle cx="303.1" cy="358.5" r="0.85"/><circle cx="308.3" cy="362.5" r="0.74"/><circle cx="304.3" cy="355.6" r="0.84"/><circle cx="312.2" cy="372.7" r="0.92"/><circle cx="308.7" cy="370.3" r="1.02"/><circle cx="309.7" cy="369.9" r="1.03"/><circle cx="311.9" cy="360.6" r="0.89"/><circle cx="302.8" cy="370.0" r="0.91"/><circle cx="311.3" cy="367.0" r="0.58"/><circle cx="307.8" cy="365.5" r="0.53"/><circle cx="302.6" cy="367.3" r="0.50"/><circle cx="299.6" cy="358.5" r="0.80"/><circle cx="302.8" cy="370.4" r="0.71"/><circle cx="311.1" cy="369.9" r="0.46"/><circle cx="306.2" cy="359.8" r="0.67"/><circle cx="316.5" cy="361.4" r="0.95"/><circle cx="303.0" cy="357.0" r="0.87"/><circle cx="312.3" cy="362.5" r="0.91"/></g><ellipse cx="315.8" cy="343" rx="12.9" ry="13.3" transform="rotate(0 315.8 343)" fill="#ddcfe6" stroke="#d2c0dc" stroke-width="0.7"/><g fill="#fff" opacity="0.75"><circle cx="314.2" cy="348.1" r="0.94"/><circle cx="308.1" cy="337.2" r="0.98"/><circle cx="311.9" cy="340.5" r="0.46"/><circle cx="307.2" cy="341.0" r="0.61"/><circle cx="316.4" cy="343.3" r="0.55"/><circle cx="315.6" cy="342.4" r="0.59"/><circle cx="315.0" cy="351.9" r="1.04"/><circle cx="319.3" cy="343.4" r="1.01"/><circle cx="319.7" cy="342.2" r="0.65"/><circle cx="310.0" cy="342.2" r="0.70"/><circle cx="310.6" cy="343.7" r="0.48"/><circle cx="319.4" cy="345.2" r="0.50"/><circle cx="309.7" cy="336.8" r="0.61"/><circle cx="318.1" cy="334.2" r="0.66"/><circle cx="311.3" cy="343.2" r="1.01"/><circle cx="313.6" cy="342.1" r="0.54"/><circle cx="313.5" cy="336.8" r="0.88"/><circle cx="317.0" cy="352.4" r="0.93"/><circle cx="322.4" cy="347.5" r="0.56"/><circle cx="313.4" cy="333.8" r="0.92"/><circle cx="316.2" cy="346.2" r="0.85"/><circle cx="312.3" cy="341.4" r="0.57"/><circle cx="312.9" cy="341.3" r="0.83"/><circle cx="316.1" cy="348.4" r="0.70"/><circle cx="307.2" cy="341.1" r="0.47"/><circle cx="315.0" cy="338.1" r="0.62"/></g><ellipse cx="333.5" cy="359.5" rx="14.5" ry="13.6" transform="rotate(0 333.5 359.5)" fill="#d9c8e2" stroke="#ccb8d6" stroke-width="0.7"/><g fill="#fff" opacity="0.75"><circle cx="327.3" cy="352.5" r="0.82"/><circle cx="337.8" cy="356.7" r="0.64"/><circle cx="330.4" cy="354.8" r="0.54"/><circle cx="335.0" cy="368.9" r="0.95"/><circle cx="331.1" cy="349.1" r="0.93"/><circle cx="331.1" cy="365.2" r="0.88"/><circle cx="342.0" cy="362.4" r="0.50"/><circle cx="341.4" cy="361.9" r="0.54"/><circle cx="343.4" cy="355.3" r="0.73"/><circle cx="334.8" cy="363.1" r="0.75"/><circle cx="326.6" cy="358.6" r="0.88"/><circle cx="323.5" cy="357.7" r="0.51"/><circle cx="340.0" cy="362.4" r="0.74"/><circle cx="333.3" cy="368.4" r="0.58"/></g><ellipse cx="340.5" cy="338.5" rx="16.5" ry="12.5" transform="rotate(25 340.5 338.5)" fill="#cfb6d8" stroke="#bfa0ca" stroke-width="0.8"/><ellipse cx="335.5" cy="341.5" rx="10.5" ry="8.0" transform="rotate(25 335.5 341.5)" fill="#e6dcee" stroke="#e6dcee" stroke-width="0.7"/><g fill="#fff" opacity="0.75"><circle cx="333.1" cy="345.5" r="0.88"/><circle cx="336.2" cy="337.6" r="0.72"/><circle cx="342.8" cy="338.8" r="0.82"/><circle cx="340.0" cy="344.1" r="0.83"/><circle cx="335.2" cy="342.7" r="1.04"/><circle cx="338.0" cy="340.3" r="0.73"/><circle cx="332.1" cy="339.1" r="0.49"/><circle cx="335.5" cy="335.9" r="0.71"/><circle cx="340.0" cy="343.6" r="0.51"/><circle cx="337.4" cy="341.2" r="0.62"/><circle cx="335.8" cy="339.2" r="0.51"/><circle cx="338.6" cy="342.6" r="0.77"/><circle cx="337.2" cy="339.2" r="0.55"/><circle cx="336.0" cy="337.3" r="0.65"/></g><path d="M328.6,345.8 Q338,347 346.4,352.2" fill="none" stroke="#fff" stroke-width="0.9"/><ellipse cx="336.5" cy="339.9" rx="5.9" ry="5.1" transform="rotate(0 336.5 339.9)" fill="#6c2482"/><ellipse cx="318.8" cy="348.6" rx="6.3" ry="6.0" transform="rotate(0 318.8 348.6)" fill="#6c2482"/><ellipse cx="314.2" cy="362.5" rx="5.2" ry="5.5" transform="rotate(0 314.2 362.5)" fill="#6c2482"/><ellipse cx="327.5" cy="362.6" rx="5.2" ry="6.4" transform="rotate(0 327.5 362.6)" fill="#6c2482"/><ellipse cx="339.7" cy="359.8" rx="5.9" ry="6.0" transform="rotate(0 339.7 359.8)" fill="#6c2482"/></g></g><rect x="287.6" y="312.5" width="77.2" height="77.6" stroke="#222" fill="none" stroke-width="1.4"/><text x="289.8" y="323.5" font-size="8.6" text-anchor="start" fill="#000">-Dox</text><rect x="0.75" y="0.75" width="518.5" height="402.5" stroke="#000" fill="none" stroke-width="1.5"/></svg>
</body></html>
